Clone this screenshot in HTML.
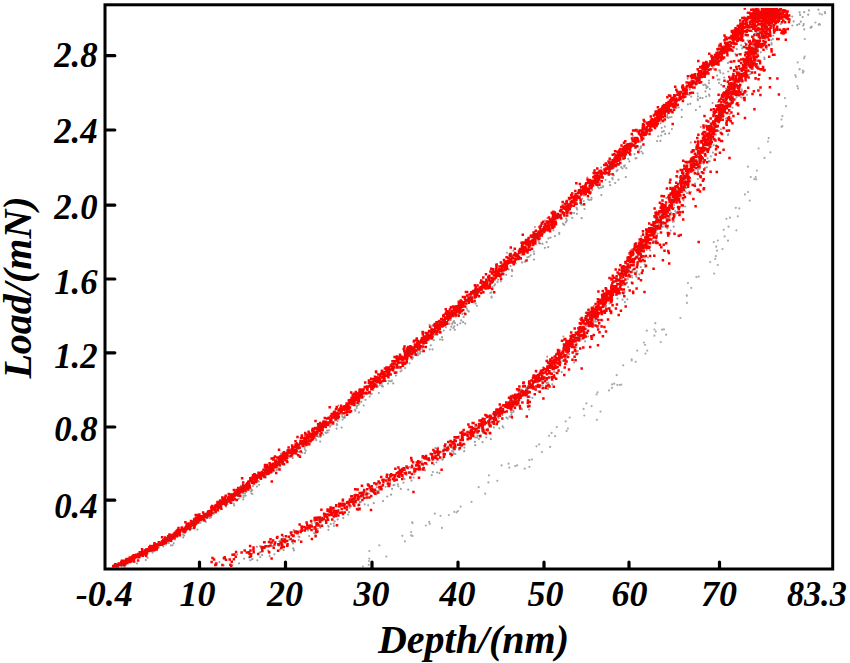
<!DOCTYPE html>
<html><head><meta charset="utf-8"><style>
html,body{margin:0;padding:0;background:#fff;}
body{width:850px;height:663px;overflow:hidden;}
svg{display:block;}
text{font-family:"Liberation Serif",serif;font-weight:bold;font-style:italic;font-size:36px;fill:#000;}
text.t{font-size:40px;}
</style></head><body>
<svg width="850" height="663" viewBox="0 0 850 663">
<defs><clipPath id="c"><rect x="106.5" y="8" width="724.7" height="559.5"/></clipPath><filter id="b" x="0" y="0" width="1" height="1"><feGaussianBlur stdDeviation="0.45"/></filter></defs>
<g clip-path="url(#c)"><g filter="url(#b)"><path d="M283.3 463.1h0M342.1 414.7h0M657.1 141.0h0M576.6 207.8h0M395.8 375.5h0M357.3 405.5h0M528.9 256.8h0M257.0 486.6h0M581.7 218.2h0M746.2 53.3h0M298.5 449.0h0M742.3 40.9h0M571.4 213.8h0M190.5 528.1h0M430.8 345.3h0M709.0 83.1h0M591.5 197.9h0M349.0 405.1h0M613.9 175.4h0M278.1 469.3h0M183.2 537.4h0M238.8 498.8h0M359.3 403.4h0M439.1 329.8h0M310.6 442.3h0M664.9 126.6h0M258.9 481.5h0M214.4 513.6h0M189.9 530.3h0M530.6 255.3h0M695.9 110.1h0M528.0 250.5h0M731.3 49.4h0M609.6 181.9h0M689.2 94.8h0M735.5 54.2h0M494.3 285.5h0M736.6 48.9h0M463.7 316.9h0M316.2 440.2h0M433.8 340.2h0M572.3 217.9h0M354.9 409.9h0M719.2 70.4h0M304.7 449.0h0M361.3 401.8h0M304.7 446.9h0M368.8 393.3h0M123.6 569.0h0M548.4 238.4h0M319.6 430.1h0M171.3 541.3h0M535.5 235.4h0M246.4 491.8h0M336.8 424.2h0M429.7 349.3h0M230.1 503.1h0M276.3 466.6h0M454.8 329.8h0M450.4 329.7h0M305.7 450.7h0M331.0 425.1h0M320.3 436.9h0M304.5 441.0h0M455.0 323.1h0M270.7 466.3h0M461.0 310.9h0M295.4 449.2h0M681.7 117.1h0M251.9 489.8h0M691.2 96.7h0M251.0 491.5h0M624.9 165.5h0M533.2 240.5h0M270.2 472.2h0M625.4 154.5h0M298.9 451.8h0M184.9 532.9h0M538.7 241.8h0M491.3 292.4h0M554.9 236.2h0M246.3 488.3h0M297.4 454.6h0M582.2 204.8h0M179.9 534.2h0M706.1 96.5h0M417.0 351.1h0M539.1 243.3h0M342.3 416.7h0M251.1 489.4h0M124.7 566.4h0M270.2 470.4h0M702.5 98.1h0M766.8 35.3h0M432.5 349.4h0M386.4 381.0h0M316.4 435.9h0M754.1 28.4h0M163.1 545.6h0M406.5 362.9h0M243.3 493.0h0M291.8 454.9h0M636.4 140.9h0M266.4 475.4h0M497.5 282.2h0M376.6 387.1h0M467.0 303.8h0M355.5 405.0h0M320.7 433.8h0M320.0 430.8h0M183.1 534.7h0M452.9 322.6h0M706.5 86.2h0M746.4 47.0h0M139.8 556.7h0M728.0 62.9h0M209.5 517.9h0M626.3 168.2h0M718.0 79.6h0M242.3 493.3h0M356.7 408.1h0M388.1 383.6h0M361.7 395.5h0M473.9 302.3h0M126.1 564.0h0M412.9 357.7h0M709.0 94.5h0M184.3 535.5h0M454.1 321.2h0M453.4 321.9h0M640.5 141.9h0M752.1 31.3h0M601.3 195.1h0M314.2 433.4h0M576.9 213.8h0M364.0 396.4h0M634.5 154.2h0M577.2 209.6h0M770.4 31.7h0M697.9 96.3h0M153.9 551.1h0M327.7 432.5h0M686.2 91.5h0M534.0 259.6h0M360.0 396.0h0M159.2 545.2h0M636.5 158.2h0M118.7 564.9h0M187.1 526.1h0M777.9 18.9h0M639.2 149.7h0M700.1 97.9h0M451.3 326.6h0M243.5 492.6h0M491.6 296.6h0M417.7 352.6h0M243.2 499.5h0M240.8 492.4h0M304.3 444.0h0M741.1 45.3h0M770.6 20.2h0M592.2 190.0h0M605.6 179.8h0M618.5 179.7h0M475.7 303.6h0M252.2 490.5h0M706.4 88.1h0M703.3 85.1h0M597.8 186.8h0M738.4 54.2h0M764.8 25.4h0M466.7 308.4h0M628.3 158.9h0M544.9 247.8h0M205.8 521.8h0M344.9 416.1h0M169.2 540.6h0M708.9 80.5h0M137.0 563.4h0M488.7 288.4h0M252.4 494.0h0M227.1 502.8h0M238.5 492.3h0M709.5 95.8h0M462.4 314.2h0M363.7 405.5h0M778.1 13.6h0M495.1 284.4h0M336.8 425.1h0M381.7 383.4h0M591.4 199.6h0M208.2 517.0h0M626.4 153.7h0M707.7 87.0h0M449.4 323.7h0M424.6 347.2h0M226.1 506.6h0M411.3 353.3h0M635.5 158.4h0M409.5 363.3h0M548.2 247.2h0M152.6 552.7h0M278.8 468.3h0M266.5 474.4h0M765.8 23.7h0M152.1 547.6h0M276.7 470.1h0M141.6 556.0h0M553.4 230.5h0M562.9 223.7h0M365.5 399.8h0M147.0 554.3h0M419.7 347.0h0M245.6 495.7h0M417.6 353.9h0M382.3 385.3h0M280.2 466.1h0M678.7 107.4h0M589.6 200.1h0M446.0 327.3h0M398.9 366.3h0M200.5 522.7h0M534.1 253.9h0M468.9 311.6h0M720.4 72.6h0M756.6 29.2h0M661.7 127.8h0M697.6 93.5h0M459.3 310.8h0M382.9 386.6h0M452.1 324.1h0M482.3 290.8h0M671.9 129.0h0M234.2 505.4h0M526.5 250.5h0M719.9 70.7h0M279.0 464.2h0M326.0 432.9h0M677.0 106.3h0M564.2 224.9h0M757.4 35.4h0M559.2 232.8h0M740.2 37.8h0M669.7 117.3h0M577.1 209.2h0M259.1 484.8h0M274.5 470.6h0M697.7 99.0h0M356.9 406.8h0M581.1 201.7h0M422.6 348.9h0M437.6 334.6h0M126.6 563.1h0M668.1 117.9h0M342.6 419.6h0M358.7 404.7h0M172.1 534.9h0M546.7 242.2h0M641.1 146.4h0M469.3 301.5h0M453.4 327.9h0M638.2 152.3h0M192.0 528.6h0M492.5 287.0h0M624.2 165.6h0M373.7 383.9h0M705.4 91.4h0M436.3 334.2h0M207.0 518.2h0M763.5 25.4h0M434.6 334.7h0M623.8 159.1h0M178.4 535.6h0M665.2 133.9h0M229.9 500.7h0M211.3 513.6h0M318.3 436.6h0M414.2 354.2h0M457.4 324.8h0M419.9 353.7h0M145.8 560.1h0M527.3 257.3h0M625.8 177.1h0M762.1 23.4h0M500.8 281.3h0M733.1 51.2h0M747.6 40.5h0M273.1 470.4h0M168.9 543.1h0M243.5 497.3h0M621.3 167.2h0M305.2 441.7h0M203.3 520.5h0M742.9 47.0h0M580.9 204.3h0M755.6 40.7h0M355.3 410.8h0M257.6 480.9h0M220.4 507.2h0M733.6 40.2h0M238.8 494.7h0M661.2 135.6h0M271.1 470.0h0M697.8 100.2h0M163.3 546.5h0M389.0 380.9h0M401.5 370.4h0M762.4 27.0h0M719.4 79.5h0M390.7 381.3h0M418.1 355.1h0M603.0 186.2h0M559.3 234.0h0M719.0 83.0h0M583.8 201.0h0M476.9 305.8h0M717.1 75.6h0M359.1 412.4h0M377.9 386.6h0M367.9 393.8h0M455.6 316.7h0M146.0 556.4h0M434.1 335.1h0M344.8 417.7h0M293.1 454.6h0M300.2 455.5h0M660.4 140.9h0M391.9 380.7h0M758.8 17.7h0M405.3 358.5h0M584.1 189.4h0M341.6 427.6h0M671.5 117.0h0M273.6 469.9h0M315.7 438.8h0M329.0 430.3h0M214.8 512.2h0M624.3 166.6h0M420.2 351.8h0M210.7 512.2h0M491.5 297.6h0M463.1 322.2h0M467.6 310.4h0M600.9 187.7h0M170.9 545.3h0M465.2 323.6h0M158.9 547.5h0M765.2 29.1h0M566.2 218.7h0M245.0 493.3h0M721.1 54.0h0M243.6 486.5h0M369.7 396.6h0M155.3 548.9h0M381.8 386.3h0M612.3 178.2h0M211.0 517.4h0M641.4 151.5h0M417.0 354.0h0M658.2 136.3h0M244.3 490.8h0M724.2 77.5h0M610.4 174.1h0M155.4 548.4h0M454.3 326.3h0M167.7 541.5h0M610.2 185.2h0M378.9 393.0h0M642.8 153.4h0M705.2 84.6h0M251.5 493.6h0M663.8 131.2h0M389.2 374.6h0M393.2 383.4h0M565.8 222.4h0M764.0 30.9h0M584.5 209.0h0M279.5 465.2h0M119.0 569.7h0M200.6 519.2h0M328.6 425.0h0M170.9 539.7h0M172.5 545.3h0M746.9 48.9h0M233.8 503.8h0M355.2 405.3h0M759.6 35.1h0M481.3 288.2h0M588.1 199.4h0M325.5 432.6h0M571.9 212.9h0M235.8 493.0h0M362.3 394.8h0M723.3 73.5h0M615.2 183.0h0M440.4 332.8h0M442.5 339.8h0M616.4 166.6h0M400.5 371.5h0M422.4 351.5h0M511.8 276.1h0M501.5 272.8h0M442.0 337.5h0M533.7 251.5h0M227.9 501.9h0M616.6 171.2h0M239.5 495.7h0M662.0 131.8h0M508.7 269.4h0M736.8 49.2h0M412.2 359.2h0M566.8 220.2h0M175.0 539.5h0M337.2 424.8h0M236.5 492.8h0M574.1 213.1h0M209.9 517.1h0M464.5 313.2h0M299.3 447.9h0M243.6 495.5h0M669.2 133.4h0M295.9 453.6h0M177.3 534.7h0M396.2 375.5h0M272.9 471.8h0M602.8 187.2h0M542.5 243.8h0M745.1 43.0h0M687.9 104.3h0M335.2 420.3h0M686.3 93.4h0M302.3 452.7h0M690.3 103.8h0M227.5 504.3h0M739.1 61.6h0M506.2 274.8h0M440.0 339.5h0M405.1 368.1h0M384.8 380.8h0M233.5 496.6h0M550.5 237.7h0M371.7 393.8h0M709.8 89.0h0M209.4 512.3h0M443.7 330.6h0M522.0 262.4h0M612.6 179.2h0M566.6 220.9h0M417.4 355.5h0M606.4 169.7h0M599.0 188.3h0M385.2 378.8h0M415.3 349.3h0M370.7 394.2h0M640.7 147.9h0M223.9 503.6h0M661.4 121.6h0M522.3 262.5h0M376.6 378.6h0M742.2 48.4h0M748.0 35.0h0M758.5 32.7h0M197.4 529.6h0M461.2 320.4h0M729.5 61.8h0M124.4 568.4h0M336.6 428.7h0M442.0 337.1h0M320.2 441.6h0M512.3 271.1h0M490.3 293.0h0M681.8 109.8h0M291.5 456.2h0M629.4 161.4h0M459.4 313.8h0M756.5 33.2h0M699.9 106.6h0M134.5 561.8h0M400.1 368.2h0M305.0 453.1h0M460.3 323.3h0M771.8 9.5h0M515.8 263.4h0M173.7 543.3h0M622.4 168.5h0M265.9 477.6h0M439.4 332.7h0M551.3 228.7h0M728.2 71.5h0M358.7 400.6h0M572.3 218.0h0M147.6 557.8h0M166.1 544.6h0M416.2 354.3h0M525.1 261.7h0M323.3 434.6h0M617.5 169.9h0M347.1 414.3h0M312.6 436.7h0M586.0 192.5h0M686.4 188.2h0M722.4 112.4h0M269.6 556.1h0M757.9 49.2h0M596.2 314.4h0M676.2 212.7h0M594.8 318.9h0M564.3 360.9h0M257.3 560.3h0M293.5 540.2h0M694.5 170.6h0M741.9 91.2h0M728.3 134.4h0M729.7 114.3h0M274.5 554.3h0M479.3 435.7h0M557.1 367.7h0M373.8 503.2h0M477.6 432.7h0M743.6 74.5h0M746.6 91.6h0M516.1 403.1h0M675.5 194.6h0M732.5 107.7h0M358.1 510.2h0M685.1 206.5h0M529.0 409.5h0M520.5 390.4h0M550.9 373.3h0M716.0 130.9h0M330.8 524.1h0M742.0 76.0h0M653.7 241.2h0M626.2 283.2h0M760.8 52.3h0M517.4 401.6h0M656.3 238.9h0M419.9 467.1h0M516.0 402.8h0M765.4 39.5h0M315.6 535.0h0M752.7 44.4h0M393.4 485.1h0M561.7 372.1h0M279.8 549.5h0M658.2 229.2h0M529.8 397.1h0M592.9 337.1h0M475.2 437.4h0M351.2 506.1h0M532.4 397.8h0M709.6 143.4h0M679.2 193.5h0M707.6 158.3h0M684.7 182.7h0M596.4 318.7h0M705.1 167.8h0M748.2 74.8h0M690.9 192.1h0M315.2 522.8h0M708.2 133.2h0M557.9 361.7h0M775.1 24.0h0M760.3 31.5h0M603.8 312.9h0M559.8 361.1h0M638.4 259.1h0M595.8 321.7h0M606.0 306.3h0M684.7 179.0h0M648.6 246.3h0M762.0 35.7h0M636.5 276.8h0M697.2 164.0h0M516.4 405.7h0M728.6 102.9h0M582.3 338.6h0M511.7 412.5h0M712.4 139.3h0M498.1 416.1h0M742.4 95.5h0M783.6 10.9h0M312.0 524.0h0M713.3 115.4h0M720.6 113.2h0M697.3 156.7h0M283.9 539.3h0M708.3 138.2h0M334.7 521.3h0M293.1 548.3h0M736.8 96.6h0M725.8 118.7h0M464.2 451.2h0M437.1 472.5h0M628.2 287.1h0M455.3 453.9h0M632.7 270.3h0M746.9 64.7h0M513.6 412.0h0M758.5 66.3h0M698.4 169.4h0M611.1 297.1h0M413.5 477.5h0M670.9 212.6h0M720.6 118.7h0M318.9 519.5h0M650.2 250.3h0M528.1 392.8h0M695.0 183.7h0M671.4 206.7h0M707.9 149.9h0M413.6 471.8h0M293.9 550.4h0M475.2 445.2h0M737.7 92.4h0M674.0 221.3h0M743.2 69.1h0M348.1 514.6h0M498.7 418.3h0M761.6 47.0h0M453.6 449.5h0M677.9 207.4h0M421.7 461.4h0M720.1 121.1h0M764.3 57.7h0M260.1 546.3h0M371.1 496.2h0M674.4 195.4h0M438.1 447.6h0M453.4 454.1h0M349.6 508.0h0M731.1 118.7h0M736.0 76.1h0M542.7 385.3h0M432.9 472.0h0M477.0 427.0h0M632.2 277.5h0M283.6 550.2h0M755.7 61.3h0M701.0 175.8h0M217.2 569.7h0M645.8 246.5h0M604.6 304.4h0M556.0 368.1h0M645.3 267.1h0M679.8 197.8h0M675.3 214.7h0M757.3 55.1h0M509.6 416.7h0M511.4 414.7h0M368.2 505.3h0M747.0 94.8h0M439.7 457.8h0M499.2 414.8h0M667.6 218.5h0M414.4 474.2h0M607.3 308.9h0M667.4 228.5h0M666.2 217.7h0M511.0 412.1h0M603.2 312.4h0M716.4 145.3h0M423.6 467.4h0M328.4 529.8h0M761.7 69.0h0M663.2 224.4h0M639.3 274.4h0M609.8 308.0h0M569.2 354.2h0M431.8 475.1h0M771.6 44.4h0M576.7 343.7h0M364.7 504.3h0M643.9 250.4h0M388.1 481.7h0M522.1 409.2h0M269.5 553.3h0M552.3 384.4h0M748.7 74.8h0M781.1 18.9h0M453.5 452.0h0M618.2 294.0h0M733.1 94.2h0M560.8 362.8h0M627.3 265.8h0M526.2 388.2h0M773.3 15.7h0M770.7 27.5h0M483.1 432.8h0M404.5 479.1h0M644.8 264.6h0M439.5 473.2h0M703.0 134.1h0M400.8 488.9h0M577.8 351.2h0M730.7 100.7h0M459.0 449.8h0M275.6 542.0h0M592.6 324.4h0M387.2 496.5h0M318.5 523.9h0M378.8 490.4h0M293.0 543.5h0M773.3 35.6h0M252.6 559.1h0M744.6 74.7h0M687.1 193.2h0M349.7 507.8h0M624.9 302.2h0M499.3 428.3h0M477.2 437.7h0M682.4 187.3h0M336.5 516.1h0M674.4 201.5h0M360.7 502.1h0M774.8 30.5h0M564.5 350.9h0M250.2 560.3h0M443.1 458.5h0M597.3 312.7h0M336.5 525.3h0M655.4 242.5h0M682.1 198.4h0M704.6 149.7h0M673.6 202.8h0M251.9 559.2h0M483.0 425.1h0M634.4 272.5h0M707.0 139.5h0M376.6 494.3h0M784.0 17.3h0M642.2 255.8h0M773.3 22.1h0M560.0 359.6h0M736.7 96.3h0M640.4 251.3h0M565.9 357.7h0M648.0 257.5h0M530.6 383.0h0M733.2 92.9h0M349.0 512.2h0M586.0 325.8h0M477.5 431.0h0M745.5 65.0h0M771.3 40.1h0M629.2 259.0h0M562.5 360.8h0M729.8 105.3h0M609.5 303.5h0M710.1 136.5h0M697.7 168.1h0M244.1 558.7h0M638.5 255.7h0M627.3 299.4h0M729.6 118.3h0M636.1 257.3h0M745.2 70.6h0M711.5 146.5h0M502.5 426.3h0M736.2 92.9h0M713.7 145.2h0M358.5 505.6h0M631.5 282.4h0M576.2 341.6h0M477.7 432.2h0M685.5 191.4h0M718.8 131.1h0M643.2 256.4h0M771.5 43.1h0M328.6 526.7h0M716.1 134.6h0M317.8 524.0h0M703.6 163.6h0M672.6 218.2h0M656.6 230.2h0M488.0 428.7h0M449.1 448.9h0M689.2 183.7h0M518.8 403.8h0M718.5 110.3h0M546.4 378.9h0M567.1 354.1h0M674.1 205.0h0M411.5 480.7h0M721.0 129.3h0M360.1 508.1h0M542.1 381.3h0M293.5 548.6h0M656.5 229.4h0M538.6 391.4h0M602.8 300.9h0M736.5 97.2h0M307.9 530.4h0M673.2 196.4h0M546.6 383.1h0M260.2 557.0h0M675.2 211.0h0M459.1 448.7h0M697.8 170.0h0M763.3 45.0h0M605.5 307.6h0M623.7 285.1h0M728.0 135.1h0M655.7 228.7h0M511.2 403.0h0M684.4 182.3h0M668.5 211.4h0M358.5 507.6h0M636.1 275.7h0M697.8 179.0h0M738.2 89.7h0M398.3 486.3h0M670.7 230.6h0M474.9 441.9h0M708.8 161.1h0M533.0 386.7h0M689.3 191.5h0M218.0 570.3h0M641.3 249.3h0M746.6 76.9h0M786.8 12.5h0M675.3 198.6h0M766.8 49.0h0M602.6 320.4h0M631.8 275.8h0M748.8 71.2h0M688.7 182.2h0M766.1 44.9h0M624.6 292.3h0M773.8 14.6h0M239.0 563.4h0M597.9 321.0h0M469.6 437.5h0M365.7 494.3h0M623.4 283.2h0M553.2 360.9h0M442.5 459.8h0M621.8 284.9h0M395.4 479.0h0M358.0 505.3h0M742.0 75.7h0M543.9 377.1h0M334.0 526.0h0M654.5 232.8h0M744.8 52.7h0M337.7 519.4h0M581.0 332.5h0M259.6 552.5h0M709.7 161.4h0M706.8 150.4h0M636.4 272.9h0M577.4 334.3h0M481.7 428.1h0M610.5 295.7h0M617.4 298.5h0M586.3 328.5h0M552.3 359.9h0M786.0 14.3h0M677.7 197.3h0M436.5 462.3h0M343.2 518.1h0M383.0 501.1h0M712.9 139.2h0M764.5 59.2h0M364.1 494.5h0M554.1 371.9h0M314.0 533.3h0M622.2 268.3h0M369.2 493.5h0M515.5 403.6h0M464.4 447.6h0M684.8 185.4h0M568.5 351.8h0M654.3 233.5h0M493.9 427.4h0M461.4 446.6h0M223.7 565.3h0M292.2 541.9h0M333.7 523.6h0M604.3 304.9h0M615.7 295.0h0M527.4 397.6h0M506.4 417.6h0M772.9 38.8h0M665.9 224.6h0M730.4 92.5h0M598.4 325.7h0M710.8 156.3h0M623.6 294.6h0M777.9 29.2h0M533.3 382.6h0M620.1 288.6h0M548.2 382.7h0M585.1 341.3h0M486.5 430.2h0M708.6 149.7h0M670.1 205.4h0M698.0 171.8h0M671.3 194.5h0M687.0 185.1h0M783.9 20.6h0M689.5 171.4h0M512.4 418.3h0M574.1 362.5h0M451.3 456.3h0M627.2 275.9h0M580.0 338.4h0M455.5 445.1h0M622.3 292.7h0M540.6 378.5h0M487.6 431.1h0M555.7 362.5h0M392.1 488.9h0M538.7 378.7h0M581.3 339.4h0M314.7 528.5h0M741.2 97.5h0M609.4 301.3h0M464.9 444.5h0M228.0 569.9h0M757.4 45.7h0M565.5 350.4h0M601.7 314.0h0M502.6 413.1h0M622.5 299.7h0M729.1 111.2h0M309.2 536.0h0M627.6 276.6h0M579.9 319.0h0M705.0 167.8h0M674.2 207.5h0M723.7 98.6h0M740.5 76.6h0M662.7 226.9h0M486.3 437.4h0M317.3 531.9h0M741.7 89.4h0M215.7 568.7h0M685.6 181.0h0M603.7 306.6h0M394.4 485.0h0M537.8 379.6h0M694.8 173.7h0M507.6 418.6h0M687.4 163.4h0M586.4 332.1h0M746.0 74.7h0M513.4 410.5h0M548.0 388.9h0M775.5 11.5h0M673.7 226.7h0M766.2 47.6h0M408.2 489.7h0M595.1 319.9h0M425.1 470.4h0M551.5 373.2h0M403.5 482.6h0M638.0 256.9h0M560.0 359.5h0M602.7 311.6h0M636.7 271.3h0M708.5 134.9h0M593.8 321.8h0M600.6 310.8h0M540.1 387.5h0M683.6 200.5h0M352.3 501.5h0M723.1 110.2h0M320.4 526.7h0M659.2 223.4h0M578.1 353.8h0M482.6 442.2h0M554.4 375.8h0M595.8 325.5h0M219.4 562.1h0M586.9 325.8h0M328.2 525.8h0M632.7 283.7h0M482.4 431.5h0M397.8 484.4h0M706.9 167.3h0M503.4 427.5h0M287.6 540.8h0M318.0 531.0h0M541.9 388.5h0M657.1 220.9h0M659.2 227.9h0M433.9 464.5h0M403.4 477.5h0M750.6 74.0h0M452.1 450.8h0M644.9 239.2h0M625.1 272.1h0M765.6 20.0h0M495.0 416.7h0M697.1 174.2h0M594.2 325.4h0M555.5 372.6h0M712.9 152.6h0M378.6 487.4h0M249.1 557.4h0M529.1 396.5h0M601.8 326.0h0M735.4 99.4h0M592.5 324.4h0M576.4 347.5h0M658.8 224.4h0M725.8 94.0h0M644.7 257.7h0M611.1 297.7h0M711.5 146.5h0M273.0 546.0h0M418.9 467.1h0M588.1 336.5h0M583.0 338.7h0M640.8 267.2h0M353.9 504.1h0M298.7 540.1h0M479.0 439.0h0M780.7 24.2h0M761.5 47.8h0M765.3 44.4h0M624.0 282.7h0M477.3 435.7h0M657.6 233.6h0M551.0 376.9h0M261.9 549.6h0M262.2 555.1h0M359.8 498.7h0M560.3 363.8h0M747.1 71.5h0M480.6 435.0h0M684.3 187.9h0M377.9 492.3h0M518.9 396.3h0M672.9 221.8h0M661.9 214.8h0M281.4 539.1h0M232.4 565.0h0M726.7 118.4h0M567.1 355.0h0M713.2 134.5h0M592.9 315.9h0M391.1 494.7h0M540.4 373.5h0M490.8 439.2h0M747.7 56.2h0M737.6 80.8h0M490.8 425.3h0M703.7 151.1h0M811.6 27.1h0M790.1 20.1h0M799.6 12.4h0M800.8 21.7h0M809.0 10.4h0M800.1 14.9h0M824.8 12.0h0M808.2 14.7h0M804.2 12.2h0M819.3 24.0h0M797.2 24.9h0M811.5 26.7h0M825.2 13.2h0M819.9 24.4h0M804.2 29.3h0M792.2 16.6h0M803.2 25.5h0M799.3 24.1h0M818.8 24.7h0M802.7 17.0h0M803.8 24.0h0M792.3 25.5h0M810.6 27.7h0M793.6 21.4h0M818.4 9.7h0" stroke="#777" stroke-opacity="0.7" stroke-width="2.2" stroke-linecap="round" fill="none"/>
<path d="M655.3 323.2h0M654.4 335.7h0M717.8 265.0h0M434.8 513.7h0M517.2 465.3h0M631.7 360.5h0M756.9 170.6h0M597.5 392.4h0M729.9 217.7h0M781.5 119.5h0M798.0 88.4h0M429.7 523.8h0M631.7 359.4h0M680.4 318.0h0M440.5 515.8h0M441.9 527.9h0M551.6 432.9h0M804.8 39.0h0M536.5 446.3h0M369.0 561.1h0M717.8 240.5h0M784.9 98.1h0M412.1 522.4h0M713.8 242.1h0M637.3 350.6h0M802.8 72.7h0M497.3 480.8h0M696.4 277.1h0M691.3 287.9h0M736.4 230.3h0M411.1 535.3h0M471.5 501.9h0M728.5 226.7h0M716.2 246.7h0M529.4 466.8h0M457.9 511.0h0M786.0 106.2h0M822.0 14.5h0M614.2 383.7h0M456.6 512.4h0M362.9 566.6h0M723.7 229.8h0M686.9 295.8h0M647.3 350.6h0M412.6 523.1h0M612.0 387.9h0M755.7 177.0h0M764.5 157.9h0M747.9 166.7h0M583.6 408.9h0M539.2 444.4h0M529.3 459.9h0M616.7 375.2h0M750.8 177.0h0M386.3 556.5h0M744.9 194.4h0M726.4 218.8h0M501.6 465.4h0M799.7 69.2h0M646.8 330.7h0M645.5 353.6h0M379.3 545.3h0M795.9 76.8h0M619.7 385.0h0M369.3 551.1h0M722.5 249.1h0M541.9 452.1h0M369.3 558.6h0M524.7 468.7h0M768.7 138.1h0M756.2 179.4h0M621.3 384.6h0M815.4 22.5h0M425.8 525.5h0M686.9 302.9h0M454.3 511.8h0M795.3 75.0h0M478.7 487.2h0M666.1 334.7h0M768.0 141.5h0M549.0 435.8h0M643.8 342.5h0M566.6 430.9h0M715.8 256.2h0M686.8 295.4h0M532.0 459.5h0M609.0 390.4h0M737.8 216.3h0M567.9 428.5h0M584.3 415.5h0M782.4 116.1h0M612.1 384.4h0M819.7 13.7h0M404.9 541.3h0M488.9 475.3h0M596.6 394.5h0M402.3 535.8h0M781.5 126.8h0M509.3 467.7h0M724.6 236.4h0M645.1 344.8h0M429.2 521.8h0M758.6 148.5h0M739.3 208.4h0M715.2 259.0h0M565.7 421.3h0M654.5 329.5h0M556.8 427.1h0M714.2 273.6h0M368.7 564.8h0M797.3 86.1h0M660.7 342.1h0M804.0 58.3h0M655.8 331.6h0M586.4 403.3h0M735.8 207.8h0M748.0 192.0h0M797.7 62.4h0M515.3 466.1h0M596.9 419.8h0M717.1 250.7h0M802.8 70.6h0M411.1 532.1h0M664.0 329.3h0M460.7 506.6h0M508.6 463.7h0M485.2 493.7h0M749.8 200.6h0M555.1 436.2h0M488.4 482.4h0M662.1 329.7h0M591.6 406.1h0M617.3 384.8h0M728.0 240.7h0M550.1 446.9h0M803.7 71.6h0M569.7 417.6h0M710.2 262.0h0M688.0 283.0h0M635.7 361.8h0M782.3 126.2h0M804.7 56.6h0M698.7 276.5h0M623.2 365.3h0M600.5 411.6h0M448.9 515.0h0M799.4 69.4h0M770.4 152.3h0M754.3 179.1h0M412.5 535.9h0" stroke="#888" stroke-opacity="0.7" stroke-width="2.2" stroke-linecap="round" fill="none"/>
<path d="M413.8 341.5h0M260.6 478.1h0M145.7 550.7h0M655.5 124.5h0M384.9 368.6h0M266.4 471.7h0M686.7 90.0h0M731.3 43.6h0M549.9 219.6h0M700.3 67.6h0M383.0 377.1h0M599.2 179.5h0M567.0 207.2h0M355.9 399.8h0M251.0 480.7h0M460.9 301.9h0M266.8 473.8h0M525.9 251.2h0M347.0 411.7h0M139.0 555.5h0M494.4 271.7h0M667.4 97.3h0M517.7 254.4h0M401.7 362.5h0M389.1 372.0h0M263.7 474.9h0M585.8 184.5h0M314.4 436.4h0M527.4 249.6h0M396.2 372.5h0M350.0 407.6h0M114.1 569.3h0M700.2 66.9h0M255.2 475.7h0M441.2 319.0h0M175.3 535.9h0M151.9 548.1h0M129.4 558.8h0M427.3 333.1h0M571.1 205.2h0M188.6 523.4h0M126.1 562.2h0M630.9 146.6h0M608.8 174.5h0M308.3 438.1h0M320.1 422.9h0M163.4 543.7h0M441.1 324.5h0M582.8 191.6h0M340.6 409.3h0M501.3 269.8h0M325.1 422.1h0M383.1 373.8h0M234.5 493.8h0M474.8 297.4h0M319.7 431.0h0M281.2 456.1h0M733.1 39.8h0M727.9 42.8h0M738.9 34.4h0M140.5 555.1h0M438.8 325.1h0M519.1 256.8h0M541.8 235.4h0M223.5 500.6h0M615.1 160.5h0M194.4 520.6h0M194.4 519.7h0M175.8 532.0h0M376.1 377.3h0M683.5 87.5h0M297.3 448.1h0M340.6 412.3h0M377.4 377.6h0M174.9 533.1h0M620.8 155.6h0M676.5 101.0h0M430.6 337.8h0M148.4 550.3h0M646.4 131.1h0M717.5 49.2h0M164.2 540.5h0M590.3 186.2h0M527.3 241.7h0M217.3 505.3h0M747.6 35.3h0M522.6 252.4h0M629.2 146.3h0M727.7 49.9h0M142.7 553.5h0M442.8 319.8h0M422.5 339.8h0M539.4 232.1h0M662.7 116.7h0M628.4 146.2h0M170.1 537.4h0M218.6 503.4h0M522.3 244.7h0M297.4 445.9h0M284.2 456.6h0M455.5 312.5h0M278.9 462.6h0M137.9 555.9h0M340.5 407.9h0M668.4 109.0h0M704.9 63.0h0M440.8 324.5h0M697.9 79.0h0M671.2 109.9h0M343.7 407.2h0M567.0 207.2h0M172.8 535.9h0M653.9 115.6h0M203.7 517.9h0M545.5 225.4h0M434.7 331.6h0M670.0 100.4h0M147.8 551.0h0M728.3 47.8h0M345.5 407.2h0M664.5 119.4h0M241.2 490.5h0M685.7 92.8h0M541.8 223.4h0M424.2 341.5h0M735.5 28.3h0M675.1 95.8h0M149.2 548.3h0M142.0 552.8h0M358.9 401.3h0M546.5 225.4h0M133.3 558.1h0M362.9 390.2h0M502.0 267.4h0M305.7 434.6h0M607.1 169.0h0M129.9 560.0h0M620.5 148.9h0M593.7 173.0h0M229.0 496.7h0M284.9 456.6h0M566.9 202.8h0M194.9 518.7h0M361.5 394.5h0M552.7 213.9h0M460.3 308.4h0M569.1 208.8h0M543.3 221.8h0M426.3 338.7h0M523.9 249.4h0M576.2 199.9h0M613.2 167.5h0M460.3 312.0h0M315.7 432.8h0M519.4 253.0h0M301.1 443.6h0M264.9 471.6h0M445.6 324.0h0M494.3 278.5h0M599.6 176.5h0M177.0 536.2h0M333.2 422.5h0M657.7 123.5h0M517.0 255.4h0M151.5 549.0h0M117.0 568.5h0M685.3 96.4h0M537.7 238.1h0M724.2 47.5h0M145.3 551.7h0M581.2 194.5h0M674.9 101.3h0M741.6 36.7h0M304.2 444.3h0M447.1 312.7h0M320.9 428.9h0M698.2 80.0h0M447.2 315.2h0M605.4 165.0h0M252.5 481.8h0M697.2 77.7h0M459.5 312.7h0M496.8 273.6h0M602.1 177.4h0M264.7 476.7h0M598.2 182.1h0M659.0 115.4h0M161.5 543.1h0M612.6 161.5h0M370.6 383.4h0M716.5 62.3h0M735.9 30.3h0M599.9 171.1h0M626.8 144.8h0M447.7 318.1h0M527.0 244.5h0M646.3 131.5h0M458.9 309.8h0M633.1 130.5h0M705.0 65.0h0M499.7 269.8h0M574.2 202.4h0M558.8 217.2h0M116.2 565.0h0M750.6 17.0h0M392.5 361.2h0M155.7 546.9h0M241.9 489.1h0M447.9 319.1h0M536.9 235.0h0M660.3 111.5h0M359.6 389.8h0M580.6 200.0h0M748.4 12.7h0M198.8 517.0h0M295.9 451.2h0M217.4 504.5h0M511.3 261.1h0M371.8 389.1h0M295.4 451.9h0M517.1 256.5h0M628.1 148.8h0M625.1 155.0h0M283.4 458.8h0M616.5 161.4h0M218.3 506.0h0M425.0 337.0h0M495.9 268.9h0M206.8 517.1h0M603.4 172.7h0M618.6 164.3h0M406.8 348.9h0M647.0 122.7h0M526.3 244.0h0M174.0 533.8h0M207.9 513.0h0M614.5 158.4h0M240.8 489.0h0M554.3 219.1h0M294.7 453.1h0M274.5 466.5h0M449.7 313.0h0M135.3 556.9h0M710.0 63.2h0M151.6 550.6h0M612.7 154.7h0M547.8 222.2h0M293.5 450.8h0M476.6 289.0h0M446.8 322.3h0M476.7 288.7h0M667.3 108.3h0M444.6 323.7h0M129.8 562.1h0M669.8 111.0h0M367.6 387.3h0M741.0 36.8h0M305.8 437.4h0M580.9 192.5h0M411.5 354.2h0M619.4 151.0h0M569.8 208.9h0M508.2 258.3h0M534.3 240.7h0M134.6 557.5h0M206.2 515.7h0M398.3 363.1h0M640.0 130.6h0M127.9 560.8h0M145.4 552.7h0M135.5 556.7h0M678.6 100.1h0M711.7 56.6h0M122.4 562.7h0M471.9 300.5h0M424.1 339.7h0M139.2 555.2h0M459.9 307.8h0M419.1 347.8h0M233.0 494.4h0M660.3 118.8h0M516.4 254.8h0M548.5 224.4h0M292.4 448.0h0M127.3 562.9h0M344.0 409.7h0M726.6 44.4h0M679.6 95.0h0M278.7 459.6h0M658.7 120.8h0M659.8 110.3h0M114.4 566.7h0M546.9 225.4h0M676.4 99.6h0M578.0 193.2h0M194.8 520.6h0M619.8 158.8h0M190.2 527.8h0M400.5 356.9h0M156.9 544.7h0M209.0 511.8h0M366.9 386.6h0M546.4 229.1h0M394.6 357.0h0M480.6 282.7h0M153.8 546.4h0M489.3 280.3h0M745.7 27.2h0M382.5 377.5h0M193.1 524.2h0M630.7 143.8h0M304.7 440.1h0M509.3 262.7h0M699.5 79.8h0M117.1 567.2h0M127.5 560.6h0M193.3 522.3h0M455.6 315.2h0M540.1 235.0h0M403.2 362.6h0M154.5 546.7h0M466.0 300.2h0M149.4 550.3h0M570.4 198.0h0M347.5 408.1h0M652.3 121.6h0M634.6 139.0h0M276.0 463.7h0M364.8 387.0h0M222.6 502.2h0M362.3 397.5h0M745.3 19.6h0M542.2 230.9h0M492.5 273.4h0M707.5 71.8h0M431.7 338.4h0M264.9 466.9h0M304.8 441.8h0M539.6 234.0h0M129.7 560.9h0M117.5 567.0h0M149.5 550.1h0M418.8 346.3h0M437.3 325.1h0M174.5 537.9h0M383.0 377.6h0M145.8 550.2h0M466.0 300.6h0M148.7 549.8h0M719.7 48.8h0M297.5 444.9h0M390.8 365.6h0M228.8 501.1h0M699.4 82.8h0M275.9 464.6h0M171.8 538.8h0M456.4 306.4h0M138.4 555.6h0M640.0 134.6h0M724.0 53.1h0M717.8 53.0h0M377.2 380.0h0M521.5 249.6h0M635.2 139.0h0M658.3 113.3h0M727.1 49.4h0M153.3 546.0h0M477.9 290.9h0M477.6 285.6h0M219.7 502.2h0M750.7 14.0h0M216.9 505.4h0M313.1 436.7h0M189.1 524.4h0M291.6 449.6h0M472.2 293.2h0M663.5 113.5h0M597.4 181.0h0M250.9 481.2h0M349.2 403.1h0M247.3 488.3h0M475.9 296.7h0M298.1 446.5h0M122.1 563.5h0M115.2 564.3h0M256.1 477.2h0M428.6 339.1h0M597.1 176.3h0M726.3 37.6h0M440.2 323.6h0M120.7 563.7h0M485.7 285.3h0M446.7 318.5h0M642.8 133.7h0M481.0 293.0h0M553.9 218.1h0M287.0 452.7h0M169.7 538.0h0M733.5 40.7h0M458.8 303.8h0M203.2 517.8h0M118.7 563.4h0M275.2 461.6h0M388.9 371.8h0M596.2 183.9h0M143.6 552.3h0M641.5 137.7h0M281.7 458.7h0M285.3 453.8h0M699.3 74.0h0M471.6 298.3h0M439.2 327.5h0M643.2 138.6h0M741.9 32.0h0M609.5 170.8h0M539.5 238.4h0M142.6 551.9h0M260.2 472.9h0M376.7 380.1h0M620.3 159.5h0M226.2 503.7h0M162.5 541.2h0M127.4 560.6h0M504.6 262.4h0M344.5 406.3h0M402.9 365.8h0M483.3 285.4h0M748.0 17.1h0M456.0 307.3h0M657.8 111.4h0M203.6 518.0h0M530.0 242.0h0M190.0 529.1h0M535.3 243.4h0M429.2 331.4h0M295.6 444.5h0M138.2 553.9h0M155.2 547.7h0M501.1 279.0h0M459.7 306.0h0M419.3 341.8h0M375.7 381.0h0M662.7 110.0h0M238.2 488.1h0M287.9 452.6h0M378.8 374.6h0M200.0 518.6h0M145.2 551.4h0M421.3 340.1h0M460.6 307.7h0M243.2 485.2h0M425.5 341.4h0M383.7 377.0h0M679.7 99.3h0M246.5 484.4h0M207.3 513.9h0M487.2 285.8h0M476.0 293.4h0M113.6 566.0h0M727.7 47.4h0M435.2 327.7h0M616.6 157.9h0M367.0 388.6h0M334.7 411.7h0M689.2 82.8h0M323.2 422.4h0M677.6 94.4h0M450.4 316.8h0M667.5 111.5h0M741.6 32.4h0M192.5 524.9h0M630.8 144.5h0M168.2 538.3h0M747.4 19.2h0M254.2 482.2h0M661.0 114.6h0M609.3 167.6h0M275.9 464.3h0M206.9 517.3h0M270.5 465.6h0M459.3 306.2h0M399.9 356.7h0M535.9 234.1h0M462.4 306.7h0M499.3 269.8h0M483.3 277.4h0M163.3 540.3h0M608.7 167.3h0M734.0 38.6h0M669.0 104.7h0M609.4 167.9h0M273.2 465.3h0M544.5 228.2h0M174.1 536.2h0M535.3 239.0h0M566.7 201.1h0M340.5 410.4h0M357.9 400.6h0M725.0 49.1h0M197.9 522.1h0M468.5 297.4h0M316.8 433.1h0M652.0 123.6h0M590.3 183.8h0M620.7 155.5h0M745.3 31.2h0M124.5 561.7h0M616.3 158.8h0M138.4 554.7h0M621.6 152.8h0M422.4 340.3h0M709.8 63.6h0M565.6 208.3h0M253.9 483.5h0M259.9 473.6h0M655.9 111.6h0M188.8 528.6h0M217.9 510.3h0M155.6 544.3h0M449.8 314.3h0M470.7 299.8h0M636.1 139.0h0M554.3 217.0h0M166.2 538.5h0M642.9 126.3h0M129.8 561.3h0M169.9 537.5h0M744.4 17.7h0M224.6 503.0h0M682.9 96.3h0M120.0 564.8h0M393.3 367.4h0M694.9 74.3h0M292.1 452.2h0M586.2 187.5h0M202.4 516.2h0M359.6 392.7h0M536.7 236.3h0M300.8 451.6h0M192.9 523.0h0M304.7 440.9h0M209.7 512.0h0M369.6 386.5h0M576.6 203.8h0M418.3 347.3h0M234.9 499.2h0M489.2 286.0h0M674.2 95.2h0M151.8 549.8h0M424.7 338.6h0M410.5 346.3h0M597.7 172.7h0M718.2 55.1h0M416.2 350.5h0M748.2 27.6h0M372.3 385.4h0M231.3 495.6h0M289.2 453.1h0M644.9 132.5h0M438.4 328.2h0M171.3 536.4h0M595.2 173.3h0M706.9 64.1h0M684.4 93.3h0M370.0 386.4h0M284.6 458.9h0M314.6 434.8h0M335.4 413.5h0M702.6 73.9h0M696.4 83.0h0M238.6 490.0h0M665.2 107.8h0M233.3 498.1h0M302.8 441.3h0M651.2 125.1h0M474.2 293.2h0M565.2 208.6h0M528.0 243.5h0M477.3 294.9h0M434.4 330.9h0M499.2 271.1h0M727.6 47.7h0M553.3 219.2h0M615.4 157.1h0M662.5 108.9h0M589.2 192.6h0M563.5 208.4h0M671.6 100.7h0M374.1 385.6h0M299.2 447.7h0M179.7 533.0h0M592.1 185.8h0M321.6 424.4h0M520.7 258.4h0M465.2 306.6h0M271.8 466.7h0M658.1 117.1h0M203.1 512.6h0M217.6 505.2h0M470.9 300.2h0M366.0 393.4h0M147.2 550.4h0M135.8 555.8h0M262.4 474.4h0M480.7 287.1h0M655.3 120.5h0M266.7 473.0h0M496.7 264.4h0M475.1 293.1h0M666.5 103.2h0M656.7 121.7h0M204.9 514.0h0M711.4 56.0h0M742.7 31.7h0M673.1 105.6h0M554.2 216.8h0M420.0 347.9h0M584.5 188.6h0M641.8 132.3h0M129.3 560.2h0M256.3 478.4h0M321.4 425.4h0M183.7 531.9h0M695.8 78.2h0M517.4 256.0h0M514.6 254.7h0M576.0 196.0h0M221.0 503.3h0M594.6 176.1h0M287.2 457.8h0M373.4 379.3h0M503.6 266.7h0M505.3 266.4h0M178.1 529.8h0M698.3 78.7h0M257.2 475.5h0M432.2 329.9h0M489.4 275.8h0M691.2 86.8h0M312.3 430.3h0M671.2 99.9h0M565.5 209.1h0M286.8 460.9h0M282.1 461.7h0M588.7 190.4h0M350.5 399.9h0M591.5 187.9h0M520.8 249.7h0M346.2 405.8h0M425.8 346.9h0M354.0 405.1h0M271.4 468.2h0M381.2 373.7h0M285.4 457.2h0M274.9 467.3h0M611.7 165.2h0M179.6 534.2h0M158.4 544.0h0M635.6 143.0h0M499.1 275.0h0M282.6 458.6h0M558.0 214.4h0M527.6 250.0h0M177.7 533.5h0M533.1 241.3h0M669.1 104.3h0M431.2 334.4h0M522.1 251.5h0M632.8 145.3h0M482.2 287.5h0M593.7 183.0h0M479.9 288.4h0M655.6 122.0h0M244.6 487.1h0M520.1 250.3h0M225.7 505.0h0M154.5 543.2h0M253.1 477.2h0M552.5 221.1h0M635.5 139.0h0M715.5 69.4h0M225.3 503.7h0M617.5 163.9h0M707.0 65.1h0M753.0 15.8h0M701.6 67.6h0M592.4 180.8h0M226.5 502.5h0M285.7 454.1h0M627.1 152.2h0M461.7 306.5h0M746.1 18.5h0M258.9 474.4h0M356.0 397.5h0M723.9 52.9h0M227.9 498.0h0M679.6 92.8h0M657.6 117.6h0M625.8 150.1h0M230.4 498.2h0M197.0 522.1h0M436.5 322.2h0M293.1 449.4h0M297.7 448.1h0M264.4 477.0h0M233.5 497.3h0M739.6 32.4h0M485.3 284.6h0M358.9 393.6h0M236.5 495.1h0M271.0 464.7h0M147.6 549.3h0M683.3 89.6h0M402.3 359.0h0M673.8 106.2h0M505.1 265.2h0M349.1 409.2h0M256.3 481.9h0M172.4 538.4h0M706.1 71.9h0M419.3 345.0h0M303.9 441.9h0M586.9 191.8h0M144.9 552.4h0M125.2 561.7h0M196.1 522.9h0M309.3 440.4h0M509.7 260.8h0M652.2 121.2h0M742.3 29.5h0M539.6 226.9h0M446.9 322.6h0M535.1 236.5h0M133.8 559.2h0M218.9 507.6h0M646.1 129.3h0M406.9 355.0h0M481.2 280.6h0M203.3 516.6h0M275.8 460.8h0M346.6 409.2h0M615.6 159.4h0M750.3 23.7h0M443.7 320.2h0M208.7 511.3h0M353.1 398.3h0M260.9 478.8h0M244.7 488.7h0M402.2 358.5h0M416.6 346.8h0M258.3 475.4h0M278.1 462.5h0M497.9 270.6h0M664.9 119.6h0M609.1 162.9h0M746.5 25.7h0M563.0 206.6h0M297.0 443.4h0M434.9 324.1h0M380.9 382.1h0M122.9 564.1h0M296.7 450.9h0M542.3 233.8h0M343.3 408.5h0M176.1 532.4h0M354.8 397.0h0M130.7 557.7h0M324.9 423.6h0M575.2 197.4h0M540.9 230.0h0M674.8 107.1h0M386.6 367.7h0M483.8 285.3h0M186.5 526.2h0M146.5 550.7h0M386.6 371.1h0M425.2 342.2h0M520.3 248.9h0M249.2 484.5h0M296.0 453.2h0M635.5 147.4h0M341.7 412.4h0M545.0 230.4h0M618.5 164.6h0M316.4 434.0h0M214.2 508.9h0M232.0 495.6h0M727.2 43.2h0M231.7 497.7h0M692.4 82.9h0M432.5 337.0h0M604.5 169.5h0M707.2 72.6h0M643.0 134.9h0M314.3 434.1h0M471.1 300.5h0M236.2 494.2h0M547.8 225.6h0M254.3 476.3h0M143.1 552.8h0M666.0 105.3h0M117.0 566.3h0M715.8 58.2h0M302.7 442.1h0M289.5 450.4h0M401.3 357.5h0M430.7 337.6h0M282.3 461.3h0M406.2 354.0h0M598.2 181.8h0M347.7 404.8h0M619.7 149.9h0M181.4 530.3h0M220.9 504.2h0M358.8 393.2h0M573.9 198.0h0M501.2 269.9h0M414.9 344.4h0M713.4 60.3h0M656.5 120.8h0M376.1 377.9h0M616.9 156.8h0M624.1 147.6h0M560.6 214.9h0M729.6 50.2h0M717.7 58.9h0M129.9 557.5h0M756.5 18.5h0M533.0 235.8h0M702.2 73.0h0M248.7 481.4h0M166.2 542.7h0M164.6 541.3h0M132.7 557.7h0M592.1 183.5h0M343.9 413.3h0M458.8 301.8h0M347.2 408.4h0M186.7 527.4h0M225.0 497.5h0M136.2 556.8h0M472.0 297.6h0M735.3 35.0h0M572.2 197.4h0M293.0 447.8h0M547.2 225.7h0M187.4 528.2h0M650.3 126.1h0M476.1 294.6h0M532.0 236.0h0M663.7 106.6h0M742.2 36.0h0M623.4 158.5h0M265.7 470.4h0M602.2 173.2h0M411.9 349.8h0M374.9 384.5h0M699.0 77.9h0M202.9 517.3h0M717.8 55.4h0M198.0 516.4h0M132.4 560.3h0M589.9 179.9h0M408.5 349.4h0M277.2 457.5h0M581.1 190.5h0M438.9 321.5h0M496.3 270.9h0M282.9 455.0h0M238.2 492.9h0M428.5 335.4h0M460.8 300.5h0M387.6 374.1h0M318.4 426.5h0M489.7 286.3h0M519.9 251.1h0M530.6 241.8h0M601.0 173.0h0M430.6 334.8h0M570.6 213.0h0M463.3 304.2h0M122.9 563.4h0M750.3 17.8h0M623.7 149.1h0M162.3 543.4h0M198.1 521.8h0M375.3 379.0h0M572.1 200.9h0M361.0 392.5h0M609.9 162.6h0M291.3 451.2h0M661.9 110.2h0M133.5 556.6h0M231.1 502.7h0M670.3 95.8h0M161.8 541.7h0M721.5 53.4h0M235.7 491.8h0M136.3 554.7h0M684.7 91.0h0M578.9 196.7h0M249.1 486.2h0M451.6 307.5h0M177.3 532.8h0M197.0 521.7h0M471.9 301.7h0M347.5 407.9h0M181.9 528.4h0M658.2 117.6h0M746.7 23.1h0M124.9 562.6h0M755.8 18.0h0M500.8 274.4h0M214.9 507.1h0M498.0 274.5h0M194.3 521.8h0M750.7 15.6h0M733.3 35.4h0M208.3 511.8h0M184.8 529.5h0M281.6 460.2h0M265.0 464.9h0M550.5 222.3h0M629.1 148.7h0M673.1 104.4h0M627.3 151.1h0M712.2 60.6h0M458.8 309.2h0M690.8 76.1h0M723.7 48.4h0M283.3 454.8h0M126.2 559.4h0M139.8 552.3h0M133.2 557.4h0M359.5 396.0h0M150.3 545.9h0M212.4 509.5h0M637.7 139.3h0M396.8 360.3h0M278.7 463.4h0M718.4 52.4h0M658.6 118.9h0M179.6 532.1h0M674.0 106.6h0M742.4 36.2h0M323.6 421.6h0M358.8 399.5h0M736.4 43.5h0M301.1 438.0h0M670.0 111.3h0M635.4 142.1h0M527.0 241.2h0M412.1 354.2h0M192.0 524.7h0M488.8 278.1h0M217.1 506.4h0M245.4 486.2h0M708.5 65.8h0M312.3 434.4h0M636.6 138.1h0M739.2 28.1h0M716.4 57.5h0M699.4 77.6h0M211.9 512.7h0M415.7 344.7h0M752.9 13.2h0M531.4 235.5h0M455.6 315.5h0M749.5 26.9h0M467.1 295.5h0M725.5 38.1h0M266.5 470.7h0M464.9 298.8h0M162.4 542.8h0M609.1 173.8h0M366.9 388.5h0M471.1 292.2h0M276.9 465.3h0M211.0 513.2h0M741.0 33.6h0M721.0 53.2h0M178.0 532.4h0M160.2 543.9h0M656.5 112.5h0M712.0 62.9h0M611.4 163.8h0M737.7 36.7h0M676.3 89.8h0M467.9 300.2h0M754.9 17.0h0M285.9 453.5h0M691.4 84.6h0M404.9 353.0h0M555.0 218.8h0M719.5 45.6h0M749.3 17.9h0M659.1 116.6h0M618.1 155.6h0M268.7 470.8h0M347.4 406.5h0M283.2 453.4h0M704.9 66.8h0M130.3 560.6h0M155.6 546.4h0M242.3 491.5h0M736.8 33.2h0M392.1 367.6h0M484.5 286.2h0M443.9 316.2h0M575.8 198.4h0M400.0 354.7h0M195.5 521.6h0M184.3 530.5h0M562.6 212.2h0M672.3 103.5h0M444.4 320.1h0M382.9 377.6h0M715.0 55.0h0M701.1 82.2h0M501.2 270.9h0M618.7 159.1h0M605.5 172.5h0M632.7 140.9h0M634.3 145.4h0M327.0 424.4h0M497.2 271.0h0M675.3 99.4h0M527.8 243.0h0M606.9 164.9h0M222.7 498.8h0M193.3 522.7h0M532.0 241.1h0M734.5 44.1h0M698.4 78.2h0M382.8 381.0h0M437.6 326.7h0M670.0 105.7h0M553.9 219.9h0M259.2 475.7h0M230.7 500.0h0M141.6 552.6h0M535.4 237.5h0M749.8 22.3h0M608.3 166.5h0M287.3 461.9h0M128.6 561.1h0M661.8 112.8h0M746.7 31.3h0M699.1 76.3h0M274.7 466.2h0M705.1 67.0h0M533.6 232.4h0M550.1 230.5h0M407.5 355.4h0M408.9 351.5h0M534.7 233.8h0M621.0 152.4h0M483.9 283.4h0M431.2 332.1h0M355.8 391.9h0M235.7 492.5h0M576.0 203.4h0M748.6 26.3h0M426.2 342.8h0M402.5 359.8h0M670.8 102.6h0M602.7 177.5h0M667.7 106.4h0M737.8 35.6h0M348.3 405.8h0M352.8 401.7h0M604.3 165.0h0M439.8 329.3h0M575.2 196.3h0M328.8 422.5h0M156.0 544.9h0M423.4 339.9h0M437.8 329.5h0M662.8 106.2h0M188.1 523.9h0M484.4 287.5h0M307.2 436.3h0M304.4 438.8h0M371.3 389.3h0M210.1 513.3h0M651.1 125.3h0M157.2 546.6h0M378.3 378.1h0M611.0 167.5h0M714.0 63.5h0M674.4 104.2h0M607.8 167.2h0M468.8 302.7h0M730.6 49.3h0M404.7 362.7h0M427.1 335.3h0M406.6 353.5h0M645.5 134.7h0M646.5 129.8h0M124.3 565.2h0M523.3 249.9h0M552.3 221.6h0M370.3 382.9h0M317.3 432.7h0M197.0 520.2h0M133.0 560.0h0M275.1 466.4h0M452.8 316.0h0M344.6 409.1h0M703.0 68.1h0M152.8 547.9h0M163.9 540.7h0M273.2 466.6h0M625.5 149.3h0M116.1 568.0h0M282.9 461.8h0M402.0 358.8h0M380.0 379.2h0M457.3 309.0h0M377.8 381.7h0M347.1 414.7h0M535.2 237.6h0M295.5 441.2h0M373.7 386.9h0M506.4 264.7h0M739.2 30.3h0M748.8 17.9h0M419.4 346.0h0M533.7 236.2h0M751.8 25.3h0M279.8 461.7h0M208.2 511.7h0M703.5 71.9h0M591.8 186.5h0M271.5 465.9h0M425.9 332.9h0M462.7 304.9h0M284.0 464.2h0M720.7 51.1h0M726.4 44.9h0M305.2 438.1h0M189.1 528.3h0M721.1 52.5h0M495.4 274.9h0M274.2 466.8h0M680.6 97.1h0M220.0 502.1h0M249.7 485.9h0M469.6 294.5h0M280.0 456.6h0M213.4 509.2h0M238.5 492.9h0M334.1 416.4h0M600.2 172.2h0M501.2 266.2h0M233.3 496.4h0M426.4 336.0h0M179.1 530.2h0M553.3 214.5h0M742.8 26.8h0M337.1 413.1h0M324.8 417.9h0M657.3 117.7h0M278.4 463.4h0M256.0 482.1h0M627.2 151.5h0M340.6 409.5h0M736.8 31.3h0M751.4 21.6h0M524.6 243.2h0M678.6 93.0h0M400.5 367.2h0M132.9 556.0h0M263.3 473.2h0M448.3 311.8h0M471.1 298.1h0M248.2 482.0h0M470.9 297.5h0M338.0 415.2h0M595.9 180.7h0M260.9 478.6h0M762.9 16.0h0M632.0 138.6h0M624.2 148.1h0M674.3 106.0h0M269.7 469.0h0M661.6 116.0h0M721.2 53.0h0M675.8 102.8h0M541.2 230.2h0M269.4 472.1h0M614.4 162.8h0M402.6 364.3h0M318.4 426.5h0M255.1 476.8h0M568.7 204.5h0M434.6 324.6h0M139.9 552.9h0M642.5 131.0h0M120.0 563.7h0M248.3 489.4h0M522.0 245.9h0M723.7 50.3h0M357.9 394.9h0M216.6 505.1h0M510.0 261.3h0M393.0 369.7h0M675.6 104.8h0M573.8 199.2h0M705.6 73.7h0M287.6 455.7h0M454.6 310.5h0M530.3 244.6h0M398.7 359.4h0M630.2 150.6h0M743.3 21.2h0M460.8 301.8h0M551.8 212.8h0M396.3 364.4h0M712.8 57.4h0M232.6 494.6h0M448.5 318.4h0M547.7 230.2h0M134.3 557.4h0M331.7 414.0h0M161.9 544.7h0M356.4 394.5h0M501.9 268.8h0M477.4 292.6h0M618.8 160.7h0M336.3 415.1h0M193.3 525.0h0M643.3 135.2h0M425.0 339.4h0M665.0 110.4h0M160.8 543.4h0M597.1 174.9h0M454.2 309.1h0M424.4 340.0h0M554.4 226.4h0M554.9 212.4h0M637.0 139.0h0M498.4 273.9h0M388.8 367.5h0M260.2 474.8h0M571.0 206.3h0M186.9 524.8h0M630.3 147.7h0M468.6 300.9h0M303.2 442.4h0M420.1 346.0h0M605.4 172.1h0M358.2 396.4h0M718.6 55.9h0M726.8 39.3h0M240.8 487.5h0M564.3 213.2h0M729.1 45.2h0M648.7 130.3h0M202.7 519.3h0M195.4 520.6h0M156.7 549.6h0M333.6 414.0h0M212.5 513.0h0M230.8 494.5h0M754.7 19.7h0M565.5 208.3h0M659.7 111.7h0M369.4 386.1h0M297.6 445.9h0M564.8 207.2h0M551.5 221.7h0M194.3 521.7h0M360.0 396.1h0M535.4 241.4h0M579.7 192.7h0M650.9 120.7h0M171.0 540.8h0M197.7 518.4h0M734.4 30.5h0M185.9 530.0h0M730.6 37.4h0M418.1 345.9h0M298.8 444.8h0M203.9 514.5h0M190.7 525.8h0M729.1 38.0h0M448.3 319.9h0M655.6 112.1h0M487.0 283.2h0M670.6 104.9h0M693.4 78.0h0M169.5 534.4h0M678.1 94.8h0M696.1 78.8h0M424.0 339.2h0M396.6 367.5h0M372.0 388.0h0M309.8 433.9h0M273.1 463.8h0M327.1 418.5h0M484.5 283.3h0M614.4 161.2h0M595.4 180.6h0M547.8 222.8h0M378.7 381.1h0M317.7 427.7h0M267.3 470.6h0M414.8 352.4h0M282.1 456.9h0M236.4 492.9h0M621.5 145.4h0M113.5 568.7h0M255.4 482.0h0M322.7 427.1h0M431.6 334.4h0M535.8 230.8h0M544.1 231.9h0M205.7 516.4h0M436.5 334.1h0M191.4 523.5h0M130.9 559.2h0M660.2 110.1h0M617.5 151.7h0M569.6 206.1h0M169.1 538.2h0M474.0 290.7h0M328.2 423.2h0M505.7 269.2h0M248.8 482.6h0M576.4 199.8h0M121.2 564.2h0M209.3 513.0h0M423.4 343.4h0M595.1 178.4h0M644.0 133.8h0M250.3 478.3h0M585.0 190.9h0M682.9 101.1h0M513.7 263.5h0M589.0 189.0h0M528.0 240.2h0M540.7 234.0h0M558.2 215.2h0M204.1 515.2h0M376.9 381.1h0M416.3 346.7h0M746.9 30.3h0M135.7 556.7h0M165.1 537.5h0M752.8 15.8h0M668.5 112.7h0M516.6 254.4h0M243.1 490.5h0M188.8 527.0h0M668.0 107.4h0M528.6 246.7h0M302.7 445.9h0M722.0 57.3h0M406.9 351.1h0M636.9 139.4h0M232.2 497.0h0M743.1 30.7h0M307.3 434.9h0M450.0 313.4h0M684.9 93.0h0M263.9 476.1h0M521.9 249.7h0M740.8 26.0h0M655.0 128.0h0M548.9 226.6h0M331.3 422.6h0M197.0 520.4h0M642.9 133.0h0M700.8 74.9h0M613.7 163.5h0M575.6 194.3h0M537.5 234.2h0M709.3 53.8h0M393.6 367.2h0M643.9 127.0h0M555.6 224.2h0M715.2 62.7h0M139.6 556.2h0M393.1 370.3h0M268.8 471.4h0M446.8 317.8h0M210.8 511.4h0M442.0 323.8h0M622.6 150.6h0M253.1 479.1h0M159.3 545.1h0M756.3 26.1h0M318.5 430.5h0M483.2 281.9h0M220.1 500.6h0M266.9 465.0h0M644.2 127.7h0M198.6 520.7h0M286.1 454.9h0M625.0 146.0h0M613.0 162.1h0M182.0 530.0h0M185.4 529.3h0M409.6 353.6h0M414.3 347.7h0M146.2 549.6h0M705.8 63.4h0M350.3 402.4h0M361.5 391.6h0M337.6 417.6h0M714.9 64.1h0M733.0 32.1h0M552.5 225.8h0M266.1 468.0h0M167.6 539.1h0M748.5 26.2h0M528.4 239.1h0M170.2 537.6h0M235.7 493.3h0M630.2 148.9h0M647.0 127.3h0M156.0 544.7h0M348.5 407.0h0M586.3 189.9h0M637.6 141.4h0M194.7 521.8h0M651.7 119.2h0M498.1 275.8h0M199.7 519.7h0M692.9 92.7h0M420.4 342.4h0M449.9 309.5h0M302.7 441.3h0M271.2 468.5h0M416.8 339.4h0M540.2 228.4h0M152.9 547.6h0M691.7 81.5h0M597.9 178.9h0M168.8 537.5h0M550.1 231.2h0M706.3 65.6h0M241.7 489.9h0M431.5 329.0h0M279.2 461.1h0M631.9 144.3h0M285.1 454.4h0M313.4 430.1h0M663.1 120.9h0M652.9 121.6h0M411.6 349.4h0M318.8 425.5h0M333.1 423.6h0M492.1 273.6h0M148.3 550.2h0M665.0 110.9h0M417.8 348.9h0M381.9 372.8h0M605.1 171.8h0M572.9 202.6h0M595.0 178.6h0M734.7 32.4h0M199.1 517.0h0M185.7 527.6h0M169.3 537.1h0M359.0 396.7h0M737.1 40.8h0M421.6 342.4h0M248.6 486.2h0M281.8 456.1h0M142.2 550.7h0M495.9 273.6h0M306.7 441.2h0M147.9 549.5h0M150.2 547.2h0M319.7 427.0h0M601.1 173.5h0M115.6 567.5h0M141.7 552.9h0M742.6 29.7h0M237.2 491.7h0M275.0 456.6h0M281.9 461.4h0M254.6 478.0h0M733.5 47.3h0M157.4 547.4h0M405.9 353.4h0M295.5 447.3h0M326.8 424.7h0M159.2 544.1h0M245.6 490.5h0M157.1 547.5h0M334.0 412.1h0M575.3 191.0h0M293.3 452.6h0M143.9 554.6h0M456.6 308.9h0M680.6 92.3h0M696.6 79.2h0M702.7 69.3h0M594.6 170.6h0M397.0 356.5h0M623.0 149.4h0M623.2 155.4h0M561.0 210.1h0M431.7 331.5h0M381.9 370.8h0M365.7 392.7h0M450.9 307.2h0M281.2 460.8h0M277.9 462.2h0M591.0 183.5h0M636.8 138.3h0M646.3 128.8h0M322.5 424.5h0M334.6 417.0h0M520.8 258.3h0M170.1 537.9h0M414.3 340.8h0M401.3 356.7h0M336.7 416.2h0M180.1 532.0h0M713.3 61.7h0M463.1 302.5h0M580.6 191.7h0M394.5 362.0h0M510.6 254.0h0M328.3 423.0h0M646.8 131.2h0M630.2 154.6h0M596.0 181.5h0M725.6 46.4h0M314.2 436.0h0M164.5 542.2h0M360.5 389.5h0M509.8 261.4h0M465.9 303.4h0M448.0 313.7h0M272.7 464.4h0M753.9 13.4h0M192.3 525.3h0M230.8 495.9h0M601.7 175.0h0M194.1 519.6h0M567.2 210.4h0M207.9 515.2h0M751.8 27.0h0M411.2 350.4h0M683.0 90.4h0M194.9 518.9h0M229.6 500.2h0M229.5 501.4h0M642.6 133.2h0M151.1 548.4h0M131.6 557.7h0M379.8 382.7h0M662.3 111.3h0M438.1 328.7h0M368.9 380.4h0M532.7 239.9h0M178.7 532.6h0M460.4 309.3h0M269.0 472.8h0M451.8 311.3h0M450.1 312.6h0M224.6 503.1h0M409.3 355.6h0M354.1 393.8h0M259.0 474.0h0M564.4 215.4h0M649.8 123.4h0M461.0 304.5h0M422.7 339.0h0M388.1 372.2h0M128.5 560.9h0M451.9 312.3h0M741.2 39.9h0M492.9 281.4h0M338.4 413.7h0M287.0 454.4h0M588.1 183.0h0M498.6 272.7h0M353.4 395.9h0M753.5 13.5h0M611.2 163.2h0M601.1 173.8h0M133.8 557.2h0M311.6 439.7h0M712.5 60.4h0M429.9 336.2h0M568.9 206.4h0M296.3 446.5h0M692.3 84.2h0M576.8 196.3h0M333.4 414.2h0M248.9 481.4h0M316.3 432.2h0M220.4 503.0h0M434.6 330.1h0M430.9 332.8h0M450.9 316.1h0M442.0 323.7h0M616.7 157.0h0M454.7 313.3h0M495.5 274.0h0M179.6 532.4h0M346.0 406.5h0M422.5 338.5h0M513.8 254.9h0M445.3 317.6h0M461.5 304.4h0M664.5 107.2h0M164.9 540.9h0M522.9 248.3h0M226.1 500.4h0M560.1 210.9h0M646.6 133.5h0M156.0 547.6h0M435.3 332.1h0M251.8 481.3h0M693.6 81.8h0M721.8 55.8h0M123.0 564.3h0M492.9 278.8h0M266.5 473.1h0M185.3 530.4h0M558.3 215.5h0M199.9 516.5h0M409.7 353.1h0M725.4 48.8h0M722.9 58.5h0M186.9 527.1h0M623.6 152.2h0M618.0 159.1h0M746.8 19.5h0M680.0 92.0h0M288.3 450.3h0M155.2 544.4h0M705.5 72.3h0M610.7 168.6h0M191.0 521.1h0M739.0 33.7h0M311.2 436.5h0M529.5 243.8h0M233.4 498.0h0M465.9 292.0h0M117.8 567.2h0M488.2 277.1h0M178.5 528.1h0M157.0 546.6h0M341.4 411.6h0M504.0 259.9h0M422.6 331.9h0M505.6 263.9h0M338.8 416.7h0M384.2 377.4h0M650.9 121.9h0M225.3 500.1h0M623.8 154.8h0M611.9 162.3h0M574.5 197.2h0M376.8 380.2h0M601.1 170.7h0M643.0 124.2h0M165.9 539.8h0M741.6 24.4h0M121.5 565.0h0M167.6 539.2h0M715.2 54.9h0M510.0 254.4h0M486.3 280.0h0M597.6 176.7h0M597.4 174.3h0M505.0 269.3h0M567.3 212.7h0M668.9 109.0h0M720.8 45.7h0M371.0 381.8h0M121.9 560.8h0M447.2 316.6h0M600.7 171.8h0M352.1 401.6h0M585.2 185.8h0M445.5 313.8h0M129.8 560.3h0M538.7 231.4h0M496.8 273.9h0M272.6 470.3h0M319.0 427.2h0M612.0 168.2h0M342.2 408.4h0M173.7 535.0h0M495.9 275.8h0M403.7 348.9h0M179.3 532.3h0M652.6 124.0h0M679.5 98.2h0M625.5 154.2h0M197.3 520.9h0M387.3 371.4h0M375.0 384.5h0M175.4 535.2h0M139.1 557.3h0M460.5 304.6h0M624.8 154.2h0M294.7 451.6h0M443.7 325.6h0M406.9 354.1h0M177.4 533.0h0M677.1 91.5h0M458.9 307.3h0M500.9 262.5h0M340.4 410.1h0M625.3 147.8h0M341.5 409.0h0M566.5 205.6h0M405.7 355.9h0M126.2 563.0h0M193.0 524.3h0M217.0 505.8h0M666.0 106.7h0M377.3 379.8h0M304.6 442.7h0M399.0 357.8h0M674.9 102.7h0M131.1 561.6h0M289.8 452.8h0M330.8 416.2h0M276.4 467.2h0M612.7 165.4h0M402.8 357.6h0M224.0 502.0h0M312.1 436.1h0M324.7 426.5h0M124.3 561.7h0M322.1 428.0h0M168.2 536.3h0M164.5 540.5h0M474.2 290.8h0M724.5 49.7h0M153.2 548.3h0M169.2 540.5h0M530.2 245.2h0M744.7 20.0h0M449.9 316.3h0M445.0 325.1h0M725.1 42.9h0M709.2 64.8h0M397.7 367.5h0M145.6 551.6h0M136.4 555.1h0M259.2 477.6h0M668.7 104.8h0M635.0 142.5h0M172.3 535.0h0M722.3 51.2h0M317.3 429.0h0M116.5 564.8h0M407.1 353.0h0M298.2 455.2h0M299.7 447.6h0M643.4 144.4h0M528.3 240.1h0M235.3 495.0h0M605.5 171.5h0M590.4 181.2h0M443.3 320.7h0M525.6 247.6h0M750.6 30.7h0M281.6 459.1h0M221.0 501.4h0M650.2 128.9h0M743.1 40.4h0M463.8 302.3h0M434.9 329.2h0M234.3 495.2h0M200.3 516.2h0M594.6 176.0h0M185.0 528.5h0M218.9 507.8h0M433.1 332.9h0M683.0 90.0h0M246.3 485.9h0M195.8 523.9h0M402.4 359.5h0M311.0 434.7h0M335.8 419.2h0M146.2 555.7h0M151.6 547.6h0M267.4 467.3h0M156.1 545.2h0M526.1 240.0h0M461.6 301.4h0M629.9 144.1h0M209.8 511.2h0M204.2 514.8h0M380.1 375.9h0M121.3 562.1h0M377.5 381.5h0M305.0 439.6h0M697.9 75.1h0M255.2 480.6h0M742.1 27.0h0M456.0 311.4h0M351.0 411.2h0M673.6 97.8h0M656.9 114.2h0M657.3 116.0h0M114.9 567.4h0M371.2 378.8h0M744.4 27.8h0M519.1 252.7h0M625.2 150.9h0M269.6 466.5h0M325.1 423.8h0M539.6 233.0h0M306.5 439.5h0M733.2 32.9h0M641.0 136.2h0M493.4 271.8h0M652.3 126.3h0M254.3 474.3h0M752.4 17.1h0M550.6 219.8h0M236.9 493.9h0M305.3 437.8h0M411.2 357.2h0M211.8 509.6h0M755.1 21.2h0M540.9 232.0h0M545.4 227.4h0M249.9 487.5h0M548.7 225.9h0M296.6 444.3h0M261.2 474.9h0M694.1 77.6h0M689.7 87.3h0M592.6 181.4h0M423.0 332.4h0M523.0 243.9h0M372.8 382.8h0M223.6 503.7h0M748.2 26.0h0M288.6 447.4h0M598.8 176.3h0M190.2 524.0h0M617.6 155.9h0M737.0 34.0h0M612.6 160.2h0M733.1 34.4h0M636.0 129.9h0M310.9 440.4h0M197.2 519.7h0M401.3 359.3h0M406.8 362.2h0M683.2 97.5h0M744.4 31.4h0M322.0 427.8h0M346.6 403.4h0M459.0 306.1h0M417.4 345.1h0M529.3 247.1h0M403.5 359.5h0M742.2 33.3h0M439.0 327.7h0M586.8 188.9h0M298.4 447.4h0M217.5 502.1h0M430.1 326.8h0M549.0 217.5h0M502.1 267.3h0M191.3 525.5h0M692.5 83.9h0M643.7 134.9h0M721.7 51.9h0M474.6 295.1h0M566.4 202.2h0M554.5 221.9h0M217.0 505.3h0M171.5 536.2h0M262.2 473.1h0M658.2 118.2h0M117.0 564.7h0M492.0 272.6h0M238.3 495.6h0M686.7 82.5h0M407.0 358.4h0M233.6 495.6h0M432.7 330.2h0M178.4 532.5h0M117.5 567.4h0M258.4 476.8h0M668.7 107.0h0M127.5 562.1h0M429.1 330.9h0M735.0 38.6h0M201.2 518.6h0M712.9 58.6h0M313.5 438.1h0M557.7 214.1h0M592.6 182.1h0M755.9 18.5h0M356.5 397.9h0M206.2 515.1h0M164.6 539.3h0M746.8 31.8h0M567.2 215.4h0M703.8 76.3h0M145.0 552.4h0M740.0 39.5h0M506.7 267.2h0M596.2 177.7h0M743.9 27.3h0M668.7 110.1h0M166.3 540.3h0M192.3 522.7h0M223.4 503.0h0M389.0 374.1h0M485.3 283.5h0M257.3 477.4h0M629.5 147.6h0M742.4 18.1h0M272.4 467.8h0M422.9 346.4h0M359.2 395.5h0M506.6 257.3h0M239.1 492.3h0M704.8 69.5h0M643.6 125.7h0M247.3 483.2h0M204.7 516.9h0M515.7 259.2h0M614.1 161.8h0M534.2 238.0h0M432.9 333.6h0M475.8 289.3h0M745.3 24.1h0M619.3 155.9h0M598.1 176.6h0M676.3 98.5h0M256.7 478.8h0M220.5 506.3h0M581.1 191.2h0M402.1 358.5h0M612.4 162.5h0M150.2 549.0h0M615.3 165.1h0M306.6 439.2h0M271.0 472.3h0M362.4 393.4h0M753.2 9.4h0M691.6 83.5h0M292.3 449.1h0M190.0 527.1h0M525.8 240.9h0M736.4 35.0h0M644.4 121.5h0M590.7 183.7h0M443.3 316.2h0M374.1 386.0h0M393.8 367.6h0M345.2 407.3h0M186.1 528.9h0M616.0 155.6h0M482.5 285.0h0M242.8 487.0h0M266.7 471.5h0M374.9 376.8h0M665.0 116.2h0M359.2 394.3h0M126.6 560.3h0M146.2 553.8h0M440.3 332.2h0M638.4 141.1h0M376.0 371.4h0M479.0 290.2h0M475.3 290.4h0M353.4 398.4h0M176.1 531.8h0M436.7 327.4h0M286.2 453.7h0M195.4 523.1h0M187.3 525.2h0M553.0 222.6h0M483.1 286.8h0M427.3 340.1h0M572.3 196.4h0M300.3 443.2h0M655.4 119.2h0M457.3 310.1h0M481.4 286.9h0M187.0 526.0h0M495.8 272.7h0M252.3 482.8h0M555.5 216.4h0M265.1 472.1h0M191.4 521.5h0M280.4 459.8h0M641.7 138.3h0M384.1 377.9h0M561.4 211.0h0M384.3 371.9h0M440.7 324.6h0M241.8 488.6h0M588.2 181.5h0M423.6 341.5h0M283.7 457.9h0M114.2 567.9h0M754.8 28.0h0M275.2 462.9h0M512.3 262.4h0M148.9 550.9h0M552.7 226.6h0M637.0 146.2h0M151.4 548.9h0M423.8 336.6h0M519.9 249.8h0M733.5 37.3h0M672.5 112.3h0M215.5 505.6h0M214.9 510.0h0M154.9 545.2h0M691.8 77.8h0M340.6 412.3h0M283.1 456.6h0M444.5 322.1h0M726.0 43.8h0M386.0 375.7h0M307.6 442.9h0M503.4 264.4h0M367.5 389.7h0M687.0 85.7h0M671.4 97.9h0M396.1 357.5h0M601.7 181.3h0M523.4 247.3h0M378.3 374.5h0M505.3 265.8h0M362.7 392.7h0M521.9 247.8h0M520.1 251.3h0M374.4 381.1h0M731.4 37.7h0M735.4 38.8h0M125.3 564.3h0M413.4 351.7h0M506.8 265.7h0M277.4 464.1h0M632.2 145.7h0M573.7 205.8h0M461.7 310.9h0M617.9 154.1h0M454.6 306.7h0M222.4 502.6h0M748.2 30.4h0M518.2 258.9h0M141.0 554.4h0M551.8 224.5h0M193.7 522.1h0M453.5 313.7h0M455.9 307.6h0M654.2 123.9h0M258.5 472.7h0M254.9 474.4h0M198.8 516.9h0M633.6 141.2h0M610.5 165.4h0M121.4 565.0h0M163.9 541.0h0M718.1 59.2h0M483.8 283.5h0M528.5 242.3h0M202.4 518.3h0M196.5 518.4h0M626.2 146.7h0M451.0 313.6h0M436.0 325.3h0M575.0 196.6h0M262.1 472.9h0M201.5 517.7h0M270.0 464.3h0M280.9 460.7h0M162.0 541.9h0M339.2 413.6h0M317.4 429.9h0M652.7 123.5h0M427.4 333.1h0M333.5 416.7h0M701.9 67.2h0M421.8 341.4h0M242.7 491.5h0M452.2 311.1h0M194.2 522.6h0M126.9 559.0h0M376.3 377.5h0M117.6 566.1h0M266.3 468.6h0M416.8 345.1h0M351.4 404.0h0M195.1 520.8h0M202.6 519.1h0M353.3 395.0h0M250.7 481.1h0M551.8 219.7h0M282.6 458.5h0M572.1 193.4h0M716.8 62.6h0M718.9 54.6h0M450.0 315.1h0M737.8 36.6h0M386.4 371.2h0M303.4 443.5h0M292.4 450.4h0M505.1 263.6h0M418.1 341.0h0M463.2 309.9h0M284.0 452.2h0M492.9 269.3h0M177.7 532.6h0M638.9 133.6h0M489.9 287.8h0M708.4 73.6h0M281.9 459.6h0M293.8 447.0h0M458.7 309.9h0M735.7 32.7h0M431.7 337.8h0M664.0 112.5h0M388.6 374.4h0M694.5 87.5h0M334.7 416.1h0M548.3 230.3h0M716.5 53.0h0M517.6 254.9h0M275.8 464.2h0M625.5 151.2h0M685.5 89.1h0M190.0 527.8h0M314.1 432.1h0M462.3 306.0h0M393.6 363.9h0M754.8 24.3h0M239.5 493.2h0M194.0 523.2h0M706.5 67.6h0M354.7 399.9h0M265.5 470.7h0M586.2 183.2h0M638.5 131.4h0M607.5 173.0h0M215.9 505.4h0M721.0 59.1h0M624.6 148.1h0M757.5 13.7h0M579.6 198.1h0M273.3 459.6h0M682.8 85.6h0M693.2 82.3h0M415.8 354.7h0M308.6 431.8h0M539.0 233.8h0M484.5 282.4h0M444.8 320.3h0M626.6 148.6h0M619.7 153.6h0M439.7 327.3h0M185.7 530.1h0M593.1 185.5h0M669.0 95.5h0M217.6 508.8h0M648.1 125.7h0M716.8 53.6h0M275.1 466.9h0M535.4 237.7h0M376.4 386.2h0M605.8 163.6h0M431.5 335.9h0M679.8 94.0h0M221.2 505.3h0M454.9 310.5h0M622.8 151.7h0M547.3 221.4h0M434.0 325.5h0M553.0 227.9h0M612.2 162.9h0M485.5 288.6h0M348.0 403.6h0M737.9 40.8h0M182.7 530.2h0M717.0 56.6h0M575.6 196.6h0M200.8 520.0h0M152.4 546.3h0M661.7 110.5h0M209.7 515.5h0M148.1 550.4h0M243.9 488.0h0M732.0 31.9h0M533.2 236.0h0M611.7 167.9h0M404.9 353.9h0M521.6 242.7h0M595.3 182.6h0M341.2 405.8h0M664.7 112.8h0M179.9 535.3h0M491.7 282.5h0M719.0 54.3h0M213.4 508.2h0M546.6 222.6h0M330.2 420.6h0M332.9 417.5h0M756.2 21.8h0M614.0 161.4h0M372.9 387.7h0M399.5 362.4h0M624.7 157.8h0M305.2 433.1h0M703.1 72.7h0M722.2 47.2h0M583.0 189.8h0M446.4 311.9h0M434.5 330.3h0M668.5 102.0h0M758.4 17.2h0M724.1 57.4h0M575.1 204.3h0M113.3 565.9h0M410.7 350.3h0M261.1 477.7h0M693.0 76.5h0M427.8 339.3h0M563.8 214.0h0M114.4 566.1h0M376.6 382.2h0M409.7 352.4h0M416.3 346.5h0M740.8 36.6h0M326.9 422.4h0M226.6 502.0h0M626.5 148.5h0M265.6 470.2h0M737.1 29.0h0M435.6 331.3h0M115.6 566.1h0M123.7 564.7h0M389.2 369.7h0M235.5 491.9h0M174.1 534.0h0M177.5 533.8h0M525.5 248.8h0M345.2 406.2h0M499.5 266.6h0M274.3 465.2h0M153.1 547.4h0M673.0 106.4h0M132.5 556.9h0M247.6 488.6h0M386.7 368.3h0M574.0 197.2h0M354.6 402.4h0M133.8 559.2h0M228.5 498.7h0M649.6 125.6h0M519.7 252.1h0M311.1 433.7h0M666.2 109.0h0M295.1 452.3h0M641.7 139.9h0M453.3 313.2h0M448.8 317.6h0M387.1 372.3h0M522.6 254.2h0M561.3 207.0h0M325.7 424.6h0M716.7 57.6h0M618.3 156.5h0M479.6 288.4h0M698.8 71.4h0M186.0 527.9h0M608.8 167.4h0M489.2 278.2h0M133.3 559.0h0M388.4 375.1h0M498.7 274.1h0M413.8 348.2h0M174.9 534.4h0M624.6 150.7h0M564.8 204.1h0M665.5 110.3h0M477.1 294.5h0M256.7 477.8h0M166.0 540.5h0M706.3 65.0h0M547.1 226.2h0M599.7 176.9h0M434.8 329.9h0M462.9 297.0h0M122.0 563.0h0M194.1 522.1h0M732.1 38.4h0M509.6 262.4h0M610.4 164.1h0M186.7 524.1h0M325.3 422.5h0M545.0 224.3h0M271.5 469.4h0M489.8 281.2h0M124.6 562.8h0M420.8 346.4h0M262.7 474.3h0M200.2 518.3h0M673.7 97.8h0M335.5 418.5h0M249.0 483.7h0M490.3 281.2h0M490.4 271.4h0M312.7 439.2h0M469.9 299.2h0M724.3 52.3h0M192.7 523.0h0M215.8 505.5h0M160.7 543.3h0M457.3 307.7h0M712.1 59.1h0M710.4 61.2h0M617.6 159.8h0M369.9 385.8h0M437.4 322.7h0M248.1 485.8h0M667.5 109.7h0M616.7 160.1h0M389.0 367.7h0M191.5 522.9h0M543.0 229.3h0M683.9 96.8h0M553.1 216.6h0M397.8 358.7h0M753.5 14.3h0M643.7 126.9h0M608.8 172.6h0M747.5 19.1h0M736.2 39.4h0M130.1 558.8h0M503.2 274.0h0M701.8 76.9h0M379.4 379.9h0M566.9 210.9h0M280.4 462.6h0M579.9 190.4h0M452.9 314.8h0M345.3 408.1h0M538.6 239.3h0M496.6 274.6h0M224.1 500.7h0M742.0 39.0h0M310.3 436.8h0M660.7 112.7h0M705.3 64.9h0M470.9 299.0h0M706.6 62.6h0M738.0 34.0h0M144.8 552.4h0M443.8 314.9h0M583.2 186.5h0M740.2 20.6h0M629.9 146.5h0M753.5 16.4h0M403.2 357.4h0M729.9 41.9h0M633.1 145.3h0M713.1 77.6h0M359.5 397.9h0M616.0 160.3h0M260.6 475.8h0M487.6 288.2h0M528.7 238.1h0M675.6 100.1h0M290.4 456.2h0M319.2 426.6h0M675.7 105.2h0M261.9 472.0h0M331.3 418.9h0M325.8 421.7h0M543.6 229.4h0M199.4 514.6h0M667.0 107.6h0M360.3 394.5h0M246.2 485.3h0M244.4 490.2h0M704.9 72.3h0M584.8 188.1h0M484.6 286.9h0M721.8 48.1h0M141.7 553.5h0M460.3 308.0h0M614.1 161.7h0M726.7 52.0h0M558.3 214.9h0M556.6 215.2h0M680.8 98.7h0M685.8 91.2h0M364.7 393.3h0M349.7 412.0h0M755.6 19.8h0M195.4 522.0h0M513.1 258.2h0M363.2 389.4h0M607.1 168.9h0M634.8 138.0h0M210.4 513.7h0M546.8 225.9h0M181.6 528.5h0M112.5 568.6h0M138.0 557.2h0M717.7 59.4h0M234.7 495.9h0M279.6 465.2h0M700.3 72.0h0M468.1 300.4h0M280.1 460.2h0M320.6 429.7h0M215.1 506.4h0M624.5 155.3h0M538.1 233.1h0M256.1 481.1h0M661.1 119.6h0M686.0 90.7h0M142.9 555.8h0M427.6 333.2h0M122.7 562.7h0M200.9 516.8h0M700.9 72.8h0M450.3 318.2h0M376.3 385.4h0M750.1 21.8h0M243.4 487.3h0M604.4 169.4h0M496.6 267.4h0M470.1 297.9h0M682.2 87.0h0M713.6 65.1h0M660.9 110.6h0M513.7 264.2h0M228.8 494.0h0M133.9 558.9h0M407.7 347.9h0M715.4 57.1h0M313.6 432.1h0M134.9 557.9h0M615.9 165.4h0M504.3 270.1h0M223.7 499.3h0M366.2 393.4h0M369.0 382.0h0M117.2 565.2h0M295.0 452.8h0M314.6 429.1h0M502.1 265.5h0M543.4 229.4h0M572.0 197.3h0M243.3 489.6h0M644.1 125.0h0M126.4 562.9h0M441.5 324.3h0M484.8 283.6h0M738.8 39.4h0M743.2 22.3h0M430.7 334.7h0M573.8 201.7h0M287.1 454.7h0M183.9 529.4h0M402.2 356.8h0M386.4 367.4h0M129.8 557.4h0M322.1 428.5h0M523.8 250.9h0M757.6 11.8h0M210.1 511.4h0M351.6 397.7h0M736.5 43.8h0M518.9 250.9h0M523.0 251.2h0M737.1 38.6h0M475.3 289.7h0M752.6 18.6h0M539.3 235.7h0M270.1 467.5h0M566.4 208.0h0M732.0 43.3h0M562.7 201.9h0M195.9 522.1h0M349.5 403.2h0M661.5 113.9h0M302.5 438.1h0M672.5 100.2h0M666.6 107.7h0M735.2 33.7h0M617.7 157.8h0M133.6 556.9h0M245.5 485.9h0M446.1 318.0h0M721.1 60.3h0M550.3 222.0h0M609.7 158.7h0M749.4 12.8h0M609.6 167.4h0M479.1 291.3h0M512.3 256.6h0M117.1 565.2h0M703.4 73.1h0M318.1 424.2h0M231.2 498.2h0M242.2 489.7h0M589.6 186.2h0M336.0 409.0h0M539.5 234.1h0M741.6 34.4h0M575.3 197.6h0M353.3 398.1h0M694.8 75.4h0M415.3 346.0h0M231.1 498.6h0M724.8 49.2h0M528.4 244.7h0M305.9 443.4h0M564.5 207.1h0M737.8 25.9h0M123.3 561.3h0M130.4 559.2h0M653.6 121.8h0M641.1 134.8h0M718.9 61.2h0M295.5 445.4h0M397.9 361.5h0M408.3 347.1h0M124.0 560.8h0M703.1 65.7h0M113.8 566.9h0M753.3 28.7h0M139.2 555.1h0M665.1 111.5h0M222.8 499.9h0M211.6 509.7h0M395.0 361.2h0M299.3 447.4h0M258.2 476.5h0M132.7 559.4h0M279.7 457.4h0M128.6 560.3h0M389.4 371.1h0M507.2 268.6h0M233.0 499.9h0M731.4 36.1h0M306.5 442.7h0M269.0 468.3h0M271.7 466.5h0M273.6 464.5h0M570.5 204.0h0M731.8 31.0h0M537.9 235.8h0M715.3 56.0h0M727.3 46.3h0M514.8 248.8h0M130.4 559.3h0M484.4 282.6h0M332.1 417.4h0M629.2 146.2h0M605.0 173.4h0M175.1 534.5h0M557.1 217.9h0M376.5 378.5h0M129.5 558.7h0M659.6 113.6h0M234.7 493.1h0M338.0 415.1h0M175.1 535.3h0M371.4 387.5h0M691.4 84.9h0M459.3 305.7h0M300.5 441.1h0M503.3 270.6h0M492.4 280.5h0M523.3 242.4h0M405.1 363.7h0M166.5 538.7h0M742.2 35.8h0M387.4 368.1h0M275.3 465.2h0M720.7 53.6h0M352.4 404.3h0M384.7 374.4h0M522.4 246.4h0M163.9 543.5h0M154.3 544.4h0M624.5 149.3h0M443.5 315.7h0M206.8 515.9h0M456.6 310.2h0M416.6 344.4h0M291.6 455.6h0M583.6 193.5h0M377.4 378.8h0M186.8 527.1h0M164.0 541.5h0M584.1 190.1h0M194.3 524.2h0M324.6 426.2h0M442.5 323.2h0M280.6 461.5h0M755.7 12.3h0M649.5 129.7h0M490.0 283.9h0M548.9 226.0h0M146.4 550.8h0M449.0 316.9h0M657.4 116.4h0M533.2 243.5h0M506.1 268.7h0M486.7 281.0h0M390.9 369.4h0M507.4 261.3h0M168.5 538.8h0M552.4 219.1h0M217.5 509.8h0M590.0 182.4h0M383.9 378.4h0M225.0 500.7h0M651.8 126.1h0M524.7 246.9h0M373.4 381.9h0M423.8 337.2h0M713.1 62.4h0M169.6 539.0h0M241.6 491.1h0M712.9 64.0h0M259.2 476.2h0M653.8 126.6h0M378.9 378.2h0M270.4 467.8h0M480.3 287.9h0M747.6 25.5h0M113.0 566.3h0M650.3 127.7h0M441.2 324.9h0M462.6 306.5h0M276.2 473.0h0M141.0 554.4h0M338.8 409.4h0M422.0 337.9h0M725.5 51.0h0M257.0 477.5h0M646.3 131.7h0M117.1 566.6h0M242.0 488.8h0M211.7 507.0h0M578.2 192.7h0M241.3 488.3h0M636.5 140.2h0M178.6 531.2h0M733.3 40.2h0M321.5 432.8h0M411.7 347.4h0M181.9 527.4h0M312.8 428.8h0M552.4 221.4h0M741.7 28.2h0M589.7 193.3h0M348.8 400.6h0M692.3 75.1h0M231.9 496.2h0M319.4 430.8h0M447.2 323.8h0M500.3 276.2h0M428.6 338.7h0M156.3 545.6h0M344.7 406.9h0M697.9 74.2h0M540.9 233.6h0M515.5 255.9h0M618.7 152.5h0M310.4 435.4h0M349.6 400.5h0M717.2 58.5h0M604.3 172.7h0M757.5 16.3h0M471.4 293.1h0M320.1 426.5h0M424.4 338.0h0M654.9 114.6h0M185.9 527.0h0M592.5 181.6h0M280.4 460.6h0M322.7 424.3h0M309.9 441.2h0M207.5 515.2h0M143.4 552.1h0M391.2 365.9h0M292.1 450.2h0M532.0 242.2h0M160.0 544.7h0M655.3 123.6h0M626.0 151.8h0M292.0 452.3h0M328.5 418.5h0M686.5 87.3h0M737.4 35.6h0M226.0 502.1h0M448.1 313.6h0M551.2 225.1h0M494.5 279.2h0M475.7 286.8h0M446.9 312.7h0M349.5 400.3h0M748.8 17.2h0M751.7 20.6h0M555.7 221.8h0M248.1 487.9h0M214.1 508.7h0M393.0 364.5h0M524.0 253.2h0M159.8 544.7h0M679.7 97.5h0M168.3 538.1h0M584.7 187.9h0M656.8 121.5h0M707.7 66.8h0M696.4 78.1h0M479.3 288.4h0M697.0 80.5h0M349.1 407.2h0M270.2 469.8h0M543.6 229.7h0M404.3 350.9h0M690.8 86.3h0M530.2 241.6h0M447.2 311.3h0M655.3 118.6h0M456.6 306.3h0M132.7 558.4h0M320.4 428.2h0M203.2 517.8h0M390.7 374.6h0M702.4 66.0h0M611.2 168.0h0M442.0 318.9h0M328.3 424.4h0M566.9 207.5h0M689.9 85.2h0M297.5 437.0h0M706.6 69.1h0M661.2 117.0h0M503.6 266.9h0M450.5 317.6h0M368.7 392.6h0M565.9 208.6h0M330.8 420.7h0M693.3 81.7h0M534.6 233.7h0M693.1 87.5h0M186.8 528.9h0M209.9 511.1h0M272.2 465.4h0M697.8 80.1h0M755.7 15.3h0M475.2 289.7h0M340.9 409.0h0M555.6 223.0h0M232.7 495.1h0M689.3 85.0h0M164.0 542.0h0M715.7 61.3h0M273.2 468.1h0M656.5 118.0h0M734.8 36.7h0M343.1 409.6h0M515.1 253.1h0M479.0 296.3h0M693.3 81.2h0M566.5 211.6h0M279.2 459.2h0M471.0 294.5h0M644.0 129.6h0M214.3 508.0h0M703.4 65.3h0M214.7 507.7h0M358.3 398.2h0M194.8 524.5h0M739.4 38.1h0M695.8 84.0h0M419.3 349.4h0M627.4 149.5h0M655.7 124.5h0M549.3 228.5h0M304.4 440.3h0M507.4 263.7h0M753.0 23.1h0M551.9 227.5h0M735.0 32.9h0M147.1 553.0h0M621.1 153.2h0M119.9 563.6h0M189.8 524.1h0M416.4 339.9h0M318.8 428.9h0M419.1 343.7h0M567.6 211.5h0M357.3 399.6h0M727.2 52.7h0M580.7 202.8h0M718.1 63.4h0M127.7 560.5h0M241.2 488.5h0M322.2 427.2h0M493.8 275.6h0M190.9 525.9h0M406.4 353.9h0M746.2 22.2h0M686.7 93.5h0M578.5 198.1h0M312.0 439.0h0M614.9 165.9h0M252.0 480.8h0M325.7 426.9h0M295.6 450.2h0M481.5 289.8h0M292.0 453.3h0M119.4 564.4h0M127.8 560.4h0M359.4 392.3h0M115.2 565.5h0M252.4 479.6h0M464.9 296.9h0M727.0 50.3h0M683.4 93.7h0M245.2 487.2h0M742.7 33.2h0M251.3 478.2h0M718.5 64.5h0M123.9 561.7h0M325.4 424.8h0M269.9 468.6h0M237.6 491.4h0M559.3 216.4h0M356.3 397.5h0M268.0 472.3h0M237.5 494.9h0M192.0 523.8h0M689.9 93.2h0M664.8 114.4h0M526.7 243.6h0M726.6 44.2h0M684.8 93.8h0M265.4 465.4h0M730.1 38.3h0M627.9 148.6h0M613.9 164.1h0M202.7 517.3h0M377.8 380.2h0M147.1 549.7h0M356.1 395.3h0M533.1 245.0h0M633.7 141.0h0M458.8 308.8h0M381.4 376.4h0M554.4 224.1h0M481.4 280.5h0M310.0 436.4h0M748.8 17.9h0M191.6 523.9h0M267.0 471.7h0M392.0 364.3h0M649.9 131.0h0M722.3 49.0h0M260.6 477.7h0M117.3 565.9h0M712.1 62.7h0M242.9 490.8h0M389.3 369.9h0M627.2 150.6h0M214.9 508.8h0M208.1 514.3h0M356.9 394.0h0M252.5 478.7h0M196.1 521.9h0M189.2 525.7h0M661.5 113.7h0M182.9 529.0h0M308.8 432.9h0M347.3 407.3h0M198.3 521.0h0M674.1 100.0h0M250.4 479.1h0M236.6 489.9h0M324.7 426.4h0M445.5 318.6h0M142.1 553.5h0M396.8 361.3h0M243.0 490.4h0M716.1 58.4h0M682.7 88.1h0M169.3 535.4h0M738.5 29.9h0M504.8 261.5h0M647.5 123.7h0M389.2 373.3h0M116.0 567.7h0M163.5 542.2h0M637.3 138.6h0M590.4 192.6h0M171.6 535.5h0M260.0 475.9h0M515.3 253.9h0M409.6 348.7h0M407.3 357.5h0M360.2 394.3h0M414.9 344.6h0M628.1 144.2h0M127.6 560.6h0M556.5 214.8h0M623.5 147.3h0M702.7 68.5h0M376.5 381.7h0M706.2 62.0h0M653.8 119.6h0M530.0 249.8h0M200.6 519.0h0M561.1 210.7h0M402.4 358.8h0M591.4 182.3h0M742.3 27.8h0M496.0 277.4h0M739.4 33.7h0M525.6 248.4h0M499.3 269.2h0M197.5 519.9h0M432.0 334.3h0M269.9 472.2h0M736.9 37.7h0M543.9 227.2h0M523.5 251.2h0M741.5 32.7h0M154.8 546.1h0M242.5 487.9h0M594.3 181.0h0M283.1 454.5h0M552.4 219.8h0M134.4 555.6h0M362.1 397.1h0M552.2 222.3h0M396.9 365.3h0M381.7 373.3h0M255.3 481.7h0M353.6 402.2h0M417.1 343.1h0M271.0 470.8h0M576.5 197.5h0M609.5 166.7h0M233.8 496.3h0M717.5 53.2h0M417.4 344.3h0M460.5 306.0h0M511.1 260.0h0M652.2 122.5h0M588.4 188.8h0M440.8 322.0h0M170.0 535.8h0M539.8 233.5h0M302.3 441.9h0M455.7 311.5h0M369.7 392.3h0M548.6 228.3h0M568.3 209.9h0M619.9 156.3h0M652.6 124.0h0M266.8 470.4h0M556.5 217.5h0M703.9 73.5h0M237.5 494.6h0M384.0 375.0h0M548.4 222.4h0M734.0 43.2h0M554.7 212.6h0M583.7 189.0h0M160.9 543.4h0M745.7 35.1h0M686.5 92.2h0M556.0 223.5h0M539.6 234.8h0M659.7 111.4h0M275.4 463.6h0M128.2 559.8h0M116.0 566.7h0M527.9 242.7h0M465.4 300.8h0M585.9 191.5h0M292.3 453.0h0M306.5 445.1h0M324.3 424.6h0M408.1 355.7h0M621.4 153.9h0M354.2 403.0h0M535.2 234.2h0M468.1 300.0h0M405.2 356.5h0M292.1 445.4h0M465.3 313.9h0M313.4 432.3h0M635.2 139.9h0M491.9 278.2h0M265.7 465.5h0M674.1 109.7h0M650.5 122.0h0M704.9 75.1h0M483.4 292.3h0M605.8 168.5h0M589.2 192.1h0M442.3 326.4h0M579.1 190.2h0M152.1 550.0h0M671.6 100.4h0M285.4 459.9h0M178.4 530.2h0M756.2 14.3h0M149.3 547.3h0M515.4 259.4h0M425.0 341.2h0M433.4 329.7h0M496.3 265.6h0M576.3 183.2h0M727.4 55.3h0M716.8 54.3h0M635.4 130.6h0M173.6 535.1h0M450.1 314.4h0M407.7 355.3h0M522.8 234.8h0M320.7 426.0h0M327.6 425.1h0M211.1 515.0h0M613.0 164.6h0M546.6 225.5h0M568.9 209.2h0M740.8 31.1h0M675.2 86.7h0M592.0 183.5h0M212.2 505.9h0M492.2 289.0h0M478.0 291.8h0M185.2 531.6h0M154.5 549.9h0M158.9 542.3h0M328.7 417.7h0M338.2 418.2h0M264.0 474.0h0M187.7 524.3h0M114.6 565.6h0M455.8 315.0h0M755.6 30.8h0M324.9 425.3h0M377.9 377.6h0M318.1 428.8h0M271.6 458.6h0M616.3 161.2h0M514.8 260.9h0M336.8 407.1h0M302.9 443.5h0M458.8 310.6h0M655.6 124.7h0M263.1 473.8h0M746.4 20.3h0M704.6 76.7h0M663.5 106.0h0M406.7 360.3h0M510.8 258.9h0M468.4 301.1h0M167.2 540.8h0M339.3 410.6h0M753.9 27.2h0M269.6 463.3h0M384.4 376.5h0M697.7 69.2h0M384.7 380.8h0M700.3 71.2h0M758.6 19.5h0M657.9 107.3h0M599.4 184.8h0M445.8 309.3h0M185.4 522.3h0M162.1 537.3h0M454.4 314.3h0M723.9 49.7h0M228.7 496.9h0M453.0 306.6h0M309.3 437.2h0M524.0 254.0h0M570.8 202.3h0M631.8 133.9h0M194.6 526.5h0M358.4 398.9h0M568.0 209.7h0M132.3 556.7h0M211.3 507.5h0M716.7 58.8h0M569.0 197.9h0M357.5 402.8h0M352.2 399.5h0M134.0 561.4h0M651.4 130.0h0M610.1 163.5h0M561.3 218.2h0M240.3 495.9h0M643.7 120.1h0M268.4 473.8h0M712.1 65.5h0M279.0 449.8h0M593.4 177.3h0M450.0 314.7h0M282.8 464.0h0M280.2 459.9h0M583.8 186.7h0M351.2 392.6h0M333.4 413.7h0M344.8 407.7h0M540.8 225.7h0M509.7 256.1h0M730.7 46.2h0M451.3 316.1h0M137.1 556.9h0M732.8 39.3h0M514.5 262.0h0M225.7 495.8h0M197.1 515.0h0M526.5 260.6h0M585.8 193.9h0M233.9 489.9h0M315.5 421.1h0M423.7 351.1h0M436.1 325.1h0M641.0 136.2h0M271.8 481.5h0M533.7 233.7h0M195.7 515.0h0M437.5 331.8h0M315.1 428.1h0M494.2 292.2h0M661.7 108.7h0M363.6 389.4h0M532.5 236.8h0M529.2 242.0h0M585.4 186.3h0M368.9 382.7h0M615.3 160.7h0M615.1 151.2h0M301.8 435.4h0M254.4 478.7h0M648.4 123.5h0M629.4 153.0h0M221.4 508.7h0M612.6 174.3h0M299.9 456.8h0M614.4 154.2h0M374.6 380.0h0M198.3 522.5h0M152.2 550.2h0M194.2 528.0h0M528.2 241.4h0M569.5 199.2h0M215.7 512.1h0M303.2 446.1h0M658.7 110.2h0M200.4 518.5h0M738.6 25.7h0M710.6 69.2h0M756.8 15.7h0M625.4 149.2h0M352.7 395.1h0M196.2 517.7h0M695.0 82.8h0M404.5 346.4h0M253.0 475.2h0M424.8 342.6h0M753.2 26.2h0M331.3 421.1h0M530.8 236.1h0M625.3 141.2h0M652.0 124.9h0M435.5 326.6h0M638.8 132.0h0M184.2 530.7h0M220.7 506.7h0M329.7 407.3h0M672.7 124.1h0M653.5 124.1h0M679.7 94.1h0M387.3 370.5h0M758.0 24.6h0M638.3 141.5h0M275.0 463.6h0M535.4 234.7h0M560.6 217.2h0M638.3 151.9h0M322.7 430.1h0M388.4 377.2h0M456.9 312.1h0M656.5 125.9h0M649.8 130.8h0M204.5 520.6h0M532.0 248.7h0M664.1 104.9h0M720.6 44.0h0M540.0 234.1h0M365.2 382.5h0M404.9 358.6h0M399.3 358.2h0M251.9 477.7h0M579.8 183.9h0M571.3 195.2h0M541.8 222.9h0M138.1 560.5h0M696.6 83.4h0M320.5 435.2h0M167.0 539.8h0M428.4 336.7h0M468.8 297.6h0M761.9 16.1h0M239.9 491.8h0M552.4 219.0h0M186.9 524.7h0M222.3 497.4h0M491.3 268.8h0M387.8 376.1h0M255.2 476.1h0M620.3 163.1h0M510.8 247.6h0M285.2 457.9h0M691.5 92.7h0M744.8 8.6h0M687.9 76.3h0M356.1 399.1h0M413.9 350.1h0M496.0 276.2h0M397.3 358.8h0M306.1 442.5h0M139.4 556.6h0M242.1 478.3h0M587.5 179.4h0M394.4 362.9h0M662.3 107.7h0M357.5 393.5h0M234.1 496.0h0M142.1 549.3h0M406.2 353.4h0M236.8 500.0h0M282.2 461.2h0M600.6 173.6h0M432.4 330.3h0M649.5 134.0h0M753.6 24.0h0M245.3 490.5h0M422.8 334.2h0M743.1 24.3h0M506.0 261.7h0M335.3 413.0h0M410.9 351.4h0M373.9 384.8h0M273.2 470.2h0M417.9 341.1h0M217.7 502.1h0M498.5 274.4h0M196.5 519.6h0M662.8 108.5h0M724.5 40.2h0M724.5 35.6h0M280.4 458.4h0M467.1 292.0h0M145.0 550.5h0M498.0 272.2h0M588.0 196.3h0M737.9 31.9h0M531.5 236.9h0M191.7 525.3h0M527.5 252.6h0M554.5 215.1h0M682.9 94.1h0M716.1 64.0h0M176.9 530.4h0M597.3 168.5h0M441.4 325.7h0M553.4 211.7h0M698.3 60.9h0M660.1 109.4h0M322.6 428.8h0M429.7 336.0h0M650.8 116.6h0M677.8 104.7h0M473.0 291.3h0M609.7 168.2h0M133.7 555.2h0M195.5 523.8h0M584.1 204.2h0M263.5 469.8h0M624.0 142.8h0M700.7 71.4h0M628.2 148.9h0M699.4 82.4h0M126.8 561.0h0M545.5 228.6h0M375.5 380.8h0M416.8 338.4h0M732.2 50.6h0M360.7 393.6h0M279.6 469.6h0M581.3 187.3h0M649.1 122.3h0M512.2 261.8h0M539.0 238.6h0M458.7 315.8h0M309.2 444.3h0M345.4 412.6h0M376.2 372.2h0M731.3 61.7h0M719.7 57.3h0M608.5 161.5h0M658.2 119.5h0M703.4 63.1h0M394.9 372.7h0M274.4 466.8h0M330.8 422.3h0M601.4 172.0h0M596.8 184.8h0M708.9 69.8h0M642.6 128.4h0M346.3 406.3h0M547.0 228.9h0M474.9 285.2h0M474.6 301.1h0M300.9 441.3h0M125.4 562.8h0M533.1 241.7h0M243.2 482.5h0M516.1 256.4h0M273.9 457.9h0M718.4 57.8h0M439.5 320.9h0M563.3 213.1h0M740.4 23.4h0M486.0 274.3h0M737.3 38.6h0M309.4 526.2h0M627.3 260.9h0M306.1 527.5h0M616.7 276.2h0M325.4 516.6h0M774.7 18.5h0M748.0 70.4h0M578.4 328.3h0M688.0 170.4h0M751.0 62.5h0M525.9 395.3h0M374.9 489.8h0M338.4 515.5h0M686.0 181.8h0M336.3 506.0h0M471.8 429.8h0M547.0 378.3h0M352.9 499.3h0M327.3 517.2h0M592.8 309.3h0M698.9 148.1h0M754.5 48.9h0M636.2 250.4h0M768.9 45.1h0M732.1 85.3h0M705.1 154.5h0M534.5 377.3h0M722.8 97.2h0M581.3 320.0h0M640.5 245.7h0M729.9 92.9h0M686.7 162.2h0M729.1 84.0h0M587.0 333.1h0M592.9 316.2h0M628.3 266.7h0M494.7 415.2h0M730.3 99.3h0M658.1 213.7h0M703.9 135.4h0M705.2 132.3h0M331.4 508.6h0M496.3 412.2h0M611.2 297.4h0M632.2 260.1h0M326.0 520.6h0M696.6 147.1h0M216.0 564.5h0M725.4 105.7h0M714.4 124.9h0M359.7 493.0h0M581.7 318.1h0M686.1 176.5h0M482.3 422.5h0M493.6 413.8h0M734.8 82.1h0M731.1 83.3h0M378.2 492.4h0M769.5 21.6h0M305.6 527.4h0M708.0 138.1h0M703.7 150.6h0M670.0 195.1h0M736.2 79.2h0M411.7 467.3h0M409.7 472.4h0M683.4 178.5h0M548.6 363.1h0M657.0 226.2h0M687.3 174.0h0M640.4 249.5h0M331.5 513.6h0M264.5 542.3h0M305.9 527.5h0M680.3 181.0h0M400.8 471.4h0M770.9 18.0h0M364.2 490.1h0M706.5 133.9h0M603.0 299.1h0M387.8 483.5h0M656.4 227.7h0M358.5 496.9h0M702.1 151.5h0M681.8 188.9h0M695.1 163.5h0M249.5 553.7h0M395.0 476.5h0M713.8 112.2h0M604.3 299.0h0M578.8 339.2h0M278.3 544.2h0M674.9 194.1h0M479.8 423.9h0M395.3 475.3h0M593.1 309.3h0M663.1 216.2h0M637.6 251.9h0M758.4 60.7h0M490.1 415.8h0M646.5 233.8h0M662.9 222.5h0M710.9 131.3h0M602.8 306.8h0M756.8 43.3h0M743.1 69.7h0M434.7 453.3h0M736.7 55.3h0M708.7 133.5h0M669.9 182.5h0M677.6 197.0h0M526.5 391.5h0M524.5 394.7h0M774.0 30.0h0M728.0 118.4h0M693.5 163.4h0M758.4 40.9h0M689.6 169.2h0M671.8 207.3h0M523.3 383.1h0M519.8 393.4h0M693.0 161.0h0M497.4 412.4h0M414.5 470.7h0M734.6 88.2h0M520.7 396.8h0M504.3 412.0h0M608.5 293.8h0M593.0 312.8h0M757.5 50.9h0M668.4 197.3h0M301.7 530.7h0M670.5 188.8h0M540.6 372.3h0M472.1 433.6h0M516.7 402.3h0M592.2 308.3h0M778.7 10.1h0M713.5 116.0h0M514.9 399.1h0M355.0 497.5h0M735.9 94.5h0M728.2 87.1h0M623.8 270.8h0M743.2 59.1h0M542.2 376.3h0M494.8 416.5h0M571.2 332.5h0M630.7 262.1h0M328.0 511.0h0M713.3 134.6h0M578.3 335.2h0M462.5 436.2h0M611.3 287.0h0M631.3 252.7h0M357.6 495.2h0M600.6 309.7h0M655.8 215.3h0M579.0 329.5h0M691.7 168.7h0M730.0 106.0h0M284.9 541.9h0M747.6 61.1h0M768.5 34.1h0M672.7 194.9h0M768.8 39.8h0M499.9 415.8h0M670.4 206.5h0M664.4 217.2h0M443.4 451.1h0M590.6 318.1h0M314.7 517.9h0M651.9 228.9h0M378.9 481.9h0M649.2 223.5h0M709.3 133.6h0M657.1 217.4h0M596.4 306.9h0M346.9 509.5h0M509.3 407.3h0M719.8 111.9h0M362.3 494.6h0M637.7 250.1h0M769.8 21.8h0M730.0 97.3h0M568.1 341.0h0M665.2 212.0h0M473.1 429.1h0M672.9 194.1h0M627.2 270.3h0M625.3 267.0h0M393.8 478.5h0M433.5 457.8h0M603.2 311.5h0M587.6 321.9h0M734.0 79.9h0M320.2 520.0h0M540.9 374.0h0M737.7 87.7h0M763.4 41.1h0M253.5 547.4h0M692.7 151.1h0M619.4 269.8h0M281.3 547.9h0M532.6 385.6h0M297.9 531.7h0M763.2 37.7h0M432.4 456.6h0M273.1 540.4h0M411.7 460.6h0M371.8 486.3h0M667.7 212.1h0M520.5 397.8h0M765.1 28.2h0M612.4 282.9h0M624.9 284.1h0M351.3 502.1h0M678.5 192.1h0M733.0 86.5h0M342.0 512.4h0M343.0 514.0h0M645.2 237.5h0M332.2 519.4h0M274.6 544.4h0M605.2 297.2h0M490.6 417.0h0M436.3 457.9h0M677.0 191.4h0M703.5 139.9h0M762.7 21.0h0M750.2 64.5h0M496.1 413.6h0M265.7 546.3h0M513.2 404.1h0M762.1 34.6h0M332.2 513.3h0M281.6 543.6h0M438.6 452.6h0M641.9 247.8h0M610.4 296.7h0M643.4 248.5h0M681.2 186.5h0M665.1 213.7h0M769.0 35.9h0M620.8 282.2h0M622.1 271.6h0M654.3 233.4h0M731.3 89.2h0M559.3 350.7h0M648.3 229.6h0M740.4 54.3h0M600.0 303.2h0M264.2 542.2h0M590.4 323.1h0M746.7 59.8h0M484.0 422.0h0M295.5 532.6h0M637.6 249.4h0M715.0 121.4h0M728.4 90.2h0M518.4 397.0h0M470.1 433.2h0M307.0 528.4h0M486.4 415.5h0M747.7 53.3h0M425.9 463.5h0M717.0 130.4h0M701.7 150.1h0M307.2 524.7h0M744.9 59.5h0M592.5 326.5h0M327.6 509.5h0M721.1 112.6h0M688.1 181.4h0M331.1 508.4h0M736.9 72.5h0M646.7 241.1h0M692.9 150.3h0M750.4 47.7h0M559.7 355.8h0M383.6 479.7h0M724.6 110.8h0M224.7 557.2h0M437.9 451.6h0M629.9 253.3h0M751.6 52.7h0M606.0 301.4h0M603.0 302.5h0M311.2 521.0h0M334.2 512.5h0M629.8 259.0h0M447.9 447.7h0M643.2 246.9h0M522.4 391.0h0M379.4 487.1h0M516.6 397.1h0M533.2 382.7h0M695.4 160.7h0M591.0 315.6h0M691.5 171.3h0M425.6 457.3h0M726.9 108.2h0M653.5 222.3h0M672.9 191.6h0M223.9 558.2h0M755.4 57.4h0M647.7 242.6h0M269.0 542.0h0M687.1 162.1h0M592.6 307.8h0M719.1 114.6h0M664.5 205.3h0M681.3 191.8h0M422.7 464.4h0M453.2 443.4h0M607.3 296.9h0M334.0 510.7h0M719.3 110.2h0M764.6 16.3h0M301.7 528.2h0M762.3 29.5h0M656.2 241.5h0M694.9 153.8h0M518.0 394.6h0M748.6 77.5h0M759.0 34.6h0M493.9 423.7h0M467.7 439.3h0M270.5 539.2h0M419.7 462.3h0M654.6 208.5h0M625.1 271.4h0M474.4 428.9h0M514.7 395.8h0M749.6 47.0h0M640.6 261.3h0M639.3 259.6h0M608.8 297.7h0M650.0 235.2h0M614.2 286.2h0M775.7 8.9h0M317.1 523.2h0M513.2 404.7h0M597.0 312.5h0M650.6 232.4h0M685.8 169.0h0M763.2 16.7h0M765.0 37.4h0M639.8 250.8h0M752.2 53.6h0M568.1 348.3h0M565.3 359.6h0M355.7 494.9h0M598.6 306.6h0M686.5 173.7h0M555.4 367.5h0M754.4 44.3h0M755.9 47.8h0M484.5 419.2h0M317.7 524.3h0M640.7 244.1h0M508.0 405.6h0M733.1 92.0h0M721.1 108.7h0M489.9 418.5h0M745.3 73.5h0M714.0 114.2h0M530.0 385.8h0M587.7 315.2h0M375.1 493.7h0M735.8 77.6h0M632.7 253.6h0M746.2 65.1h0M381.0 486.7h0M693.7 158.7h0M640.5 254.4h0M319.1 525.6h0M680.4 177.4h0M529.2 381.5h0M772.5 10.6h0M529.8 384.0h0M475.8 424.9h0M683.0 177.9h0M378.6 481.5h0M772.4 9.7h0M591.1 325.2h0M703.4 145.5h0M705.1 148.3h0M481.0 420.9h0M629.6 253.5h0M601.1 302.6h0M692.2 160.9h0M301.6 526.6h0M522.7 393.3h0M766.6 20.7h0M467.1 434.7h0M287.3 545.7h0M547.6 366.6h0M661.1 218.2h0M588.5 309.7h0M708.3 139.9h0M488.6 416.6h0M704.1 138.8h0M772.3 8.3h0M606.2 289.0h0M693.7 150.5h0M436.1 457.7h0M707.1 149.3h0M781.6 15.3h0M672.4 190.8h0M720.9 99.0h0M518.8 399.1h0M566.7 343.2h0M682.5 187.6h0M482.5 426.0h0M766.3 29.4h0M367.2 489.2h0M655.5 222.3h0M415.2 469.5h0M746.0 53.5h0M705.7 136.2h0M622.3 269.6h0M386.7 476.9h0M653.8 237.5h0M434.9 452.0h0M585.4 323.6h0M574.1 340.2h0M578.6 335.3h0M331.8 513.6h0M704.6 149.5h0M636.8 257.4h0M761.7 32.7h0M278.7 545.0h0M417.6 469.0h0M495.5 419.0h0M592.3 315.1h0M673.8 199.4h0M754.5 58.6h0M603.4 298.3h0M600.8 303.5h0M761.6 22.8h0M767.9 29.2h0M749.5 55.5h0M697.7 145.4h0M705.0 154.0h0M519.4 386.6h0M766.7 17.0h0M625.4 261.9h0M653.6 230.9h0M633.1 252.0h0M552.2 357.9h0M741.7 69.3h0M604.6 302.9h0M608.4 298.4h0M590.7 316.7h0M514.1 401.8h0M691.6 161.2h0M540.0 378.5h0M673.5 201.1h0M717.7 125.9h0M741.1 63.1h0M645.8 241.7h0M462.3 434.0h0M760.4 32.6h0M458.1 444.8h0M757.1 29.0h0M545.5 372.1h0M735.5 86.2h0M504.2 405.2h0M528.7 386.8h0M506.6 404.9h0M602.8 291.0h0M677.0 196.0h0M463.3 433.7h0M673.2 200.0h0M584.0 328.0h0M637.1 252.5h0M504.9 405.2h0M639.1 243.8h0M676.0 187.1h0M573.1 335.8h0M282.9 541.2h0M554.7 360.2h0M565.3 339.1h0M777.7 6.8h0M667.7 208.2h0M645.7 240.8h0M685.5 169.0h0M649.8 230.3h0M420.3 469.2h0M555.9 361.7h0M251.1 554.2h0M576.0 345.1h0M603.4 294.6h0M592.1 318.3h0M629.8 266.7h0M616.4 286.3h0M749.8 41.0h0M726.3 91.6h0M709.3 130.2h0M525.2 392.8h0M314.7 527.3h0M470.7 438.1h0M726.3 102.9h0M549.3 373.3h0M716.9 116.6h0M702.7 147.8h0M769.3 25.0h0M627.6 257.7h0M303.8 527.1h0M398.2 476.3h0M766.2 17.8h0M261.6 547.1h0M678.8 188.4h0M563.6 349.7h0M759.1 44.7h0M284.8 542.1h0M568.2 344.6h0M608.1 293.6h0M637.6 262.4h0M675.4 198.7h0M694.1 166.3h0M234.3 554.6h0M551.4 367.2h0M309.6 528.3h0M729.3 76.9h0M646.9 235.4h0M563.7 356.5h0M258.2 554.1h0M497.6 421.8h0M680.4 191.3h0M590.6 312.1h0M728.9 94.0h0M686.8 177.4h0M470.8 434.7h0M470.5 432.1h0M630.4 260.1h0M563.6 348.4h0M617.9 288.7h0M578.2 332.1h0M410.3 477.5h0M614.8 286.6h0M606.0 298.7h0M654.5 216.3h0M621.8 267.1h0M362.9 494.0h0M351.2 496.5h0M443.9 449.9h0M592.6 315.6h0M722.7 116.3h0M555.3 365.6h0M291.6 535.0h0M533.9 375.4h0M642.7 242.2h0M437.5 459.3h0M764.5 28.6h0M582.5 322.5h0M749.8 47.6h0M677.3 196.9h0M433.1 459.2h0M733.9 84.0h0M645.9 256.1h0M575.4 341.3h0M300.8 531.0h0M541.9 378.7h0M726.5 95.2h0M304.9 530.5h0M630.4 256.5h0M646.3 247.4h0M687.1 176.9h0M472.3 432.6h0M719.5 100.2h0M666.9 211.0h0M646.3 239.8h0M657.2 221.1h0M686.1 170.7h0M691.6 152.0h0M253.7 552.3h0M482.8 418.7h0M507.3 405.1h0M639.5 248.6h0M324.2 514.3h0M774.1 32.5h0M357.7 489.4h0M366.5 494.5h0M540.1 374.4h0M413.1 462.2h0M728.1 93.8h0M670.5 188.1h0M618.7 284.3h0M657.4 226.7h0M603.3 305.4h0M677.7 186.9h0M655.0 217.0h0M687.9 178.8h0M676.6 202.6h0M722.0 113.3h0M774.1 16.6h0M586.0 316.3h0M593.9 311.5h0M605.7 288.2h0M586.5 318.7h0M516.2 396.7h0M695.6 163.8h0M660.7 219.2h0M656.5 236.1h0M712.5 127.8h0M639.6 252.6h0M581.3 331.4h0M705.1 141.7h0M719.4 112.0h0M696.3 164.7h0M571.3 339.8h0M295.5 531.8h0M593.6 310.7h0M514.9 407.7h0M780.9 9.2h0M311.6 526.5h0M581.7 327.6h0M701.8 158.3h0M670.4 179.8h0M547.4 366.7h0M371.0 489.6h0M606.6 291.2h0M658.1 214.5h0M708.3 121.4h0M753.4 56.6h0M654.1 229.9h0M769.6 30.8h0M319.8 517.5h0M633.2 253.9h0M682.4 170.8h0M669.0 210.1h0M640.9 241.8h0M734.6 93.2h0M573.9 341.6h0M559.9 353.6h0M419.0 466.3h0M722.5 109.5h0M711.6 128.8h0M519.0 399.3h0M382.9 485.3h0M476.5 429.0h0M656.5 227.8h0M590.2 323.1h0M661.6 205.3h0M684.1 178.8h0M605.4 294.6h0M371.6 490.9h0M761.7 28.7h0M715.1 110.8h0M709.9 126.2h0M774.7 21.9h0M724.3 102.3h0M730.6 83.6h0M659.9 202.7h0M637.9 250.7h0M467.6 435.0h0M593.3 316.9h0M782.8 13.9h0M738.9 81.6h0M454.0 443.0h0M510.0 402.9h0M655.5 212.8h0M285.9 536.2h0M336.1 513.3h0M555.5 367.7h0M571.2 344.1h0M514.0 397.1h0M567.0 346.6h0M591.8 308.9h0M705.3 135.9h0M754.7 45.3h0M343.6 503.8h0M701.2 151.0h0M617.6 272.5h0M437.6 452.3h0M681.5 185.8h0M518.7 390.6h0M484.7 432.8h0M719.8 107.6h0M354.2 498.5h0M602.1 299.7h0M733.4 73.9h0M755.7 49.5h0M494.2 412.2h0M621.5 281.2h0M592.4 314.0h0M386.8 476.7h0M722.3 116.6h0M230.4 564.8h0M771.0 18.6h0M326.4 514.4h0M726.4 108.3h0M605.7 302.5h0M635.4 249.4h0M716.3 115.9h0M432.3 463.0h0M499.8 411.3h0M579.2 340.6h0M620.4 277.9h0M457.7 437.5h0M695.9 168.1h0M488.3 421.5h0M402.2 479.1h0M730.4 86.1h0M753.4 50.1h0M679.0 192.1h0M687.9 178.1h0M776.2 15.8h0M660.3 216.8h0M596.8 310.0h0M236.1 552.1h0M496.4 409.8h0M676.9 186.3h0M588.6 315.6h0M468.4 424.5h0M432.2 457.7h0M616.3 280.7h0M734.0 70.3h0M766.5 34.0h0M715.4 119.8h0M388.7 478.4h0M761.9 44.1h0M750.8 57.4h0M637.4 264.9h0M555.2 360.4h0M451.1 446.6h0M454.3 447.9h0M500.8 407.6h0M591.5 315.6h0M437.6 449.0h0M702.8 158.4h0M477.5 432.2h0M764.8 9.9h0M704.3 140.6h0M742.3 68.4h0M612.3 294.2h0M663.8 207.0h0M736.0 94.7h0M464.3 434.7h0M717.1 126.4h0M701.4 141.0h0M478.7 426.6h0M598.9 299.9h0M725.9 99.8h0M381.2 477.1h0M753.2 41.4h0M495.8 418.8h0M533.6 387.0h0M773.5 20.2h0M585.5 323.9h0M724.5 80.8h0M294.6 541.3h0M766.0 20.8h0M337.5 512.6h0M607.3 296.2h0M347.0 502.9h0M282.1 535.1h0M609.9 298.1h0M766.0 20.0h0M424.7 456.9h0M327.7 514.5h0M513.0 401.5h0M748.0 59.5h0M693.0 170.1h0M698.0 145.7h0M566.3 343.6h0M723.2 115.8h0M556.3 354.4h0M244.7 550.5h0M710.3 126.0h0M620.5 276.3h0M500.5 408.5h0M629.7 276.5h0M709.2 138.4h0M732.9 76.3h0M665.0 206.4h0M524.7 393.2h0M661.2 211.1h0M558.8 351.8h0M666.8 226.4h0M741.9 79.9h0M622.5 268.0h0M533.0 378.1h0M708.5 127.9h0M750.8 54.4h0M751.9 53.5h0M630.4 258.7h0M574.7 328.6h0M639.5 245.5h0M660.8 220.0h0M687.5 171.7h0M473.5 423.1h0M351.8 496.3h0M727.5 105.8h0M649.4 238.7h0M711.6 129.4h0M698.3 164.4h0M610.3 293.6h0M764.1 36.3h0M635.0 258.8h0M775.2 13.4h0M453.5 441.9h0M389.7 479.8h0M666.5 208.3h0M559.3 351.4h0M435.1 451.4h0M342.5 504.4h0M608.6 290.9h0M752.5 61.4h0M748.9 59.4h0M370.7 490.3h0M438.5 455.1h0M570.7 344.1h0M727.8 94.8h0M672.2 192.9h0M349.6 505.4h0M655.2 231.5h0M758.9 29.2h0M658.1 225.9h0M664.2 210.1h0M640.8 253.9h0M389.2 485.6h0M724.8 107.2h0M282.2 544.9h0M249.0 552.2h0M337.9 510.8h0M350.8 501.7h0M754.0 59.8h0M352.1 499.5h0M716.3 116.1h0M469.5 427.1h0M473.3 433.3h0M382.5 480.0h0M348.7 501.7h0M707.4 149.1h0M746.7 75.4h0M765.9 46.3h0M734.3 70.7h0M660.3 221.7h0M506.3 402.5h0M564.1 345.9h0M374.1 491.6h0M747.2 59.7h0M634.8 245.9h0M740.3 69.1h0M677.8 212.4h0M479.1 424.3h0M584.1 323.4h0M665.4 207.4h0M714.3 129.7h0M490.9 416.8h0M306.6 522.5h0M547.1 368.4h0M739.2 78.9h0M680.7 169.9h0M646.6 229.8h0M643.8 245.1h0M611.3 288.6h0M572.7 335.3h0M641.2 257.1h0M774.2 24.9h0M502.9 411.9h0M743.1 94.2h0M320.4 520.7h0M479.1 426.4h0M670.1 214.3h0M662.3 209.1h0M698.4 134.7h0M693.0 157.7h0M772.3 9.6h0M557.8 359.6h0M460.5 439.9h0M592.2 316.4h0M642.7 246.3h0M455.3 447.1h0M745.2 55.2h0M751.4 43.8h0M641.3 243.7h0M686.1 167.4h0M355.0 502.0h0M318.6 517.6h0M762.5 46.1h0M660.7 207.8h0M629.8 253.3h0M680.9 181.1h0M483.4 430.9h0M704.3 138.8h0M706.7 139.6h0M653.9 223.3h0M454.9 444.6h0M394.4 480.6h0M617.5 279.7h0M543.8 368.5h0M631.4 272.1h0M454.5 440.2h0M691.7 158.9h0M596.9 310.0h0M696.5 149.0h0M529.7 387.4h0M705.4 155.4h0M720.6 117.4h0M539.6 373.8h0M688.4 177.9h0M683.2 160.7h0M654.8 231.0h0M730.5 88.8h0M715.3 126.8h0M731.1 78.4h0M711.5 123.8h0M516.8 404.5h0M709.1 134.1h0M734.8 79.4h0M662.4 204.1h0M336.4 511.7h0M680.2 182.6h0M701.8 157.3h0M523.3 386.5h0M754.4 53.9h0M641.4 256.9h0M472.4 435.2h0M706.6 120.8h0M499.8 404.4h0M748.8 50.9h0M738.8 60.8h0M271.6 542.4h0M754.7 50.9h0M643.3 240.2h0M665.5 205.3h0M369.9 486.9h0M665.4 223.2h0M767.2 22.9h0M698.1 151.0h0M758.9 37.1h0M426.1 457.4h0M494.0 421.3h0M649.0 231.8h0M645.8 242.8h0M708.6 143.4h0M536.1 376.0h0M622.4 274.0h0M676.3 192.9h0M528.5 387.5h0M529.1 383.5h0M342.9 499.7h0M399.4 476.7h0M342.8 503.9h0M324.7 515.8h0M673.0 189.0h0M736.5 86.2h0M411.9 474.0h0M587.3 322.9h0M681.0 176.3h0M592.5 315.5h0M545.7 372.4h0M592.5 323.5h0M362.6 495.6h0M624.0 269.3h0M655.0 223.2h0M610.3 291.8h0M437.2 451.9h0M659.4 221.5h0M302.2 530.1h0M775.0 11.9h0M241.6 552.5h0M317.2 518.1h0M746.0 63.9h0M719.2 101.0h0M594.6 313.7h0M703.0 137.9h0M726.6 113.0h0M741.8 76.8h0M341.3 505.6h0M769.8 31.0h0M439.7 451.9h0M737.9 87.3h0M744.0 67.2h0M653.9 225.9h0M736.3 67.0h0M615.7 269.4h0M736.9 81.6h0M739.0 86.2h0M710.1 131.2h0M734.2 61.3h0M758.5 46.8h0M392.9 479.0h0M317.0 519.7h0M626.9 268.5h0M646.8 240.3h0M271.3 542.5h0M415.2 470.9h0M550.4 359.4h0M611.9 299.5h0M596.4 312.5h0M712.8 122.9h0M718.5 108.1h0M566.7 342.0h0M748.2 61.0h0M630.0 262.3h0M763.0 34.9h0M443.9 456.8h0M623.5 275.0h0M489.1 422.9h0M715.4 124.6h0M288.8 536.8h0M511.6 407.0h0M419.1 469.6h0M479.5 423.9h0M470.0 438.6h0M740.2 84.8h0M374.4 483.2h0M560.9 356.0h0M564.0 344.6h0M556.0 362.6h0M330.6 507.4h0M462.8 440.1h0M706.0 145.1h0M438.2 452.1h0M738.9 77.8h0M724.8 111.9h0M629.1 275.0h0M611.6 285.6h0M612.6 288.4h0M398.2 472.6h0M715.9 118.9h0M588.0 320.2h0M718.4 118.7h0M667.0 211.2h0M724.2 92.4h0M613.3 281.4h0M262.2 548.5h0M308.6 526.2h0M741.0 78.3h0M575.9 332.7h0M593.3 309.9h0M646.9 232.5h0M729.1 90.6h0M702.4 151.8h0M494.0 418.7h0M695.6 157.1h0M642.3 247.1h0M689.5 162.1h0M570.4 339.6h0M448.3 441.9h0M406.1 472.7h0M585.7 318.4h0M594.0 313.0h0M651.3 239.6h0M620.4 265.3h0M692.8 157.7h0M631.3 255.0h0M692.0 164.5h0M398.4 467.6h0M598.3 308.1h0M730.9 103.5h0M756.1 31.0h0M358.4 497.0h0M500.5 411.3h0M344.7 504.4h0M684.7 177.2h0M764.6 43.3h0M666.7 215.7h0M662.5 200.6h0M581.0 328.9h0M737.0 69.3h0M503.1 405.4h0M485.1 422.3h0M467.6 431.9h0M414.6 471.6h0M675.4 192.9h0M766.3 33.4h0M514.4 398.1h0M590.9 319.3h0M515.8 397.0h0M713.4 121.4h0M700.6 149.2h0M352.3 500.1h0M767.6 37.2h0M751.4 53.5h0M327.7 510.7h0M379.6 483.3h0M508.9 403.7h0M526.5 390.9h0M539.0 376.9h0M483.5 429.7h0M746.4 67.7h0M611.9 293.2h0M714.3 124.5h0M566.5 341.7h0M674.7 192.0h0M457.3 437.6h0M674.6 188.5h0M713.8 109.3h0M755.2 29.4h0M570.4 343.7h0M716.3 105.8h0M636.9 250.6h0M638.2 248.1h0M490.1 426.2h0M394.7 476.4h0M703.7 127.5h0M598.8 302.4h0M246.8 552.4h0M506.9 406.5h0M550.3 360.7h0M424.0 458.1h0M406.6 466.6h0M539.3 380.8h0M635.6 246.8h0M645.6 244.8h0M498.6 414.5h0M700.9 148.6h0M443.7 454.1h0M744.3 47.1h0M666.2 214.2h0M754.8 51.5h0M359.0 504.8h0M316.5 525.5h0M690.7 171.5h0M647.9 235.1h0M537.9 385.0h0M499.2 415.7h0M277.4 537.0h0M646.4 229.5h0M519.3 393.7h0M340.2 512.7h0M763.2 15.1h0M339.8 504.9h0M722.0 107.7h0M713.8 123.0h0M732.7 102.3h0M269.1 551.9h0M668.1 208.1h0M605.6 295.2h0M644.2 245.1h0M755.2 43.5h0M379.6 487.4h0M332.3 508.0h0M328.1 519.7h0M639.6 242.5h0M724.8 110.1h0M775.4 7.8h0M769.9 28.4h0M750.2 43.9h0M768.2 14.7h0M676.1 193.8h0M679.8 189.8h0M344.7 512.6h0M315.5 528.6h0M722.7 108.7h0M655.8 222.2h0M669.4 198.2h0M746.3 73.3h0M579.8 327.2h0M340.6 505.5h0M629.3 260.7h0M756.3 46.3h0M722.8 113.0h0M321.4 509.7h0M613.8 290.3h0M727.8 81.8h0M589.5 325.1h0M702.5 152.4h0M305.7 528.0h0M603.0 296.4h0M627.5 272.1h0M681.6 185.0h0M569.1 341.9h0M290.9 532.5h0M720.7 113.9h0M300.7 532.1h0M596.2 307.6h0M602.6 303.3h0M645.1 246.6h0M558.6 370.4h0M668.3 208.0h0M528.7 386.5h0M540.2 378.7h0M361.9 485.7h0M671.6 203.3h0M525.9 392.0h0M357.6 499.6h0M486.0 423.0h0M502.9 411.5h0M496.9 412.3h0M663.7 214.3h0M586.8 312.8h0M293.6 535.5h0M472.7 423.0h0M533.4 388.4h0M765.2 22.8h0M738.2 72.8h0M751.0 60.1h0M666.9 188.4h0M603.4 295.2h0M564.6 349.5h0M587.2 321.5h0M416.8 462.6h0M396.9 473.3h0M757.1 34.9h0M701.9 141.4h0M551.8 364.9h0M517.1 403.9h0M369.8 487.5h0M616.8 289.9h0M528.6 391.8h0M721.3 112.2h0M562.0 340.7h0M615.9 288.2h0M758.1 42.4h0M425.5 458.4h0M710.1 135.9h0M366.8 497.4h0M535.8 377.8h0M748.0 58.4h0M280.7 542.4h0M752.3 36.7h0M336.3 511.0h0M394.4 475.3h0M581.2 328.4h0M706.5 142.3h0M364.1 498.0h0M498.7 411.5h0M656.9 225.9h0M501.8 413.3h0M700.8 148.4h0M615.9 288.4h0M375.4 493.3h0M591.6 312.1h0M311.1 526.2h0M342.8 500.4h0M762.4 17.8h0M785.5 11.1h0M523.8 382.5h0M543.4 379.1h0M565.4 355.3h0M518.2 397.8h0M638.8 252.0h0M756.3 45.0h0M612.8 275.8h0M416.8 465.2h0M728.3 93.3h0M711.3 125.9h0M630.8 251.5h0M554.9 359.7h0M649.2 228.2h0M756.6 50.4h0M314.7 520.2h0M671.8 205.0h0M577.8 334.0h0M647.7 236.5h0M726.9 94.4h0M601.8 314.0h0M562.5 351.7h0M536.0 371.1h0M713.4 122.9h0M591.4 320.1h0M604.4 296.0h0M743.3 66.7h0M461.8 445.2h0M717.6 120.8h0M683.4 178.1h0M522.4 402.4h0M231.8 561.7h0M311.5 530.1h0M697.3 137.9h0M770.1 10.5h0M409.3 472.6h0M683.7 178.1h0M310.2 525.6h0M775.8 23.1h0M603.7 298.3h0M507.3 405.2h0M708.3 139.1h0M591.9 316.1h0M383.4 482.2h0M376.4 484.2h0M551.7 373.8h0M730.7 96.0h0M623.3 277.0h0M454.3 446.8h0M645.6 247.4h0M572.4 337.3h0M709.5 133.4h0M742.3 70.1h0M710.0 137.2h0M717.8 109.5h0M682.2 172.9h0M729.0 104.2h0M518.1 403.1h0M508.7 406.4h0M507.7 407.8h0M571.2 337.3h0M623.5 268.6h0M739.9 74.3h0M594.5 308.8h0M625.6 270.5h0M347.7 502.7h0M327.5 510.5h0M666.0 202.6h0M363.2 494.6h0M749.1 42.0h0M253.5 549.8h0M687.1 165.7h0M729.8 87.4h0M521.4 391.8h0M526.4 390.9h0M765.7 18.8h0M663.2 206.0h0M735.3 81.3h0M564.8 346.1h0M709.6 126.2h0M767.7 14.4h0M760.2 37.7h0M673.4 188.1h0M656.1 221.6h0M294.9 531.5h0M700.7 151.9h0M500.2 412.2h0M684.3 165.8h0M651.3 229.0h0M583.7 329.3h0M526.5 390.6h0M451.7 441.9h0M471.8 430.6h0M472.9 428.2h0M566.8 341.1h0M702.4 134.0h0M549.5 366.8h0M607.3 296.4h0M499.0 414.1h0M658.0 219.9h0M681.7 179.7h0M641.1 244.9h0M511.4 399.1h0M517.1 389.3h0M746.7 48.3h0M742.4 81.2h0M287.6 544.2h0M535.8 381.4h0M347.3 502.2h0M744.6 63.3h0M635.0 244.3h0M753.4 48.6h0M675.6 186.6h0M633.9 259.3h0M551.7 362.7h0M665.1 210.4h0M613.1 288.8h0M621.0 273.9h0M709.2 126.4h0M511.4 396.8h0M713.5 115.6h0M462.0 437.5h0M755.0 40.4h0M730.2 104.3h0M418.5 463.3h0M549.0 377.5h0M471.7 427.1h0M568.7 350.4h0M463.7 430.1h0M627.7 264.4h0M662.8 211.5h0M606.9 296.9h0M611.4 279.6h0M652.6 231.8h0M429.2 460.1h0M585.6 320.0h0M681.0 179.2h0M705.4 143.6h0M683.8 176.2h0M446.9 449.8h0M758.8 43.8h0M553.5 361.9h0M659.3 211.5h0M641.9 246.2h0M767.8 21.4h0M587.8 320.1h0M656.6 219.6h0M432.5 458.0h0M400.9 472.2h0M641.2 251.1h0M564.9 356.2h0M713.9 129.0h0M636.8 251.6h0M675.0 190.3h0M400.8 473.6h0M554.7 356.6h0M693.7 157.3h0M509.8 405.4h0M639.7 239.4h0M718.2 105.5h0M744.6 66.1h0M762.8 23.7h0M528.0 388.0h0M598.4 305.0h0M709.9 135.1h0M669.4 206.2h0M331.3 510.3h0M569.6 344.8h0M606.3 299.3h0M703.2 133.3h0M343.8 505.4h0M657.5 213.0h0M456.7 437.2h0M625.5 272.8h0M568.6 351.0h0M550.1 363.8h0M733.1 78.8h0M637.3 246.6h0M264.4 547.8h0M335.2 515.1h0M662.1 222.5h0M714.7 112.7h0M738.1 80.6h0M486.9 417.1h0M731.6 87.5h0M538.1 374.9h0M685.2 182.9h0M481.9 423.3h0M533.5 376.1h0M609.5 278.0h0M646.8 230.5h0M361.0 495.9h0M540.7 379.6h0M765.9 32.3h0M682.4 182.9h0M744.1 61.6h0M647.1 238.0h0M361.8 492.8h0M748.1 48.1h0M573.4 340.8h0M515.2 394.8h0M211.6 562.1h0M336.2 505.3h0M428.8 458.4h0M367.1 493.8h0M688.7 176.7h0M748.3 48.6h0M768.2 21.5h0M290.7 539.1h0M757.9 30.1h0M610.2 294.4h0M511.4 403.0h0M362.5 495.6h0M662.7 210.2h0M339.3 506.6h0M727.5 97.5h0M767.4 13.8h0M600.3 308.1h0M617.4 280.6h0M700.8 152.3h0M751.4 48.3h0M552.1 364.9h0M471.0 434.0h0M516.0 397.2h0M597.2 311.8h0M399.1 472.0h0M637.7 250.7h0M601.0 308.5h0M352.8 502.0h0M699.6 152.8h0M719.7 115.3h0M684.6 187.0h0M499.3 414.3h0M617.8 289.3h0M700.3 163.2h0M479.5 425.4h0M748.1 53.8h0M722.1 95.0h0M509.1 402.6h0M743.0 65.1h0M615.8 289.4h0M392.4 475.2h0M744.4 73.2h0M753.6 57.8h0M588.2 320.6h0M712.8 132.0h0M772.0 20.6h0M618.8 273.8h0M605.6 298.4h0M701.4 149.5h0M773.4 17.8h0M330.2 509.8h0M679.4 194.0h0M506.4 402.4h0M676.2 187.2h0M711.1 109.8h0M572.8 336.8h0M316.5 524.6h0M662.6 216.2h0M716.3 111.7h0M717.0 117.5h0M678.9 192.4h0M739.6 76.3h0M591.9 310.3h0M711.7 128.7h0M212.5 558.1h0M543.2 373.2h0M514.7 404.0h0M416.1 465.6h0M750.9 50.1h0M567.5 345.7h0M736.8 93.8h0M520.0 395.4h0M542.7 370.3h0M462.4 432.0h0M639.6 253.2h0M692.9 164.2h0M440.2 457.4h0M263.0 547.6h0M675.2 200.1h0M564.3 360.6h0M707.1 127.0h0M583.7 320.4h0M646.9 240.0h0M595.5 314.2h0M447.6 450.0h0M511.2 405.8h0M331.0 510.5h0M555.7 357.8h0M515.7 399.2h0M628.6 257.2h0M591.9 314.4h0M390.6 475.6h0M599.0 307.8h0M499.5 409.5h0M479.5 420.6h0M712.9 132.0h0M669.3 210.0h0M414.4 468.7h0M729.3 89.0h0M484.6 424.3h0M665.2 216.9h0M755.8 28.9h0M632.5 253.9h0M718.6 94.7h0M654.7 230.2h0M642.3 246.0h0M733.4 115.9h0M701.4 142.6h0M618.5 280.6h0M677.4 171.5h0M633.9 261.7h0M462.6 437.8h0M714.4 123.5h0M641.2 248.3h0M702.5 150.7h0M691.8 165.1h0M475.5 430.2h0M703.2 143.9h0M696.5 155.7h0M754.5 52.6h0M676.7 193.3h0M670.1 200.3h0M685.7 162.0h0M743.4 65.3h0M490.5 425.8h0M654.6 231.6h0M333.8 516.6h0M493.3 418.3h0M574.8 335.3h0M690.9 166.6h0M559.0 359.7h0M673.9 202.1h0M723.4 93.5h0M746.3 60.4h0M731.0 87.7h0M504.6 405.2h0M676.6 176.3h0M754.3 35.0h0M485.4 415.0h0M320.2 522.1h0M691.2 159.3h0M776.3 21.5h0M480.4 425.4h0M216.3 563.5h0M226.0 559.7h0M400.4 474.0h0M461.9 435.6h0M647.5 237.4h0M324.1 513.8h0M638.8 254.3h0M726.6 99.1h0M735.6 76.4h0M754.3 64.6h0M684.7 168.4h0M455.8 441.0h0M620.7 275.8h0M232.6 554.8h0M651.6 225.0h0M775.1 17.6h0M322.4 518.0h0M694.1 167.1h0M663.1 213.0h0M640.6 248.1h0M723.6 127.9h0M776.8 8.2h0M597.5 306.6h0M499.2 412.4h0M607.4 292.7h0M756.9 41.3h0M354.3 505.5h0M515.7 403.8h0M661.2 211.7h0M454.7 445.5h0M673.2 195.7h0M717.8 107.3h0M531.3 387.4h0M329.3 514.7h0M597.8 302.3h0M733.7 93.9h0M407.6 467.9h0M523.8 385.9h0M262.4 551.0h0M583.2 335.0h0M760.2 37.9h0M619.8 274.4h0M703.5 125.6h0M775.7 12.9h0M722.6 110.0h0M332.4 514.9h0M775.7 7.4h0M745.7 61.4h0M566.3 351.4h0M646.6 235.0h0M486.9 429.7h0M270.6 545.5h0M579.0 337.9h0M757.9 55.7h0M663.9 196.2h0M749.4 45.8h0M402.4 475.7h0M554.2 359.7h0M746.2 44.6h0M586.1 317.1h0M654.4 222.6h0M583.5 330.8h0M264.3 547.3h0M422.1 463.8h0M727.2 91.0h0M602.3 297.1h0M358.3 499.2h0M250.5 550.4h0M660.5 220.7h0M497.3 409.5h0M749.0 52.5h0M711.8 142.1h0M721.9 96.2h0M746.9 57.2h0M706.5 140.3h0M512.8 403.5h0M734.5 83.5h0M669.4 199.6h0M404.5 469.8h0M411.2 457.9h0M757.5 45.0h0M636.3 249.8h0M631.2 265.2h0M777.2 15.7h0M744.0 67.8h0M613.4 291.8h0M482.6 427.4h0M691.0 159.9h0M463.6 443.9h0M625.6 263.1h0M731.1 92.2h0M676.6 200.1h0M741.2 59.4h0M402.3 471.4h0M471.5 436.1h0M506.8 411.5h0M770.5 35.7h0M755.7 44.4h0M482.9 426.6h0M519.4 394.8h0M725.5 107.2h0M433.4 449.9h0M737.4 75.0h0M681.6 189.4h0M730.4 79.2h0M749.1 59.3h0M437.8 454.8h0M585.0 328.9h0M692.5 170.2h0M730.8 68.0h0M570.3 342.4h0M723.7 86.3h0M701.6 148.1h0M229.7 559.6h0M602.1 295.0h0M749.9 66.7h0M579.0 332.4h0M775.2 10.4h0M548.1 362.6h0M640.5 245.7h0M698.2 141.6h0M704.6 137.4h0M590.0 322.3h0M595.6 304.0h0M333.6 508.0h0M703.9 131.9h0M412.1 465.8h0M373.9 489.7h0M657.2 222.3h0M724.6 111.0h0M708.0 144.1h0M710.9 143.6h0M641.0 241.1h0M733.2 88.3h0M688.5 180.3h0M581.0 323.9h0M434.5 452.4h0M765.8 12.3h0M418.2 461.2h0M387.0 474.8h0M718.7 121.9h0M706.5 126.1h0M722.8 106.0h0M733.9 99.6h0M712.3 134.0h0M767.1 21.7h0M620.2 287.0h0M701.0 159.2h0M690.8 161.5h0M676.3 194.8h0M717.0 116.7h0M773.4 10.0h0M510.5 400.3h0M669.6 202.1h0M341.6 503.7h0M723.3 100.2h0M594.0 311.0h0M699.6 154.5h0M533.0 388.3h0M616.5 278.9h0M681.0 185.1h0M762.1 44.1h0M491.6 418.1h0M293.1 536.1h0M591.3 325.7h0M589.1 312.8h0M579.7 331.8h0M660.9 225.9h0M431.8 454.3h0M699.1 157.3h0M608.2 300.3h0M605.8 294.5h0M772.6 19.0h0M701.3 142.1h0M657.2 228.1h0M319.8 520.7h0M696.2 156.8h0M357.9 496.5h0M665.1 214.3h0M772.2 10.4h0M688.8 169.4h0M684.9 182.8h0M336.9 511.7h0M722.6 105.2h0M669.0 195.5h0M335.4 512.3h0M619.3 280.0h0M747.6 62.3h0M742.2 74.5h0M537.3 379.8h0M733.6 91.7h0M355.2 489.2h0M541.0 370.8h0M648.9 239.3h0M674.4 199.9h0M522.7 391.5h0M458.2 437.2h0M350.7 500.3h0M612.4 278.6h0M687.0 166.6h0M763.1 30.6h0M509.0 397.7h0M282.2 539.4h0M715.3 131.1h0M584.1 332.5h0M519.8 406.0h0M495.7 415.2h0M614.0 287.0h0M695.9 160.5h0M545.0 369.3h0M766.1 21.9h0M746.3 52.6h0M396.7 479.8h0M745.0 61.8h0M761.9 21.4h0M628.5 267.4h0M299.6 524.4h0M719.0 106.7h0M700.3 158.1h0M651.3 230.7h0M758.5 34.2h0M588.9 326.1h0M725.8 93.1h0M336.4 513.9h0M755.3 56.7h0M641.2 239.1h0M646.7 232.5h0M700.8 155.7h0M374.4 492.7h0M460.5 432.7h0M643.7 251.2h0M422.8 456.3h0M666.9 219.8h0M757.6 41.1h0M726.7 95.6h0M690.8 164.4h0M627.9 267.3h0M368.2 485.0h0M496.0 420.0h0M770.4 22.7h0M552.9 368.8h0M315.9 517.7h0M684.4 185.4h0M640.4 245.0h0M678.8 198.9h0M742.1 80.8h0M579.8 323.3h0M593.4 310.1h0M646.1 244.3h0M686.6 168.6h0M534.1 377.9h0M646.2 229.4h0M552.4 377.3h0M617.4 284.2h0M659.9 211.2h0M764.1 25.1h0M732.7 99.6h0M447.1 448.6h0M747.3 70.5h0M757.7 34.5h0M435.5 456.3h0M656.2 226.3h0M419.4 462.1h0M261.9 547.9h0M496.8 424.0h0M727.6 95.5h0M583.4 321.5h0M469.1 437.9h0M726.9 90.7h0M691.3 166.9h0M714.3 139.3h0M574.8 337.9h0M774.5 8.8h0M419.5 468.2h0M643.1 234.8h0M695.3 142.0h0M683.3 173.7h0M763.5 31.3h0M372.1 488.9h0M354.6 495.5h0M564.5 339.5h0M551.5 361.3h0M685.4 176.2h0M721.4 102.2h0M638.5 246.3h0M445.3 444.5h0M753.3 65.6h0M339.2 503.8h0M676.2 182.8h0M590.4 318.0h0M730.7 96.7h0M572.5 335.6h0M590.7 314.9h0M679.4 193.1h0M693.6 158.6h0M609.0 292.5h0M450.6 441.1h0M500.7 411.5h0M531.5 380.4h0M684.3 168.7h0M503.0 409.2h0M533.8 381.2h0M762.2 36.9h0M760.6 29.6h0M568.4 344.5h0M482.5 425.5h0M589.9 318.6h0M640.0 260.7h0M549.4 371.2h0M549.3 365.9h0M717.4 117.4h0M599.1 312.9h0M545.5 372.4h0M627.8 260.3h0M760.1 44.1h0M434.8 457.5h0M558.5 363.5h0M757.7 44.3h0M277.0 537.8h0M741.8 71.0h0M771.7 22.8h0M716.2 111.7h0M570.8 336.0h0M481.7 420.2h0M676.8 191.7h0M682.9 178.7h0M403.8 468.3h0M771.1 3.5h0M489.2 423.4h0M651.5 228.2h0M617.2 292.8h0M497.7 412.8h0M763.0 25.8h0M604.5 293.5h0M423.7 468.3h0M318.6 518.0h0M657.0 228.4h0M542.1 371.2h0M661.6 196.0h0M739.6 86.3h0M513.2 406.1h0M395.4 468.8h0M764.6 33.1h0M399.9 469.9h0M591.9 308.0h0M729.5 103.9h0M776.0 13.1h0M329.7 511.8h0M623.5 266.3h0M503.0 408.9h0M678.0 184.0h0M497.7 411.6h0M323.8 519.0h0M713.2 121.5h0M341.7 509.1h0M287.0 541.0h0M537.6 381.4h0M390.3 476.4h0M646.5 246.0h0M589.8 325.6h0M725.6 94.5h0M576.5 337.9h0M691.7 158.6h0M557.4 353.7h0M604.6 310.7h0M450.4 453.7h0M484.5 421.2h0M614.3 281.6h0M460.0 445.0h0M631.7 262.0h0M391.2 474.3h0M654.3 228.8h0M628.3 266.6h0M710.7 118.4h0M632.6 255.1h0M558.1 351.3h0M535.3 379.5h0M275.0 542.8h0M745.7 72.7h0M720.4 105.1h0M710.2 129.0h0M739.0 66.2h0M663.1 211.4h0M730.7 89.1h0M591.0 324.7h0M643.5 245.9h0M593.3 315.1h0M451.2 446.3h0M386.2 480.4h0M679.8 195.1h0M573.7 341.4h0M490.4 415.7h0M717.9 116.7h0M444.7 446.3h0M330.0 514.7h0M670.8 193.4h0M297.5 533.2h0M214.1 559.6h0M698.2 143.8h0M728.4 89.9h0M682.3 180.2h0M516.6 395.1h0M643.0 231.3h0M576.5 334.0h0M716.1 111.5h0M688.6 177.5h0M598.4 291.6h0M250.1 546.1h0M707.3 129.4h0M558.0 350.1h0M727.8 89.7h0M626.6 272.5h0M454.6 437.3h0M697.0 145.6h0M349.9 499.4h0M285.0 539.6h0M633.5 249.6h0M226.0 559.8h0M322.2 520.1h0M704.5 115.9h0M577.9 340.0h0M525.0 393.1h0M777.9 15.6h0M759.0 43.0h0M426.1 456.1h0M633.3 259.3h0M681.8 169.9h0M563.3 353.5h0M723.0 111.4h0M713.7 133.4h0M727.6 97.1h0M430.8 454.1h0M673.0 196.8h0M450.1 445.1h0M763.8 44.5h0M606.8 293.9h0M750.3 42.3h0M634.5 248.5h0M654.5 230.1h0M732.4 83.6h0M636.0 243.5h0M614.3 277.8h0M597.9 299.3h0M669.3 199.5h0M608.6 297.9h0M662.7 207.7h0M711.4 128.9h0M604.8 295.4h0M546.7 361.0h0M693.6 162.8h0M723.5 96.0h0M676.4 197.7h0M508.2 404.3h0M759.3 45.9h0M730.1 79.7h0M489.2 420.7h0M610.7 299.2h0M671.7 207.8h0M722.0 111.6h0M362.3 495.5h0M524.0 385.9h0M505.5 406.8h0M653.2 224.4h0M663.9 206.9h0M250.1 556.8h0M479.0 427.6h0M620.0 283.5h0M716.9 109.1h0M558.2 352.2h0M776.9 11.6h0M725.7 97.6h0M611.6 290.7h0M556.1 359.9h0M487.6 429.7h0M595.4 311.4h0M489.7 425.5h0M368.8 485.6h0M519.1 389.5h0M361.1 496.3h0M753.4 39.1h0M755.8 53.2h0M576.6 333.8h0M471.3 429.8h0M594.8 314.7h0M734.7 91.9h0M524.9 386.3h0M368.0 484.5h0M643.0 240.9h0M601.0 300.6h0M748.2 56.3h0M743.6 75.3h0M451.1 444.7h0M604.5 299.9h0M611.8 296.7h0M512.7 395.8h0M762.0 36.5h0M660.3 212.2h0M344.6 508.0h0M402.4 469.0h0M465.1 433.7h0M607.0 299.0h0M331.2 512.3h0M380.7 488.9h0M750.7 51.1h0M346.8 506.7h0M668.9 208.0h0M762.7 30.7h0M428.0 459.0h0M405.0 473.3h0M526.2 390.4h0M765.8 35.5h0M496.0 412.0h0M668.9 198.2h0M609.5 298.4h0M562.9 352.2h0M732.4 77.7h0M751.6 53.9h0M709.8 147.0h0M739.8 76.5h0M537.5 377.8h0M364.0 491.4h0M650.2 235.6h0M560.9 357.3h0M722.0 133.9h0M754.4 109.3h0M459.8 448.2h0M759.4 60.8h0M301.2 541.7h0M653.0 232.9h0M761.5 69.4h0M778.0 16.5h0M561.9 353.6h0M673.5 200.9h0M388.6 486.1h0M643.1 256.3h0M362.4 500.0h0M708.1 148.9h0M660.0 244.8h0M646.0 265.8h0M511.3 409.5h0M733.8 91.8h0M281.8 545.6h0M695.6 206.2h0M311.9 526.5h0M683.3 181.4h0M625.2 271.5h0M752.9 63.9h0M473.2 436.1h0M751.2 65.2h0M636.5 257.5h0M732.4 123.2h0M648.7 240.0h0M273.7 547.8h0M633.2 293.0h0M583.2 338.0h0M322.0 525.8h0M667.3 221.2h0M419.0 477.8h0M602.9 336.3h0M467.6 435.9h0M635.4 273.7h0M691.8 170.3h0M694.5 163.7h0M661.1 223.7h0M755.6 78.6h0M553.7 368.1h0M738.1 113.7h0M337.0 525.2h0M423.2 469.6h0M311.9 539.0h0M559.2 357.5h0M729.0 117.2h0M547.8 368.1h0M739.0 90.9h0M633.1 291.7h0M773.0 54.8h0M704.2 169.5h0M567.0 351.5h0M657.6 243.1h0M569.6 345.7h0M482.6 430.3h0M598.0 345.3h0M369.4 497.4h0M667.9 232.9h0M461.9 445.0h0M460.3 443.0h0M664.5 213.6h0M565.3 363.8h0M552.1 378.1h0M518.2 402.7h0M516.9 402.9h0M769.3 35.0h0M474.4 432.2h0M732.2 94.2h0M639.6 253.2h0M710.6 171.7h0M609.8 293.8h0M665.2 211.6h0M736.2 93.6h0M642.9 260.1h0M381.5 489.2h0M748.3 62.3h0M741.2 93.8h0M482.2 426.6h0M777.0 29.7h0M451.7 454.7h0M513.2 403.7h0M604.4 326.9h0M700.2 176.3h0M545.0 381.2h0M672.9 208.8h0M557.9 363.2h0M698.5 189.7h0M557.3 373.0h0M650.1 256.1h0M754.5 63.1h0M553.8 369.0h0M778.6 39.0h0M652.8 230.8h0M235.7 556.7h0M683.9 190.0h0M721.1 115.1h0M268.4 546.2h0M675.7 192.1h0M441.6 469.7h0M760.2 45.7h0M665.9 226.2h0M783.4 17.3h0M721.0 141.0h0M595.5 325.5h0M510.0 408.2h0M566.3 347.7h0M326.2 522.8h0M357.1 509.2h0M657.5 226.8h0M718.9 138.7h0M692.2 166.6h0M640.0 258.5h0M726.9 130.7h0M576.6 354.0h0M636.9 267.3h0M316.1 530.5h0M601.4 319.9h0M771.6 51.5h0M641.1 261.2h0M774.8 30.5h0M413.5 492.1h0M781.3 13.7h0M763.5 49.8h0M726.8 121.3h0M454.6 449.1h0M677.7 193.4h0M759.3 74.8h0M636.9 256.8h0M648.5 247.1h0M773.6 14.5h0M731.9 100.9h0M610.2 310.8h0M532.6 384.6h0M402.1 475.0h0M653.8 237.3h0M371.0 510.0h0M775.6 14.5h0M528.0 400.5h0M485.9 433.5h0M722.0 141.0h0M251.0 555.9h0M699.6 166.4h0M617.5 290.7h0M624.3 296.3h0M625.7 274.3h0M720.9 132.9h0M594.9 317.0h0M611.3 302.3h0M623.8 289.4h0M278.1 550.8h0M559.8 362.2h0M756.8 56.9h0M712.8 133.7h0M613.7 288.7h0M538.7 386.8h0M490.2 433.2h0M678.8 235.8h0M584.6 334.8h0M530.7 385.9h0M611.0 312.9h0M736.7 104.3h0M741.6 78.9h0M707.6 135.6h0M623.4 283.0h0M417.9 464.9h0M624.8 274.0h0M480.3 436.2h0M726.8 102.4h0M587.4 323.6h0M745.8 76.5h0M757.2 67.4h0M604.9 312.8h0M516.6 402.0h0M595.3 311.8h0M500.6 412.6h0M741.9 74.3h0M215.3 565.1h0M660.1 228.6h0M683.3 198.3h0M536.3 386.6h0M770.0 78.3h0M750.4 60.5h0M445.7 449.8h0M594.2 316.6h0M705.5 144.8h0M729.0 130.4h0M560.1 354.1h0M760.1 63.2h0M283.8 546.9h0M729.3 119.8h0M292.7 540.8h0M540.1 385.5h0M389.1 480.0h0M785.8 39.8h0M591.7 338.8h0M615.9 308.5h0M616.0 292.2h0M581.3 336.0h0M526.6 394.7h0M748.8 64.5h0M745.0 65.4h0M679.3 207.2h0M597.7 316.4h0M674.2 216.4h0M786.1 15.5h0M765.7 42.1h0M552.2 377.8h0M471.3 433.6h0M647.6 237.8h0M287.2 545.6h0M591.0 325.4h0M752.2 51.1h0M371.2 496.1h0M628.4 270.6h0M444.7 454.2h0M681.5 186.1h0M233.9 559.2h0M406.1 473.4h0M348.7 503.5h0M629.6 267.4h0M646.9 247.9h0M631.6 262.1h0M353.4 504.1h0M685.0 197.0h0M697.2 162.2h0M574.6 356.8h0M489.8 433.1h0M674.1 195.1h0M590.8 323.0h0M623.6 281.1h0M678.1 207.1h0M316.0 532.2h0M599.5 332.2h0M759.9 40.7h0M777.2 38.9h0M687.9 173.4h0M641.9 273.0h0M564.7 367.5h0M581.2 335.6h0M680.7 235.1h0M649.5 246.9h0M716.0 149.3h0M736.2 94.3h0M389.5 484.0h0M766.6 31.6h0M781.4 16.7h0M698.4 167.0h0M231.2 566.1h0M763.0 67.7h0M572.7 352.6h0M717.8 147.1h0M668.6 210.0h0M222.4 565.0h0M773.6 27.5h0M654.3 255.8h0M490.6 426.3h0M425.1 463.2h0M566.6 361.6h0M553.9 375.5h0M359.5 509.2h0M687.1 184.6h0M751.6 65.7h0M702.0 152.4h0M608.0 319.4h0M601.6 326.5h0M399.2 474.9h0M745.5 70.4h0M610.8 296.7h0M478.7 431.0h0M317.2 531.8h0M671.3 203.6h0M668.2 235.6h0M606.4 309.1h0M700.0 161.7h0M355.7 501.1h0M745.5 77.9h0M626.3 275.8h0M706.7 145.1h0M572.5 344.8h0M782.4 11.8h0M745.1 91.3h0M543.1 388.0h0M734.3 89.1h0M741.6 80.7h0M583.1 337.8h0M761.2 47.0h0M546.5 386.1h0M588.0 330.8h0M552.8 366.8h0M553.0 367.6h0M271.6 558.4h0M545.9 388.0h0M335.8 516.1h0M492.4 422.2h0M315.6 536.3h0M653.4 234.9h0M534.7 381.7h0M699.9 159.0h0M668.9 220.0h0M668.2 251.0h0M571.9 347.1h0M706.8 144.7h0M580.2 348.4h0M726.4 123.3h0M755.3 60.3h0M688.0 176.6h0M667.0 221.0h0M715.5 140.6h0M662.5 218.0h0M572.5 359.8h0M609.1 308.5h0M743.9 98.2h0M719.9 152.7h0M559.7 362.0h0M630.7 272.1h0M698.4 173.9h0M620.6 289.3h0M665.0 211.3h0M525.6 391.6h0M710.4 144.3h0M688.2 185.5h0M592.4 324.0h0M757.3 45.4h0M527.4 393.1h0M614.9 292.1h0M689.4 181.2h0M681.6 188.4h0M580.3 336.1h0M734.3 89.6h0M633.6 265.3h0M660.8 219.8h0M700.0 160.4h0M653.6 268.8h0M561.7 357.4h0M653.3 242.5h0M719.3 139.8h0M755.0 72.6h0M616.8 291.8h0M572.7 340.4h0M678.8 209.3h0M548.9 372.3h0M623.2 292.7h0M528.1 406.6h0M662.9 260.3h0M549.9 367.8h0M745.6 80.2h0M644.5 292.0h0M529.8 401.9h0M698.7 242.0h0M766.3 47.1h0M511.8 417.0h0M564.3 374.9h0M729.2 110.3h0M664.6 222.9h0M707.8 151.8h0M728.4 119.2h0M697.9 153.6h0M668.4 216.3h0M683.7 195.0h0M752.0 72.4h0M574.5 347.2h0M729.5 157.9h0M707.2 162.2h0M760.1 61.7h0M756.6 64.2h0M719.9 117.3h0M726.7 124.8h0M727.3 107.1h0M571.5 342.5h0M502.3 418.5h0M760.4 69.3h0M744.6 100.1h0M524.2 395.1h0M551.9 367.5h0M683.2 219.4h0M556.2 378.8h0M680.0 212.2h0M732.2 89.0h0M745.1 74.6h0M556.8 358.2h0M760.5 87.5h0M708.3 144.9h0M606.4 310.8h0M552.2 379.4h0M703.7 179.2h0M771.5 49.2h0M722.7 119.7h0M661.3 247.2h0M578.7 332.2h0M611.7 291.4h0M553.8 386.7h0M650.1 243.3h0M696.1 156.3h0M567.2 349.0h0M682.8 212.1h0M557.6 367.0h0M638.7 252.7h0M583.1 328.9h0M769.2 56.7h0M618.7 280.1h0M704.0 188.2h0M700.0 191.5h0M752.3 68.6h0M747.6 61.2h0M694.8 185.7h0M529.4 406.1h0M612.9 294.8h0M753.9 91.2h0M597.4 326.5h0M569.0 369.6h0M611.5 295.2h0M618.7 315.0h0M689.6 178.0h0M727.8 105.6h0M524.8 392.1h0M751.1 66.8h0M568.1 357.1h0M610.9 295.2h0M535.7 389.5h0M611.2 300.5h0M652.3 235.2h0M756.2 66.4h0M667.4 210.6h0M740.1 92.3h0M732.5 97.5h0M738.2 105.3h0M725.8 102.5h0M758.4 90.4h0M713.0 137.3h0M620.9 310.8h0M769.9 87.3h0M661.9 216.1h0M583.3 347.4h0M731.4 112.4h0M699.9 156.8h0M548.5 385.0h0M611.2 291.2h0M774.4 54.7h0M544.4 377.6h0M546.9 370.2h0M591.2 322.2h0M666.2 243.2h0M616.6 294.6h0M703.3 173.0h0M727.3 112.9h0M558.2 359.1h0M585.8 336.5h0M507.7 406.6h0M615.7 290.7h0M591.3 336.3h0M670.1 205.6h0M710.5 138.1h0M575.7 338.2h0M526.0 391.7h0M663.7 244.7h0M568.9 348.6h0M567.3 348.2h0M590.2 347.0h0M777.4 78.5h0M700.5 185.1h0M604.8 303.7h0M571.7 341.2h0M656.4 243.0h0M559.1 356.2h0M723.6 149.8h0M681.8 205.2h0M711.0 136.2h0M598.5 319.9h0M682.8 205.5h0M622.2 289.6h0M778.9 94.5h0M745.0 117.9h0M614.8 292.0h0M648.3 247.0h0M688.0 186.7h0M679.5 215.1h0M675.6 194.9h0M612.6 305.2h0M764.0 70.6h0M669.2 263.6h0M534.8 394.2h0M554.3 363.6h0M539.7 380.0h0M679.2 200.5h0M749.1 65.6h0M675.6 196.7h0M757.8 45.3h0M598.4 309.3h0M736.6 84.7h0M618.9 291.5h0M716.8 172.1h0M580.6 334.9h0M583.5 327.1h0M611.2 311.8h0M549.5 386.4h0M709.6 141.8h0M507.6 406.0h0M731.9 103.1h0M522.2 395.6h0M601.3 311.8h0M730.7 121.3h0M672.3 200.0h0M672.9 219.5h0M632.2 282.9h0M657.6 228.0h0M642.7 270.4h0M667.3 219.8h0M616.2 289.6h0M669.2 233.5h0M636.6 288.4h0M715.7 154.4h0M739.4 95.3h0M724.5 107.7h0M674.5 233.7h0M542.7 382.8h0M612.9 290.4h0M669.4 219.7h0M546.9 374.3h0M731.4 93.2h0M715.3 124.9h0M711.1 130.3h0M648.8 239.5h0M692.7 185.1h0M638.8 250.6h0M736.3 91.3h0M645.3 240.7h0M520.2 408.5h0M664.5 250.7h0M678.5 195.7h0M619.6 293.3h0M589.8 323.0h0M596.4 318.4h0M729.2 119.3h0M564.9 356.2h0M714.7 159.8h0M543.4 398.6h0M625.1 284.1h0M611.6 300.8h0M572.1 343.4h0M598.1 329.6h0M638.7 278.5h0M599.2 323.2h0M701.9 172.2h0M584.2 337.2h0M678.8 194.0h0M697.7 173.7h0M738.7 92.6h0M575.5 350.9h0M703.6 189.3h0M641.0 280.3h0M517.4 401.8h0M755.6 78.3h0M711.0 140.1h0M573.9 346.9h0M627.1 270.9h0M581.1 329.6h0M694.9 173.2h0M574.9 349.9h0M526.8 416.6h0M539.8 391.7h0M764.5 69.9h0M744.6 98.0h0M721.8 109.9h0M687.8 183.3h0M576.9 338.2h0M702.9 180.7h0M625.4 279.6h0M513.3 402.1h0M673.6 214.2h0M758.3 68.6h0M680.4 195.5h0M656.1 227.2h0M739.1 88.5h0M596.2 315.8h0M575.6 360.3h0M616.9 304.4h0M547.8 370.2h0M689.7 193.2h0M679.7 202.3h0M760.4 95.1h0M528.4 396.8h0M701.7 150.2h0M592.2 320.2h0M700.8 177.3h0M693.4 198.9h0M744.4 92.5h0M606.9 299.1h0M668.8 253.0h0M697.6 189.9h0M704.9 160.3h0M671.5 199.9h0M630.6 265.2h0M593.8 334.9h0M546.6 379.5h0M699.7 151.9h0M679.2 189.3h0M527.8 403.1h0M648.9 247.9h0M551.8 366.6h0M720.1 119.7h0M644.6 261.0h0M763.1 67.1h0M703.6 162.3h0M559.8 364.9h0M748.2 87.7h0M629.7 290.4h0M625.7 306.4h0M744.0 76.1h0M518.4 400.8h0M511.3 404.3h0M736.7 93.8h0M752.5 94.1h0M642.3 245.4h0M716.5 146.3h0M601.1 307.6h0M581.7 368.6h0M621.2 284.9h0M752.0 67.7h0M708.2 143.0h0M716.1 119.1h0M667.5 226.0h0M672.3 201.5h0M567.7 352.3h0M554.4 377.5h0M606.0 331.5h0M737.5 94.7h0M529.7 392.3h0M638.1 253.6h0M598.3 314.1h0M592.1 325.7h0M737.4 103.2h0M708.5 149.3h0M714.2 134.1h0M700.7 160.4h0M634.4 269.0h0M595.8 313.8h0M747.0 76.1h0M729.9 106.3h0M661.0 232.6h0M659.4 220.6h0M680.3 190.3h0M658.2 226.8h0M673.4 218.0h0M656.3 237.6h0M704.0 161.6h0M758.5 79.3h0M633.5 262.5h0M769.8 9.4h0M761.9 8.7h0M782.0 22.2h0M772.4 10.0h0M776.8 10.6h0M766.8 13.2h0M781.5 18.4h0M767.1 9.4h0M764.2 12.7h0M762.7 16.3h0M766.4 13.2h0M762.0 13.3h0M771.8 11.8h0M766.8 10.2h0M761.6 14.3h0M773.7 8.7h0M770.5 19.0h0M767.0 8.8h0M763.2 10.2h0M768.7 11.0h0M774.5 15.2h0M779.4 12.2h0M768.8 10.7h0M760.2 17.8h0M777.3 16.3h0M771.0 12.1h0M763.3 16.3h0M777.4 15.7h0M775.0 9.2h0M756.9 17.2h0M770.7 9.3h0M765.9 16.2h0M768.0 20.7h0M761.5 12.8h0M774.4 13.9h0M756.7 8.7h0M771.2 14.6h0M766.7 22.9h0M775.8 15.6h0M758.9 20.0h0M769.1 19.5h0M774.6 12.9h0M775.2 16.6h0M772.0 19.2h0M763.6 11.0h0M767.1 14.4h0M774.5 13.4h0M766.5 13.8h0M765.4 13.1h0M769.0 9.9h0M762.8 12.6h0M761.3 15.7h0M772.7 20.0h0M777.9 22.1h0M777.6 17.9h0M769.3 15.4h0M772.7 10.1h0M766.0 11.3h0M778.9 15.9h0M770.2 12.3h0M773.8 13.3h0M767.7 9.3h0M762.1 10.3h0M773.0 16.8h0M761.6 13.6h0M763.2 9.9h0M767.7 9.9h0M757.6 21.8h0M766.0 16.1h0M766.0 16.2h0M756.0 9.0h0M759.3 15.0h0M762.7 19.5h0M772.2 9.3h0M762.6 15.2h0M771.4 14.0h0M771.8 8.5h0M755.0 12.1h0M778.9 13.7h0M787.6 11.5h0M766.1 15.3h0M775.4 10.6h0M773.3 9.3h0M755.8 10.5h0M762.6 11.9h0M765.2 15.0h0M773.1 9.3h0M754.7 25.3h0M774.8 10.7h0M767.3 14.2h0M765.1 13.3h0M768.6 13.5h0M772.1 10.4h0M767.9 16.9h0M763.4 11.2h0M772.5 13.3h0M759.4 19.4h0M754.1 13.6h0M769.3 16.5h0M759.2 18.0h0M768.2 12.1h0M766.1 8.9h0M761.2 24.5h0M773.6 8.5h0M782.8 13.4h0M772.2 18.9h0M762.6 9.4h0M766.7 10.2h0M757.3 9.7h0M774.9 13.0h0M759.6 11.8h0M774.5 15.9h0M770.8 11.2h0M767.4 10.7h0M771.2 9.4h0M774.6 9.0h0M783.3 10.7h0M779.5 11.3h0M778.7 12.5h0M766.1 14.7h0M757.5 9.9h0M763.9 12.9h0M769.7 10.5h0M767.9 20.5h0M778.0 12.3h0M769.2 10.3h0M768.2 21.0h0M766.9 20.7h0M770.9 15.4h0M770.6 27.7h0M753.5 15.0h0M783.2 20.6h0M767.5 14.7h0M773.7 10.5h0M764.5 11.9h0M776.7 12.3h0M753.7 11.6h0M768.1 14.8h0M766.1 9.3h0M762.8 11.8h0M765.6 19.8h0M769.2 11.6h0M772.2 8.5h0M763.0 8.9h0M759.4 13.6h0M765.2 11.3h0M776.6 14.2h0M757.7 15.8h0M778.6 12.4h0M768.5 13.1h0M757.1 14.3h0M771.3 15.2h0M769.1 12.3h0M777.8 14.0h0M770.1 13.5h0M772.7 9.0h0M765.0 19.0h0M774.7 8.8h0M750.2 13.4h0M769.9 16.8h0M764.9 10.6h0M757.0 10.3h0M775.6 8.8h0M766.3 9.3h0M768.9 14.1h0M774.1 9.2h0M774.2 15.3h0M774.5 16.1h0M765.1 27.5h0M766.4 12.3h0M758.4 9.6h0M764.0 9.7h0M764.0 10.4h0M770.8 8.7h0M774.1 12.5h0M767.8 9.7h0M759.4 17.3h0M766.9 8.9h0M774.3 10.0h0M770.1 8.9h0M765.7 12.4h0M771.8 10.6h0M758.9 23.7h0M772.8 14.6h0M764.0 16.8h0M763.0 13.7h0M774.3 10.0h0M771.3 10.5h0M760.1 20.8h0M765.1 15.0h0M770.4 14.7h0M776.7 20.9h0M773.5 11.5h0M764.8 11.7h0M764.2 21.0h0M779.4 10.5h0M767.6 9.8h0M759.5 24.2h0M769.1 11.2h0M769.4 9.8h0M765.5 12.7h0M760.5 13.6h0M758.0 12.3h0M778.5 10.7h0M761.7 14.1h0M778.9 19.9h0M770.0 14.3h0M774.1 10.9h0M763.9 9.4h0M776.1 9.7h0M754.7 14.9h0M773.7 17.0h0M766.7 19.7h0M764.0 13.1h0M774.8 12.9h0M755.9 11.6h0M755.6 10.3h0M773.4 17.1h0M770.8 12.5h0M771.0 12.5h0M756.4 9.9h0M772.4 10.3h0M763.3 12.6h0M762.5 12.9h0M779.6 10.3h0M770.0 14.5h0M764.3 15.6h0M779.2 13.6h0M765.2 11.1h0M762.7 10.7h0M772.9 9.9h0M782.8 10.4h0M764.6 13.1h0M765.3 14.2h0M771.0 9.6h0M770.6 10.3h0M775.2 18.7h0M771.5 16.7h0M768.3 15.1h0M774.2 11.8h0M757.6 12.4h0M755.5 11.7h0M784.6 12.1h0M776.5 28.7h0M750.5 16.9h0M781.5 33.0h0M782.3 31.1h0M785.1 22.2h0M763.6 15.8h0M785.2 29.8h0M756.4 29.9h0M756.9 10.5h0M751.3 9.7h0M787.4 15.5h0M785.2 10.8h0M789.2 15.4h0M753.7 21.0h0M785.1 32.5h0M786.8 14.0h0M757.8 12.8h0M752.3 15.0h0M784.4 15.3h0M779.8 29.8h0M758.6 19.0h0M766.0 8.6h0M766.9 26.8h0M777.8 17.5h0M771.3 25.5h0M779.4 18.0h0M778.2 14.5h0M756.5 9.5h0M784.0 32.1h0M764.6 18.7h0M768.5 23.6h0M754.5 19.3h0M772.2 16.2h0M789.0 21.9h0M758.3 20.3h0M780.8 18.5h0M778.4 14.4h0M779.5 13.2h0M754.8 18.5h0M787.8 28.9h0M774.0 20.9h0M789.1 19.3h0M754.1 27.9h0M783.5 33.4h0M760.1 12.4h0M787.6 17.0h0M774.9 19.7h0M777.2 26.7h0M761.8 14.0h0M784.0 10.2h0M786.4 18.3h0M773.3 20.5h0M779.0 20.8h0M770.7 10.0h0M770.1 33.6h0M770.3 19.8h0M775.4 22.5h0M780.3 8.8h0M785.5 31.7h0M776.7 28.7h0M776.4 17.4h0M783.7 29.2h0M756.9 15.5h0M772.7 18.5h0M768.6 14.1h0M758.4 27.9h0M765.5 25.2h0M788.1 18.9h0M785.6 16.7h0M761.9 26.5h0" stroke="#f00" stroke-width="2.5" stroke-linecap="square" fill="none"/>
<path d="M434.2 330.5h0M740.3 27.9h0M657.8 124.8h0M206.7 515.1h0M244.9 485.8h0M645.0 128.9h0M283.1 464.0h0M319.7 425.2h0M570.8 207.5h0M457.7 314.6h0M687.6 94.6h0M438.2 325.1h0M626.7 145.7h0M292.7 458.1h0M597.3 172.9h0M426.9 339.9h0M750.3 27.7h0M311.2 439.5h0M713.6 69.2h0M241.0 485.7h0M705.1 70.8h0M236.0 495.4h0M118.9 565.8h0M756.9 13.9h0M167.9 538.2h0M477.9 292.6h0M661.3 114.1h0M714.6 58.9h0M400.4 355.1h0M708.3 67.4h0M249.5 480.4h0M448.4 314.7h0M123.7 564.7h0M276.0 464.0h0M730.0 49.8h0M461.8 301.7h0M115.6 567.5h0M196.9 523.2h0M567.3 203.6h0M131.7 557.5h0M568.0 204.9h0M206.1 517.4h0M525.8 247.5h0M621.2 155.8h0M336.0 418.6h0M164.6 540.1h0M163.7 542.4h0M417.0 345.7h0M723.6 45.7h0M511.9 269.7h0M299.1 448.2h0M318.5 424.2h0M645.5 131.4h0M428.8 335.2h0M220.6 504.9h0M632.7 135.7h0M121.2 562.7h0M540.9 226.6h0M749.8 22.1h0M583.8 195.4h0M646.0 128.8h0M121.5 566.2h0M392.6 367.3h0M638.4 146.5h0M421.4 346.2h0M676.1 94.8h0M232.7 499.3h0M698.0 79.1h0M601.2 167.4h0M193.3 521.6h0M580.5 196.0h0M447.9 320.5h0M682.0 93.1h0M195.1 522.4h0M506.3 269.9h0M286.9 458.9h0M610.4 164.7h0M219.9 506.4h0M707.0 64.9h0M699.3 78.2h0M676.5 102.6h0M540.3 243.6h0M609.2 166.3h0M437.1 327.2h0M553.3 219.4h0M410.0 347.5h0M116.7 564.2h0M512.5 258.0h0M589.6 182.0h0M585.1 195.2h0M452.2 310.6h0M189.1 525.5h0M636.6 131.7h0M482.6 289.6h0M739.6 38.9h0M150.9 551.3h0M474.4 292.5h0M280.8 453.8h0M547.3 218.0h0M147.3 550.9h0M538.5 238.9h0M596.7 179.5h0M502.7 272.8h0M701.7 70.3h0M491.4 282.3h0M629.5 151.7h0M315.3 433.5h0M409.8 350.7h0M621.7 156.4h0M413.5 346.4h0M232.5 493.9h0M676.4 108.1h0M595.6 183.8h0M238.1 495.2h0M296.7 448.9h0M599.4 173.9h0M210.9 511.5h0M710.7 64.5h0M593.6 181.7h0M404.9 353.0h0M722.6 48.8h0M305.2 442.1h0M151.6 548.9h0M432.5 325.6h0M327.1 430.5h0M138.0 555.6h0M683.3 100.3h0M373.4 389.9h0M749.2 27.7h0M477.0 289.2h0M611.8 167.0h0M507.0 252.7h0M360.2 394.3h0M610.2 169.0h0M256.7 475.6h0M117.3 567.9h0M602.0 176.4h0M411.0 352.5h0M718.6 46.9h0M330.0 426.7h0M256.4 477.0h0M300.6 444.6h0M393.9 365.8h0M281.9 453.8h0M393.8 365.9h0M510.2 256.8h0M274.5 463.6h0M476.5 293.0h0M741.8 22.3h0M117.0 565.3h0M561.2 209.5h0M534.1 237.8h0M140.5 554.0h0M317.2 435.1h0M411.7 347.2h0M545.3 220.4h0M587.3 177.6h0M711.4 55.2h0M560.9 212.4h0M253.0 485.9h0M349.3 401.9h0M516.0 253.9h0M522.8 247.2h0M546.0 228.9h0M697.9 81.4h0M278.6 462.6h0M218.6 507.2h0M117.0 568.4h0M534.9 227.0h0M626.4 154.1h0M486.2 279.1h0M207.1 512.3h0M434.5 330.9h0M226.8 502.6h0M429.5 324.8h0M712.8 68.0h0M290.1 456.3h0M131.3 559.4h0M658.7 119.7h0M534.4 231.9h0M238.6 492.1h0M320.4 422.8h0M127.7 559.6h0M445.9 323.6h0M365.2 387.2h0M295.5 451.1h0M647.5 129.5h0M188.5 525.5h0M182.9 531.3h0M243.1 487.3h0M470.7 296.5h0M337.4 421.0h0M455.6 311.4h0M374.4 385.3h0M173.0 535.9h0M125.9 563.0h0M543.5 224.4h0M637.5 129.7h0M636.7 146.8h0M666.4 110.7h0M453.3 314.4h0M479.8 289.5h0M713.5 60.4h0M533.2 237.2h0M716.6 58.8h0M241.5 488.2h0M226.7 500.0h0M753.9 12.2h0M415.4 349.9h0M498.1 279.8h0M430.5 331.4h0M610.1 163.4h0M337.7 411.1h0M720.8 55.2h0M343.7 417.5h0M324.6 426.0h0M169.3 537.0h0M551.3 222.1h0M556.5 215.5h0M176.8 534.9h0M184.9 528.7h0M519.1 256.8h0M632.0 143.8h0M528.2 248.9h0M247.8 484.7h0M533.5 234.2h0M580.4 186.6h0M750.0 26.2h0M620.6 152.2h0M719.0 53.3h0M513.3 250.8h0M276.8 460.0h0M432.0 329.6h0M120.7 564.5h0M622.0 157.5h0M116.9 565.9h0M204.3 517.0h0M297.9 445.8h0M442.6 320.7h0M689.7 89.8h0M239.1 495.7h0M635.7 142.0h0M219.7 504.9h0M520.5 252.3h0M634.2 145.8h0M582.2 198.8h0M202.1 517.5h0M536.9 236.6h0M383.5 375.3h0M437.8 330.2h0M355.6 394.9h0M205.0 516.3h0M286.8 450.2h0M435.3 327.6h0M695.7 84.8h0M470.0 298.3h0M633.0 144.4h0M731.8 41.8h0M530.8 241.8h0M450.6 320.2h0M426.8 337.2h0M730.5 44.1h0M576.3 200.9h0M333.9 417.9h0M578.1 196.2h0M459.6 307.3h0M280.7 464.6h0M558.7 215.3h0M639.8 134.1h0M616.9 155.1h0M580.4 188.9h0M305.5 441.9h0M610.6 166.1h0M348.8 412.1h0M510.6 265.9h0M169.4 535.8h0M151.4 549.1h0M358.1 399.7h0M302.0 444.7h0M707.8 64.3h0M263.2 474.6h0M543.0 231.4h0M319.3 433.4h0M663.1 112.9h0M704.5 74.2h0M575.3 202.0h0M408.3 349.3h0M438.0 322.8h0M147.1 550.6h0M267.0 470.3h0M217.5 503.8h0M194.4 520.1h0M720.5 51.4h0M192.5 523.7h0M578.4 191.0h0M491.0 277.5h0M444.8 323.7h0M264.2 470.5h0M713.2 57.3h0M598.6 170.9h0M539.2 238.4h0M569.5 206.3h0M643.4 124.8h0M122.2 564.1h0M166.1 538.4h0M317.0 436.2h0M727.1 43.2h0M262.5 476.1h0M520.8 251.9h0M660.4 123.3h0M698.1 75.5h0M281.7 461.8h0M695.2 81.2h0M268.6 468.1h0M115.3 568.1h0M610.3 160.3h0M716.5 62.5h0M667.1 116.9h0M671.8 105.7h0M542.9 230.4h0M408.8 351.9h0M596.6 179.9h0M379.9 385.0h0M442.6 321.5h0M424.3 342.3h0M691.7 80.0h0M697.2 76.6h0M361.7 394.5h0M510.5 254.1h0M673.3 107.4h0M511.5 256.4h0M361.7 390.0h0M600.0 183.1h0M687.6 78.8h0M608.2 173.8h0M418.6 341.1h0M740.7 32.7h0M566.1 210.6h0M242.7 484.2h0M667.0 108.0h0M473.5 292.5h0M704.6 63.9h0M559.4 216.6h0M392.5 367.7h0M620.3 153.0h0M160.7 545.0h0M617.5 154.9h0M275.9 463.6h0M336.8 416.8h0M551.8 217.4h0M755.1 19.0h0M282.2 461.3h0M229.3 497.6h0M646.2 131.4h0M501.3 262.6h0M674.8 101.6h0M193.4 525.2h0M220.0 501.0h0M534.5 236.7h0M572.5 193.3h0M417.7 348.3h0M465.6 298.3h0M474.8 291.1h0M115.1 567.4h0M320.9 426.2h0M692.2 84.3h0M717.6 50.4h0M311.9 431.4h0M746.1 25.1h0M374.1 380.6h0M170.7 537.0h0M667.4 115.0h0M488.4 280.1h0M467.3 300.0h0M729.8 47.6h0M458.8 306.2h0M405.8 353.0h0M126.5 559.3h0M241.0 486.4h0M187.8 528.3h0M352.8 402.6h0M264.6 474.4h0M509.4 258.8h0M257.8 480.7h0M481.8 283.1h0M166.4 537.9h0M304.8 435.6h0M759.8 17.1h0M694.6 82.1h0M212.5 511.9h0M236.4 495.0h0M499.0 276.2h0M562.4 204.8h0M591.0 183.7h0M747.1 12.9h0M338.5 405.4h0M635.4 146.6h0M175.3 535.0h0M397.3 361.7h0M290.2 455.6h0M731.9 92.9h0M698.1 150.4h0M543.0 373.8h0M642.7 245.8h0M654.8 227.9h0M389.2 474.8h0M741.0 80.7h0M363.9 492.5h0M709.5 137.6h0M718.8 107.7h0M778.4 15.9h0M377.6 492.7h0M674.1 198.2h0M289.3 539.5h0M491.2 419.5h0M718.9 104.9h0M593.9 306.0h0M715.6 117.7h0M691.7 161.6h0M515.7 399.7h0M620.7 272.6h0M531.0 386.7h0M738.7 85.5h0M603.8 299.1h0M595.1 315.2h0M732.6 80.7h0M565.1 348.6h0M638.0 261.6h0M617.3 279.0h0M721.2 98.0h0M682.6 192.1h0M547.2 356.8h0M656.7 211.2h0M657.9 218.0h0M660.8 211.8h0M689.1 173.3h0M757.8 53.4h0M665.9 207.1h0M434.0 457.6h0M725.0 111.6h0M628.9 271.0h0M445.2 446.4h0M770.7 7.6h0M723.5 107.0h0M698.0 160.5h0M530.1 381.8h0M746.1 64.3h0M732.7 101.0h0M749.5 62.6h0M726.6 102.4h0M742.0 79.4h0M317.7 528.8h0M641.3 236.2h0M290.9 538.9h0M632.7 269.6h0M435.4 447.9h0M338.9 510.1h0M427.1 458.5h0M372.9 491.9h0M685.6 177.9h0M701.6 160.9h0M538.9 380.9h0M552.2 369.5h0M478.4 428.0h0M543.7 378.8h0M728.6 81.2h0M721.8 111.5h0M756.2 49.5h0M280.2 543.6h0M404.3 468.0h0M268.2 550.6h0M641.0 257.3h0M502.5 415.1h0M379.8 482.4h0M574.0 336.4h0M224.9 558.2h0M616.8 283.1h0M739.3 68.5h0M623.9 273.0h0M488.5 424.8h0M745.4 34.2h0M256.9 546.8h0M660.8 226.2h0M329.8 515.8h0M475.7 430.7h0M535.0 382.2h0M728.6 84.7h0M652.8 228.2h0M639.7 249.5h0M666.2 198.0h0M296.4 530.9h0M422.1 457.8h0M376.5 491.1h0M579.4 330.9h0M718.1 102.1h0M320.4 520.7h0M710.0 138.2h0M631.6 256.7h0M645.7 239.2h0M390.1 481.9h0M622.2 278.8h0M756.1 45.4h0M366.3 492.2h0M689.8 160.7h0M262.4 548.5h0M500.4 409.3h0M657.4 217.0h0M527.5 388.9h0M727.2 91.8h0M511.2 400.8h0M755.4 41.7h0M563.4 355.2h0M743.5 61.2h0M573.4 341.6h0M420.2 465.6h0M444.8 449.5h0M657.1 226.2h0M576.4 337.4h0M446.8 451.1h0M700.3 141.6h0M636.7 245.4h0M616.3 278.6h0M498.9 411.9h0M743.1 73.5h0M455.8 438.4h0M311.3 522.2h0M344.3 504.6h0M675.9 189.9h0M497.8 417.0h0M542.2 378.8h0M493.7 423.1h0M588.7 325.2h0M723.7 106.8h0M317.1 522.7h0M432.1 460.0h0M623.5 270.7h0M697.2 149.3h0M707.2 145.2h0M772.4 14.3h0M750.3 68.7h0M260.8 551.9h0M588.6 321.8h0M360.2 494.8h0M461.5 439.6h0M590.0 317.5h0M757.8 40.6h0M739.6 72.4h0M626.3 268.2h0M526.9 391.6h0M589.1 312.8h0M356.1 502.7h0M683.0 187.1h0M521.7 389.5h0M571.2 346.3h0M408.8 473.0h0M706.4 151.0h0M551.2 366.1h0M298.5 536.6h0M529.7 383.5h0M757.4 48.3h0M527.8 388.6h0M409.2 467.0h0M767.2 26.3h0M753.6 36.6h0M777.6 19.4h0M478.0 431.1h0M734.1 84.5h0M370.8 488.7h0M528.4 387.4h0M486.9 423.0h0M642.5 248.7h0M629.9 265.4h0M543.2 367.3h0M672.8 200.3h0M693.0 158.5h0M547.6 360.6h0M280.3 544.8h0M539.2 375.4h0M675.0 187.1h0M359.7 502.0h0M755.6 52.1h0M624.9 273.4h0M441.5 451.8h0M628.1 268.1h0M756.4 50.7h0M765.8 12.0h0M670.3 196.5h0M511.5 401.7h0M709.1 126.7h0M710.6 123.4h0M264.7 546.4h0M427.4 464.6h0M283.2 536.8h0M731.5 98.2h0M633.6 253.6h0M627.8 264.0h0M566.5 343.4h0M628.0 279.1h0M494.5 414.9h0M655.8 218.0h0M699.9 168.5h0M612.3 285.2h0M237.2 554.6h0M676.9 189.7h0M584.5 317.9h0M764.7 37.9h0M611.7 289.0h0M641.0 250.9h0M669.6 217.3h0M406.2 475.0h0M662.9 215.0h0M685.0 181.6h0M727.7 93.1h0M376.7 487.2h0M734.7 75.6h0M732.5 91.4h0M767.1 24.9h0M765.9 28.7h0M658.8 221.5h0M586.6 317.2h0M320.1 518.9h0M681.9 186.8h0M749.9 71.6h0M377.0 483.1h0M771.1 11.7h0M495.4 416.4h0M437.8 451.0h0M521.5 392.7h0M497.0 412.0h0M351.5 500.3h0M754.9 51.2h0M519.9 396.0h0M444.4 448.9h0M705.6 138.7h0M716.4 116.2h0M721.2 84.8h0M604.4 305.9h0M499.4 421.2h0M404.8 473.3h0M385.6 486.7h0M756.9 34.8h0M579.4 331.6h0M309.7 528.0h0M698.6 158.6h0M313.4 529.3h0M684.8 177.1h0M752.9 62.9h0M746.3 63.3h0M381.9 486.5h0M690.8 142.6h0M396.1 473.8h0M723.6 106.6h0M427.1 459.8h0M570.3 336.6h0M740.9 80.6h0M637.5 250.1h0M279.4 541.3h0M724.9 111.0h0M706.7 144.6h0M448.3 446.4h0M631.4 249.6h0M714.9 128.1h0M326.8 517.9h0M677.6 177.2h0M551.7 366.3h0M662.3 214.0h0M685.2 187.6h0M270.3 543.1h0M376.8 490.7h0M772.7 8.9h0M768.6 3.4h0M644.9 242.6h0M665.7 210.6h0M671.0 198.0h0M453.1 447.2h0M781.1 12.4h0M719.2 117.1h0M659.5 214.1h0M372.2 490.5h0M709.4 129.7h0M641.0 245.8h0M720.7 115.6h0M539.1 381.3h0M671.3 204.7h0M641.1 254.4h0M519.2 400.5h0M716.4 121.6h0M573.8 344.3h0M491.2 419.5h0M320.3 527.7h0M726.0 88.5h0M712.6 103.1h0M586.3 320.3h0M489.7 419.7h0M563.4 336.5h0M731.6 91.2h0M694.4 165.0h0M686.0 165.9h0M355.1 499.1h0M438.2 450.7h0M529.0 387.0h0M713.6 124.6h0M502.5 410.9h0M693.3 160.3h0M627.9 271.9h0M550.6 368.3h0M468.6 437.2h0M737.8 81.5h0M653.1 233.2h0M458.9 436.2h0M780.4 10.2h0M669.3 204.9h0M708.2 143.4h0M585.6 313.1h0M569.8 340.9h0M753.1 51.2h0M683.4 189.9h0M756.8 45.5h0M754.6 33.8h0M734.7 87.8h0M624.1 269.5h0M527.9 391.3h0M575.2 339.2h0M678.8 188.2h0M682.2 179.0h0M729.8 86.2h0M627.1 282.7h0M646.6 249.9h0M772.2 24.7h0M702.5 158.1h0M532.2 379.9h0M512.1 402.8h0M647.9 244.8h0M452.2 447.9h0M555.8 356.8h0M728.4 89.9h0M691.6 163.6h0M292.5 532.2h0M667.9 213.5h0M594.1 314.3h0M749.2 47.2h0M590.8 314.6h0M494.1 418.2h0M568.6 347.6h0M756.3 48.7h0M482.2 428.7h0M762.3 37.0h0M713.4 126.3h0M280.7 540.6h0M438.2 453.0h0M580.9 329.3h0M513.8 398.6h0M695.7 154.7h0M470.0 430.4h0M718.7 105.1h0M475.0 427.1h0M694.2 161.8h0M752.5 46.2h0M635.1 257.8h0M483.3 432.0h0M576.5 338.9h0M643.0 233.6h0M720.1 114.5h0M661.7 214.5h0M700.8 126.9h0M661.5 222.4h0M434.3 457.7h0M683.8 172.5h0M490.0 422.7h0M652.1 233.4h0M605.6 296.9h0M531.4 384.7h0M352.7 499.9h0M578.2 337.4h0M606.0 305.3h0M565.3 346.7h0M600.2 299.0h0M285.3 542.3h0M536.3 372.1h0M510.4 396.0h0M566.5 356.6h0M685.4 178.3h0M299.4 537.1h0M756.1 45.8h0M293.7 530.1h0M496.5 414.3h0M406.0 467.7h0M758.7 41.2h0M617.7 289.4h0M349.3 505.0h0M720.8 104.8h0M537.2 375.4h0M653.3 224.3h0M746.1 58.3h0M354.4 499.8h0M560.6 358.8h0M603.9 293.9h0M740.6 69.6h0M720.1 113.0h0M769.4 33.6h0" stroke="#a02828" stroke-opacity="0.6" stroke-width="2" stroke-linecap="round" fill="none"/></g></g>
<rect x="105" y="4.8" width="727.7" height="564.2" fill="none" stroke="#000" stroke-width="3"/>
<path d="M106 55.7h8.8M106 130.0h8.8M106 205.2h8.8M106 279.0h8.8M106 352.8h8.8M106 427.0h8.8M106 500.2h8.8M199.5 568v-6M285.5 568v-6M372 568v-6M458 568v-6M544 568v-6M629 568v-6M719.5 568v-6" stroke="#000" stroke-width="3.2" stroke-linecap="round" fill="none"/>
<text transform="translate(97.6 66.9) scale(0.965 1)" text-anchor="end">2.8</text>
<text transform="translate(97.6 143) scale(0.965 1)" text-anchor="end">2.4</text>
<text transform="translate(97.6 218.5) scale(0.965 1)" text-anchor="end">2.0</text>
<text transform="translate(97.6 294) scale(0.965 1)" text-anchor="end">1.6</text>
<text transform="translate(97.6 367.9) scale(0.965 1)" text-anchor="end">1.2</text>
<text transform="translate(97.6 441) scale(0.965 1)" text-anchor="end">0.8</text>
<text transform="translate(97.6 517.7) scale(0.965 1)" text-anchor="end">0.4</text>
<text x="197.5" y="606" text-anchor="middle">10</text>
<text x="285.0" y="606" text-anchor="middle">20</text>
<text x="371.5" y="606" text-anchor="middle">30</text>
<text x="457.5" y="606" text-anchor="middle">40</text>
<text x="545.5" y="606" text-anchor="middle">50</text>
<text x="629.5" y="606" text-anchor="middle">60</text>
<text x="719.0" y="606" text-anchor="middle">70</text>
<text x="104.3" y="606" text-anchor="middle">-0.4</text>
<text transform="translate(816.8 606) scale(0.95 1)" text-anchor="middle">83.3</text>
<text class="t" x="473.5" y="653" text-anchor="middle">Depth/(nm)</text>
<text class="t" transform="translate(31.2,287.5) rotate(-90)" text-anchor="middle">Load/(mN)</text>
</svg>
</body></html>
